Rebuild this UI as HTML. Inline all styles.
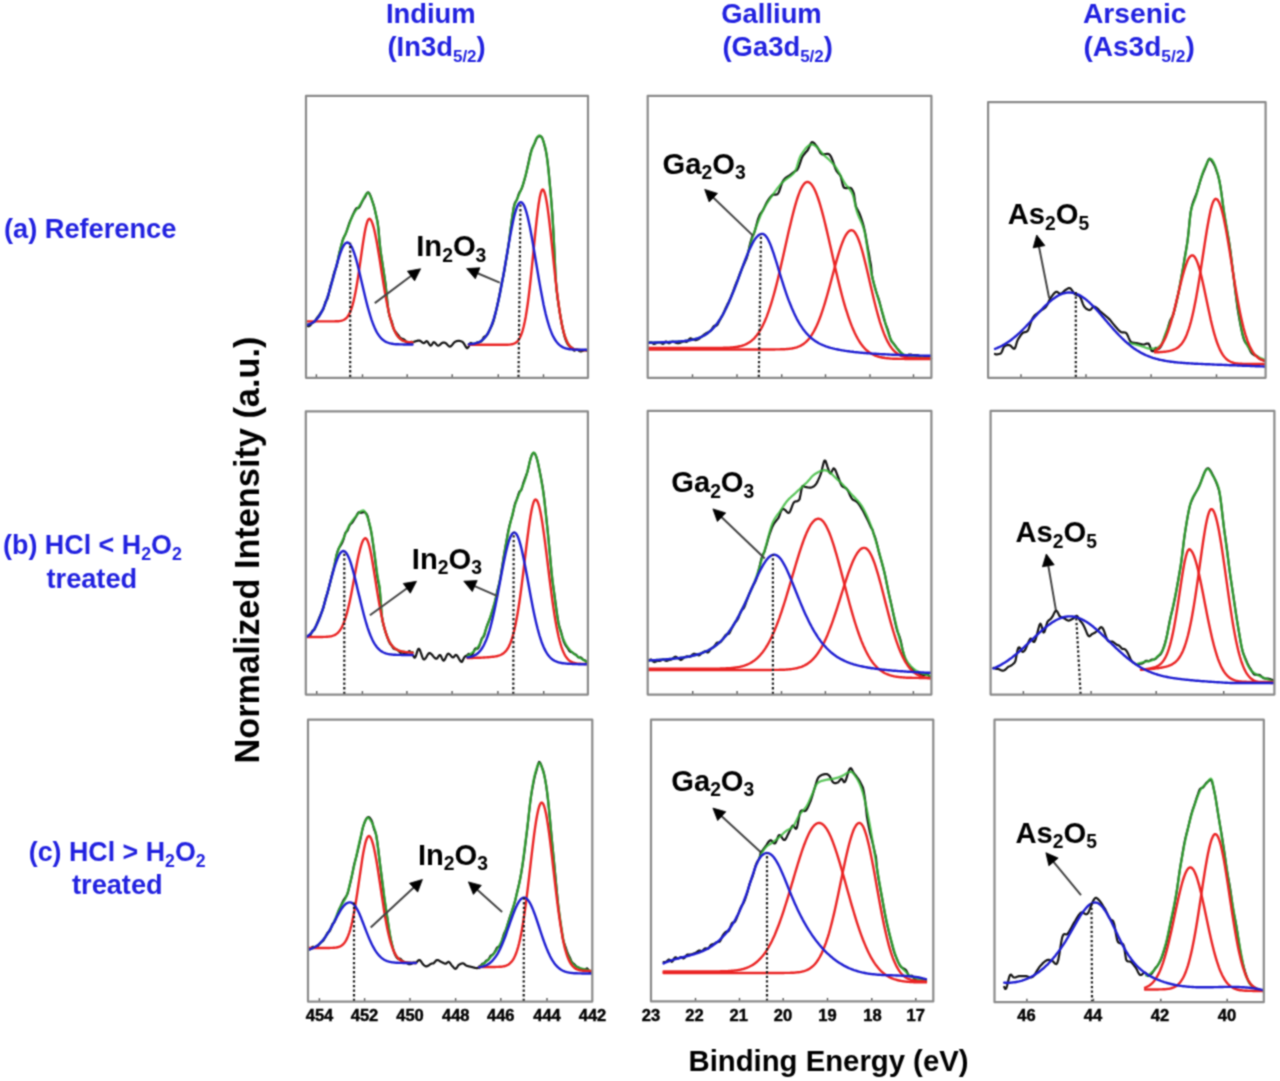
<!DOCTYPE html>
<html><head><meta charset="utf-8"><style>
html,body{margin:0;padding:0;background:#fff;}
svg{display:block;}
text{font-family:"Liberation Sans",sans-serif;font-weight:bold;}
</style></head><body>
<svg width="1280" height="1081" viewBox="0 0 1280 1081">
<defs><filter id="bl" color-interpolation-filters="sRGB" filterUnits="userSpaceOnUse" x="0" y="0" width="1280" height="1081"><feConvolveMatrix order="3" kernelMatrix="1 2 1 2 6 2 1 2 1" edgeMode="duplicate"/></filter></defs><g filter="url(#bl)"><rect x="0" y="0" width="1280" height="1081" fill="#fff"/>
<path d="M316.4,377.8 L316.4,374.3" stroke="#555" stroke-width="1.4"/><path d="M362.5,377.8 L362.5,374.3" stroke="#555" stroke-width="1.4"/><path d="M407.2,377.8 L407.2,374.3" stroke="#555" stroke-width="1.4"/><path d="M452.2,377.8 L452.2,374.3" stroke="#555" stroke-width="1.4"/><path d="M498.3,377.8 L498.3,374.3" stroke="#555" stroke-width="1.4"/><path d="M543.5,377.8 L543.5,374.3" stroke="#555" stroke-width="1.4"/><path d="M306.5,324.6 L307.5,325.9 L308.5,326.3 L309.5,325.9 L310.5,325.1 L311.5,323.7 L312.5,322.6 L313.5,322.3 L314.5,321.9 L315.5,320.4 L316.5,318.6 L317.5,317.1 L318.5,315.9 L319.5,314.6 L320.5,313.0 L321.5,311.5 L322.5,310.4 L323.5,308.6 L324.5,305.3 L325.5,301.9 L326.5,300.2 L327.5,298.8 L328.5,295.1 L329.5,289.9 L330.5,285.7 L331.5,282.5 L332.5,279.1 L333.5,275.1 L334.5,271.5 L335.5,269.1 L336.5,266.5 L337.5,262.1 L338.5,256.8 L339.5,252.2 L340.5,248.3 L341.5,244.4 L342.5,240.7 L343.5,238.0 L344.5,236.1 L345.5,234.2 L346.5,231.6 L347.5,228.7 L348.5,225.7 L349.5,222.6 L350.5,220.1 L351.5,218.0 L352.5,215.7 L353.5,213.5 L354.5,211.6 L355.5,209.6 L356.5,208.2 L357.5,208.2 L358.5,208.2 L359.5,206.9 L360.5,204.9 L361.5,203.0 L362.5,201.0 L363.5,199.2 L364.5,197.8 L365.5,196.1 L366.5,193.9 L367.5,192.5 L368.5,192.4 L369.5,193.7 L370.5,195.9 L371.5,198.7 L372.5,201.7 L373.5,204.6 L374.5,208.2 L375.5,212.7 L376.5,217.3 L377.5,221.6 L378.5,228.8 L379.5,240.8 L380.5,250.4 L381.5,257.5 L382.5,263.8 L383.5,270.3 L384.5,276.9 L385.5,283.9 L386.5,292.9 L387.5,303.2 L388.5,311.1 L389.5,316.2 L390.5,318.6 L391.5,320.7 L392.5,324.4 L393.5,328.4 L394.5,330.6 L395.5,331.8 L396.5,333.0 L397.5,334.3 L398.5,335.5 L399.5,336.9 L400.5,338.0 L401.5,338.5 L402.5,338.8 L403.5,339.3 L404.5,339.8 L405.5,340.8 L406.5,342.1 L407.5,342.8 L408.5,343.0 L409.5,342.9 L410.5,342.2 L411.5,341.8 L412.5,342.3" fill="none" stroke="#151515" stroke-width="2.2" stroke-linejoin="round" stroke-linecap="round" /><path d="M468.9,344.6 L469.9,343.5 L470.9,342.9 L471.9,343.7 L472.9,344.5 L473.9,344.5 L474.9,344.0 L475.9,343.3 L476.9,342.6 L477.9,342.3 L478.9,342.3 L479.9,342.1 L480.9,341.6 L481.9,340.6 L482.9,338.8 L483.8,337.1 L484.8,336.4 L485.8,336.2 L486.8,335.3 L487.8,333.8 L488.8,331.9 L489.8,329.6 L490.8,327.4 L491.8,325.5 L492.8,323.2 L493.8,320.1 L494.8,316.3 L495.8,312.1 L496.8,307.5 L497.8,302.9 L498.8,298.1 L499.8,293.1 L500.8,287.7 L501.8,282.6 L502.8,278.4 L503.8,273.8 L504.8,268.1 L505.8,261.9 L506.8,256.0 L507.8,249.9 L508.8,243.1 L509.8,235.3 L510.8,227.5 L511.8,220.2 L512.8,213.5 L513.7,207.5 L514.7,203.5 L515.7,201.5 L516.7,200.0 L517.7,197.3 L518.7,194.2 L519.7,192.0 L520.7,190.6 L521.7,188.6 L522.7,185.7 L523.7,182.4 L524.7,179.0 L525.7,175.3 L526.7,170.9 L527.7,166.3 L528.7,161.8 L529.7,157.1 L530.7,152.8 L531.7,149.5 L532.7,147.2 L533.7,145.2 L534.7,143.1 L535.7,140.5 L536.7,138.2 L537.7,137.0 L538.7,136.6 L539.7,136.2 L540.7,136.2 L541.7,137.1 L542.7,139.0 L543.6,141.8 L544.6,145.8 L545.6,149.8 L546.6,154.9 L547.6,161.9 L548.6,170.7 L549.6,181.5 L550.6,192.7 L551.6,204.5 L552.6,217.8 L553.6,235.0 L554.6,256.1 L555.6,277.7 L556.6,289.7 L557.6,298.0 L558.6,304.9 L559.6,311.4 L560.6,317.3 L561.6,322.9 L562.6,328.1 L563.6,332.6 L564.6,336.6 L565.6,339.7 L566.6,342.1 L567.6,344.0 L568.6,345.3 L569.6,346.3 L570.6,347.0 L571.6,347.5 L572.6,348.5 L573.5,350.1 L574.5,350.7 L575.5,350.0 L576.5,349.5 L577.5,349.8 L578.5,350.4 L579.5,350.9 L580.5,351.4 L581.5,351.3 L582.5,351.0 L583.5,350.6 L584.5,350.0 L585.5,349.9 L586.5,350.6 L587.5,351.1" fill="none" stroke="#151515" stroke-width="2.2" stroke-linejoin="round" stroke-linecap="round" /><path d="M412.5,342.5 L413.0,342.3 L413.5,342.1 L414.0,341.8 L414.5,341.6 L415.0,341.5 L415.5,341.3 L416.0,341.2 L416.5,341.0 L417.0,340.9 L417.5,340.7 L418.0,340.6 L418.5,340.6 L419.0,340.6 L419.5,340.6 L420.0,340.8 L420.5,341.1 L421.0,341.4 L421.5,341.8 L422.0,342.2 L422.5,342.6 L423.0,342.9 L423.5,343.1 L424.0,343.1 L424.5,342.8 L425.0,342.4 L425.5,341.9 L426.0,341.5 L426.5,341.2 L427.0,341.3 L427.5,341.7 L428.0,342.3 L428.5,343.1 L429.0,343.9 L429.5,344.6 L430.0,345.2 L430.5,345.6 L431.0,345.5 L431.5,345.0 L432.0,344.3 L432.5,343.5 L433.0,342.8 L433.5,342.3 L434.0,342.2 L434.5,342.4 L435.0,342.8 L435.5,343.3 L436.0,343.9 L436.5,344.5 L437.0,345.0 L437.5,345.4 L438.0,345.6 L438.5,345.6 L439.0,345.4 L439.5,345.1 L440.0,344.7 L440.5,344.3 L440.9,343.8 L441.4,343.4 L441.9,343.0 L442.4,342.8 L442.9,342.7 L443.4,342.6 L443.9,342.5 L444.4,342.6 L444.9,342.8 L445.4,343.0 L445.9,343.3 L446.4,343.7 L446.9,344.2 L447.4,344.8 L447.9,345.3 L448.4,345.8 L448.9,346.3 L449.4,346.5 L449.9,346.6 L450.4,346.5 L450.9,346.2 L451.4,345.7 L451.9,345.2 L452.4,344.6 L452.9,344.0 L453.4,343.4 L453.9,342.8 L454.4,342.3 L454.9,341.9 L455.4,341.6 L455.9,341.4 L456.4,341.2 L456.9,341.1 L457.4,341.0 L457.9,340.9 L458.4,340.9 L458.9,340.9 L459.4,340.9 L459.9,341.0 L460.4,341.0 L460.9,341.2 L461.4,341.4 L461.9,341.6 L462.4,341.9 L462.9,342.3 L463.4,342.8 L463.9,343.6 L464.4,344.4 L464.9,345.3 L465.4,346.2 L465.9,347.0 L466.4,347.7 L466.9,348.1 L467.4,348.2 L467.9,347.6 L468.4,347.0 L468.9,346.5" fill="none" stroke="#151515" stroke-width="2.2" stroke-linejoin="round" stroke-linecap="round" /><path d="M306.5,325.0 L307.5,324.7 L308.5,324.5 L309.5,324.1 L310.5,323.7 L311.5,323.3 L312.5,322.7 L313.5,322.1 L314.5,321.3 L315.5,320.4 L316.5,319.4 L317.5,318.3 L318.5,317.0 L319.5,315.5 L320.5,313.9 L321.5,312.1 L322.5,310.1 L323.5,307.9 L324.5,305.5 L325.5,303.0 L326.5,300.2 L327.5,297.2 L328.5,294.1 L329.5,290.8 L330.5,287.4 L331.5,283.9 L332.5,280.2 L333.5,276.6 L334.5,272.9 L335.5,269.3 L336.5,265.6 L337.5,261.5 L338.5,257.1 L339.5,252.7 L340.5,248.4 L341.5,244.5 L342.5,241.3 L343.5,238.5 L344.5,236.0 L345.5,233.7 L346.5,231.4 L347.5,229.0 L348.5,226.4 L349.5,223.7 L350.5,220.9 L351.5,218.3 L352.5,216.0 L353.5,214.0 L354.5,212.4 L355.5,210.9 L356.5,209.6 L357.5,208.3 L358.5,207.0 L359.5,205.7 L360.5,204.2 L361.5,202.4 L362.5,200.4 L363.5,198.4 L364.5,196.5 L365.5,194.8 L366.5,193.6 L367.5,192.9 L368.5,193.0 L369.5,194.2 L370.5,196.3 L371.5,199.0 L372.5,202.0 L373.5,205.0 L374.5,208.3 L375.5,212.2 L376.5,216.9 L377.5,222.5 L378.5,230.6 L379.5,241.9 L380.5,250.6 L381.5,257.3 L382.5,263.6 L383.5,270.3 L384.5,277.3 L385.5,284.8 L386.5,294.5 L387.5,304.8 L388.5,311.1 L389.5,315.5 L390.5,319.0 L391.5,322.4 L392.5,325.5 L393.5,328.3 L394.5,330.6 L395.5,332.7 L396.5,334.5 L397.5,335.9 L398.5,337.2 L399.5,338.3 L400.5,339.1 L401.5,339.8 L402.5,340.4 L403.5,340.9 L404.5,341.2 L405.5,341.5 L406.5,341.8 L407.5,341.9 L408.5,342.1 L409.5,342.2 L410.5,342.3 L411.5,342.3 L412.5,342.4" fill="none" stroke="#34b834" stroke-width="2.3" stroke-linejoin="round" stroke-linecap="round" stroke-opacity="0.8"/><path d="M468.9,344.2 L469.9,344.2 L470.9,344.1 L471.9,344.0 L472.9,343.8 L473.9,343.7 L474.9,343.5 L475.9,343.2 L476.9,342.9 L477.9,342.6 L478.9,342.2 L479.9,341.7 L480.9,341.1 L481.9,340.4 L482.9,339.6 L483.8,338.7 L484.8,337.6 L485.8,336.4 L486.8,335.0 L487.8,333.4 L488.8,331.5 L489.8,329.5 L490.8,327.2 L491.8,324.7 L492.8,321.9 L493.8,318.8 L494.8,315.4 L495.8,311.7 L496.8,307.8 L497.8,303.5 L498.8,299.0 L499.8,294.2 L500.8,289.1 L501.8,283.8 L502.8,278.4 L503.8,272.7 L504.8,266.9 L505.8,261.2 L506.8,255.4 L507.8,249.4 L508.8,242.8 L509.8,235.4 L510.8,227.7 L511.8,220.2 L512.8,213.5 L513.7,208.1 L514.7,204.5 L515.7,202.1 L516.7,199.9 L517.7,197.6 L518.7,195.3 L519.7,193.0 L520.7,190.6 L521.7,188.0 L522.7,185.2 L523.7,181.9 L524.7,178.4 L525.7,174.7 L526.7,170.9 L527.7,167.1 L528.7,163.0 L529.7,158.5 L530.7,154.2 L531.7,150.4 L532.7,147.6 L533.7,145.0 L534.7,142.4 L535.7,140.1 L536.7,138.1 L537.7,136.6 L538.7,135.7 L539.7,135.5 L540.7,136.1 L541.7,137.5 L542.7,139.5 L543.6,142.0 L544.6,145.0 L545.6,148.3 L546.6,154.6 L547.6,163.0 L548.6,172.1 L549.6,182.6 L550.6,193.4 L551.6,204.5 L552.6,217.4 L553.6,234.5 L554.6,255.7 L555.6,277.7 L556.6,290.0 L557.6,298.1 L558.6,304.7 L559.6,311.3 L560.6,317.5 L561.6,323.0 L562.6,327.7 L563.6,331.9 L564.6,335.4 L565.6,338.3 L566.6,340.8 L567.6,342.8 L568.6,344.4 L569.6,345.8 L570.6,346.8 L571.6,347.6 L572.6,348.3 L573.5,348.8 L574.5,349.2 L575.5,349.5 L576.5,349.7 L577.5,349.8 L578.5,349.9 L579.5,350.0 L580.5,350.1 L581.5,350.1 L582.5,350.1 L583.5,350.2 L584.5,350.2 L585.5,350.2 L586.5,350.2 L587.5,350.2" fill="none" stroke="#34b834" stroke-width="2.3" stroke-linejoin="round" stroke-linecap="round" stroke-opacity="0.8"/><path d="M306.5,321.4 L307.5,321.4 L308.5,321.4 L309.5,321.4 L310.5,321.4 L311.5,321.4 L312.5,321.4 L313.5,321.4 L314.5,321.4 L315.5,321.4 L316.5,321.4 L317.5,321.4 L318.5,321.4 L319.5,321.4 L320.5,321.4 L321.5,321.4 L322.5,321.4 L323.5,321.4 L324.5,321.4 L325.5,321.4 L326.5,321.4 L327.5,321.4 L328.5,321.4 L329.5,321.4 L330.5,321.4 L331.5,321.4 L332.5,321.4 L333.5,321.4 L334.5,321.4 L335.5,321.3 L336.5,321.3 L337.5,321.2 L338.5,321.2 L339.5,321.1 L340.5,320.9 L341.5,320.7 L342.5,320.4 L343.5,320.0 L344.5,319.5 L345.5,318.8 L346.5,317.9 L347.5,316.7 L348.5,315.3 L349.5,313.4 L350.5,311.2 L351.5,308.5 L352.5,305.3 L353.5,301.5 L354.5,297.1 L355.5,292.2 L356.5,286.7 L357.5,280.7 L358.5,274.2 L359.5,267.4 L360.5,260.4 L361.5,253.3 L362.5,246.4 L363.5,239.9 L364.5,233.8 L365.5,228.6 L366.5,224.3 L367.5,221.1 L368.5,219.2 L369.5,218.7 L370.5,219.4 L371.5,221.1 L372.5,223.6 L373.5,226.8 L374.5,230.8 L375.5,235.4 L376.5,240.6 L377.5,246.2 L378.5,252.2 L379.5,258.4 L380.5,264.8 L381.5,271.2 L382.5,277.5 L383.5,283.8 L384.5,289.8 L385.5,295.5 L386.5,301.0 L387.5,306.1 L388.5,310.8 L389.5,315.0 L390.5,318.9 L391.5,322.4 L392.5,325.5 L393.5,328.3 L394.5,330.6 L395.5,332.7 L396.5,334.5 L397.5,335.9 L398.5,337.2 L399.5,338.2 L400.5,339.1 L401.5,339.8 L402.5,340.4 L403.5,340.9 L404.5,341.2 L405.5,341.5 L406.5,341.8 L407.5,341.9 L408.5,342.1 L409.5,342.2 L410.5,342.3 L411.5,342.3 L412.5,342.4" fill="none" stroke="#ea2424" stroke-width="2.4" stroke-linejoin="round" stroke-linecap="round" /><path d="M468.9,344.8 L469.9,344.8 L470.9,344.8 L471.9,344.8 L472.9,344.8 L473.9,344.8 L474.9,344.8 L475.9,344.8 L476.9,344.8 L477.9,344.8 L478.9,344.8 L479.9,344.8 L480.9,344.8 L481.9,344.8 L482.9,344.8 L483.8,344.8 L484.8,344.8 L485.8,344.8 L486.8,344.8 L487.8,344.8 L488.8,344.8 L489.8,344.8 L490.8,344.8 L491.8,344.8 L492.8,344.8 L493.8,344.8 L494.8,344.8 L495.8,344.8 L496.8,344.8 L497.8,344.8 L498.8,344.8 L499.8,344.8 L500.8,344.8 L501.8,344.8 L502.8,344.8 L503.8,344.8 L504.8,344.8 L505.8,344.8 L506.8,344.7 L507.8,344.7 L508.8,344.6 L509.8,344.6 L510.8,344.4 L511.8,344.3 L512.8,344.0 L513.7,343.7 L514.7,343.3 L515.7,342.7 L516.7,342.0 L517.7,341.0 L518.7,339.7 L519.7,338.0 L520.7,336.0 L521.7,333.4 L522.7,330.3 L523.7,326.5 L524.7,322.1 L525.7,316.9 L526.7,310.8 L527.7,304.0 L528.7,296.3 L529.7,287.9 L530.7,278.9 L531.7,269.2 L532.7,259.2 L533.7,249.0 L534.7,238.8 L535.7,228.9 L536.7,219.6 L537.7,211.1 L538.7,203.7 L539.7,197.6 L540.7,193.2 L541.7,190.4 L542.7,189.4 L543.6,190.2 L544.6,192.5 L545.6,196.3 L546.6,201.5 L547.6,207.9 L548.6,215.4 L549.6,223.7 L550.6,232.7 L551.6,242.1 L552.6,251.7 L553.6,261.4 L554.6,270.9 L555.6,280.1 L556.6,288.8 L557.6,297.0 L558.6,304.5 L559.6,311.4 L560.6,317.5 L561.6,323.0 L562.6,327.8 L563.6,331.9 L564.6,335.4 L565.6,338.3 L566.6,340.8 L567.6,342.8 L568.6,344.5 L569.6,345.8 L570.6,346.8 L571.6,347.7 L572.6,348.3 L573.5,348.8 L574.5,349.2 L575.5,349.5 L576.5,349.7 L577.5,349.8 L578.5,349.9 L579.5,350.0 L580.5,350.1 L581.5,350.1 L582.5,350.1 L583.5,350.2 L584.5,350.2 L585.5,350.2 L586.5,350.2 L587.5,350.2" fill="none" stroke="#ea2424" stroke-width="2.4" stroke-linejoin="round" stroke-linecap="round" /><path d="M306.5,325.0 L307.5,324.8 L308.5,324.5 L309.5,324.1 L310.5,323.7 L311.5,323.3 L312.5,322.7 L313.5,322.1 L314.5,321.3 L315.5,320.4 L316.5,319.4 L317.5,318.3 L318.5,317.0 L319.5,315.5 L320.5,313.9 L321.5,312.1 L322.5,310.1 L323.5,307.9 L324.5,305.5 L325.5,302.9 L326.5,300.2 L327.5,297.2 L328.5,294.1 L329.5,290.8 L330.5,287.4 L331.5,283.8 L332.5,280.2 L333.5,276.6 L334.5,272.9 L335.5,269.2 L336.5,265.6 L337.5,262.1 L338.5,258.8 L339.5,255.6 L340.5,252.7 L341.5,250.1 L342.5,247.8 L343.5,245.9 L344.5,244.4 L345.5,243.3 L346.5,242.7 L347.5,242.5 L348.5,242.8 L349.5,243.6 L350.5,244.8 L351.5,246.5 L352.5,248.6 L353.5,251.1 L354.5,254.0 L355.5,257.2 L356.5,260.7 L357.5,264.5 L358.5,268.5 L359.5,272.6 L360.5,276.9 L361.5,281.2 L362.5,285.5 L363.5,289.8 L364.5,294.0 L365.5,298.2 L366.5,302.2 L367.5,306.1 L368.5,309.8 L369.5,313.2 L370.5,316.5 L371.5,319.6 L372.5,322.4 L373.5,325.0 L374.5,327.4 L375.5,329.6 L376.5,331.6 L377.5,333.3 L378.5,334.9 L379.5,336.3 L380.5,337.5 L381.5,338.6 L382.5,339.5 L383.5,340.3 L384.5,341.0 L385.5,341.6 L386.5,342.1 L387.5,342.5 L388.5,342.9 L389.5,343.2 L390.5,343.4 L391.5,343.7 L392.5,343.8 L393.5,344.0 L394.5,344.1 L395.5,344.2 L396.5,344.2 L397.5,344.3 L398.5,344.3 L399.5,344.4 L400.5,344.4 L401.5,344.4 L402.5,344.4 L403.5,344.5 L404.5,344.5 L405.5,344.5 L406.5,344.5 L407.5,344.5 L408.5,344.5 L409.5,344.5 L410.5,344.5 L411.5,344.5 L412.5,344.5" fill="none" stroke="#1e1ed2" stroke-width="2.4" stroke-linejoin="round" stroke-linecap="round" /><path d="M468.9,344.2 L469.9,344.2 L470.9,344.1 L471.9,344.0 L472.9,343.8 L473.9,343.7 L474.9,343.5 L475.9,343.2 L476.9,342.9 L477.9,342.6 L478.9,342.2 L479.9,341.7 L480.9,341.1 L481.9,340.4 L482.9,339.6 L483.8,338.7 L484.8,337.6 L485.8,336.4 L486.8,335.0 L487.8,333.4 L488.8,331.5 L489.8,329.5 L490.8,327.2 L491.8,324.7 L492.8,321.9 L493.8,318.8 L494.8,315.4 L495.8,311.7 L496.8,307.8 L497.8,303.5 L498.8,299.0 L499.8,294.2 L500.8,289.1 L501.8,283.8 L502.8,278.4 L503.8,272.7 L504.8,266.9 L505.8,261.1 L506.8,255.2 L507.8,249.4 L508.8,243.6 L509.8,238.0 L510.8,232.6 L511.8,227.5 L512.8,222.6 L513.7,218.2 L514.7,214.2 L515.7,210.8 L516.7,207.8 L517.7,205.5 L518.7,203.7 L519.7,202.6 L520.7,202.2 L521.7,202.4 L522.7,203.3 L523.7,204.8 L524.7,207.0 L525.7,209.8 L526.7,213.2 L527.7,217.0 L528.7,221.4 L529.7,226.1 L530.7,231.3 L531.7,236.7 L532.7,242.4 L533.7,248.3 L534.7,254.2 L535.7,260.3 L536.7,266.3 L537.7,272.3 L538.7,278.2 L539.7,283.9 L540.7,289.5 L541.7,294.8 L542.7,299.9 L543.6,304.8 L544.6,309.3 L545.6,313.6 L546.6,317.5 L547.6,321.2 L548.6,324.5 L549.6,327.6 L550.6,330.4 L551.6,332.9 L552.6,335.2 L553.6,337.2 L554.6,339.0 L555.6,340.5 L556.6,341.9 L557.6,343.1 L558.6,344.2 L559.6,345.1 L560.6,345.9 L561.6,346.5 L562.6,347.1 L563.6,347.6 L564.6,348.0 L565.6,348.3 L566.6,348.6 L567.6,348.8 L568.6,349.0 L569.6,349.2 L570.6,349.3 L571.6,349.4 L572.6,349.5 L573.5,349.5 L574.5,349.6 L575.5,349.6 L576.5,349.7 L577.5,349.7 L578.5,349.7 L579.5,349.7 L580.5,349.8 L581.5,349.8 L582.5,349.8 L583.5,349.8 L584.5,349.8 L585.5,349.8 L586.5,349.8 L587.5,349.8" fill="none" stroke="#1e1ed2" stroke-width="2.4" stroke-linejoin="round" stroke-linecap="round" /><path d="M350.2,377.0 L350.2,242.8" stroke="#1a1a1a" stroke-width="2.2" stroke-dasharray="2.3,2.3" fill="none"/><path d="M518.5,377.0 L520.5,202.2" stroke="#1a1a1a" stroke-width="2.2" stroke-dasharray="2.3,2.3" fill="none"/><path d="M374.8,303.1 L412.6,274.8" stroke="#444" stroke-width="2.0" fill="none"/><path d="M420.6,268.8 L414.6,280.8 L407.4,271.2 Z" fill="#000" stroke="#000" stroke-width="0.8" stroke-linejoin="round"/><path d="M499.7,282.7 L475.8,272.5" stroke="#444" stroke-width="2.0" fill="none"/><path d="M466.6,268.6 L480.0,267.8 L475.3,278.8 Z" fill="#000" stroke="#000" stroke-width="0.8" stroke-linejoin="round"/><text x="416.2" y="256.4" font-size="29.2" fill="#000">In<tspan font-size="19.3" dy="5.5">2</tspan><tspan dy="-5.5">O</tspan><tspan font-size="19.3" dy="5.5">3</tspan></text>
<path d="M692.5,377.8 L692.5,374.3" stroke="#555" stroke-width="1.4"/><path d="M737.0,377.8 L737.0,374.3" stroke="#555" stroke-width="1.4"/><path d="M781.7,377.8 L781.7,374.3" stroke="#555" stroke-width="1.4"/><path d="M825.5,377.8 L825.5,374.3" stroke="#555" stroke-width="1.4"/><path d="M870.0,377.8 L870.0,374.3" stroke="#555" stroke-width="1.4"/><path d="M913.5,377.8 L913.5,374.3" stroke="#555" stroke-width="1.4"/><path d="M648.5,343.0 L649.5,342.6 L650.5,342.3 L651.5,342.4 L652.5,343.2 L653.5,343.9 L654.5,344.0 L655.5,343.6 L656.5,343.1 L657.5,342.7 L658.5,342.5 L659.5,342.4 L660.5,342.6 L661.5,343.3 L662.5,343.8 L663.5,343.6 L664.5,342.6 L665.5,341.6 L666.5,341.5 L667.5,342.3 L668.5,343.2 L669.5,343.2 L670.5,342.5 L671.5,341.8 L672.5,341.6 L673.5,341.9 L674.5,342.2 L675.5,342.6 L676.5,342.9 L677.6,343.2 L678.6,343.2 L679.6,342.9 L680.6,342.6 L681.6,342.2 L682.6,341.8 L683.6,341.5 L684.6,341.4 L685.6,341.7 L686.6,341.9 L687.6,341.3 L688.6,340.0 L689.6,338.7 L690.6,338.4 L691.6,338.7 L692.6,339.2 L693.6,339.5 L694.6,339.9 L695.6,340.1 L696.6,340.0 L697.6,339.6 L698.6,339.0 L699.6,338.3 L700.6,337.5 L701.6,336.7 L702.6,335.9 L703.6,335.0 L704.6,334.2 L705.6,333.6 L706.6,333.1 L707.6,332.6 L708.6,332.0 L709.6,331.3 L710.6,330.5 L711.6,329.4 L712.6,327.8 L713.6,326.4 L714.6,325.7 L715.6,325.7 L716.6,325.6 L717.6,324.5 L718.6,322.6 L719.6,320.6 L720.6,318.8 L721.6,317.0 L722.6,315.2 L723.6,313.0 L724.6,310.6 L725.6,308.2 L726.6,306.1 L727.6,304.1 L728.6,302.2 L729.6,300.1 L730.6,297.9 L731.6,295.5 L732.6,292.9 L733.7,289.9 L734.7,287.0 L735.7,284.4 L736.7,282.0 L737.7,279.6 L738.7,277.0 L739.7,274.2 L740.7,271.6 L741.7,269.1 L742.7,266.9 L743.7,264.7 L744.7,262.5 L745.7,260.4 L746.7,258.0 L747.7,254.6 L748.7,250.2 L749.7,245.6 L750.7,241.6 L751.7,238.2 L752.7,235.3 L753.7,234.2 L754.7,231.4 L755.7,227.8 L756.7,223.9 L757.7,220.2 L758.7,217.3 L759.7,214.9 L760.7,213.2 L761.7,212.0 L762.7,210.7 L763.7,208.7 L764.7,206.6 L765.7,204.5 L766.7,202.6 L767.7,200.9 L768.7,199.3 L769.7,197.9 L770.7,196.7 L771.7,195.7 L772.7,194.9 L773.7,194.7 L774.7,194.7 L775.7,194.7 L776.7,194.5 L777.7,194.0 L778.7,192.5 L779.7,189.9 L780.7,186.8 L781.7,183.9 L782.7,181.5 L783.7,179.9 L784.7,178.8 L785.7,177.8 L786.7,177.2 L787.7,176.5 L788.7,175.9 L789.8,175.2 L790.8,174.5 L791.8,173.7 L792.8,172.9 L793.8,172.1 L794.8,171.4 L795.8,170.8 L796.8,170.3 L797.8,168.9 L798.8,166.7 L799.8,163.9 L800.8,160.8 L801.8,158.0 L802.8,156.1 L803.8,154.7 L804.8,153.5 L805.8,152.3 L806.8,151.2 L807.8,150.0 L808.8,148.1 L809.8,145.6 L810.8,143.4 L811.8,142.2 L812.8,142.3 L813.8,142.9 L814.8,143.9 L815.8,145.1 L816.8,146.4 L817.8,147.9 L818.8,149.8 L819.8,151.7 L820.8,153.3 L821.8,154.2 L822.8,154.4 L823.8,154.4 L824.8,154.2 L825.8,154.0 L826.8,153.9 L827.8,153.8 L828.8,154.0 L829.8,154.9 L830.8,156.3 L831.8,158.5 L832.8,160.9 L833.8,163.8 L834.8,166.8 L835.8,169.5 L836.8,171.4 L837.8,172.7 L838.8,173.7 L839.8,174.8 L840.8,176.6 L841.8,180.7 L842.8,185.0 L843.8,187.5 L844.8,188.0 L845.8,188.1 L846.9,188.1 L847.9,187.9 L848.9,187.8 L849.9,187.8 L850.9,188.0 L851.9,189.2 L852.9,191.1 L853.9,193.6 L854.9,200.7 L855.9,206.6 L856.9,208.6 L857.9,210.4 L858.9,212.3 L859.9,214.6 L860.9,217.4 L861.9,220.3 L862.9,223.6 L863.9,227.4 L864.9,231.8 L865.9,237.2 L866.9,243.0 L867.9,248.7 L868.9,253.8 L869.9,259.9 L870.9,264.9 L871.9,275.2 L872.9,279.7 L873.9,283.7 L874.9,287.4 L875.9,290.9 L876.9,294.0 L877.9,296.8 L878.9,299.9 L879.9,303.5 L880.9,307.5 L881.9,311.4 L882.9,315.0 L883.9,318.6 L884.9,322.0 L885.9,325.0 L886.9,327.5 L887.9,330.2 L888.9,333.7 L889.9,337.3 L890.9,340.1 L891.9,341.8 L892.9,342.8 L893.9,343.9 L894.9,345.3 L895.9,346.7 L896.9,348.1 L897.9,349.3 L898.9,350.5 L899.9,351.7 L900.9,352.7 L901.9,353.7 L903.0,354.6 L904.0,355.4 L905.0,356.1 L906.0,356.3 L907.0,355.9 L908.0,355.1 L909.0,354.5 L910.0,354.5 L911.0,354.7 L912.0,354.9 L913.0,355.0 L914.0,355.1 L915.0,355.2 L916.0,355.2 L917.0,355.1 L918.0,355.3 L919.0,356.1 L920.0,357.0 L921.0,357.8 L922.0,358.2 L923.0,358.3 L924.0,358.3 L925.0,357.8 L926.0,357.1 L927.0,356.7 L928.0,357.0 L929.0,357.6 L930.0,358.1 L931.0,358.4" fill="none" stroke="#151515" stroke-width="2.2" stroke-linejoin="round" stroke-linecap="round" /><path d="M648.5,342.7 L649.5,342.7 L650.5,342.6 L651.5,342.6 L652.5,342.6 L653.5,342.6 L654.5,342.5 L655.5,342.5 L656.5,342.5 L657.5,342.5 L658.5,342.4 L659.5,342.4 L660.5,342.4 L661.5,342.3 L662.5,342.3 L663.5,342.3 L664.5,342.2 L665.5,342.2 L666.5,342.2 L667.5,342.1 L668.5,342.1 L669.5,342.0 L670.5,342.0 L671.5,341.9 L672.5,341.9 L673.5,341.8 L674.5,341.8 L675.5,341.7 L676.5,341.7 L677.6,341.6 L678.6,341.5 L679.6,341.4 L680.6,341.4 L681.6,341.3 L682.6,341.2 L683.6,341.1 L684.6,341.0 L685.6,340.8 L686.6,340.7 L687.6,340.6 L688.6,340.4 L689.6,340.3 L690.6,340.1 L691.6,339.9 L692.6,339.7 L693.6,339.4 L694.6,339.2 L695.6,338.9 L696.6,338.6 L697.6,338.3 L698.6,338.0 L699.6,337.6 L700.6,337.2 L701.6,336.7 L702.6,336.2 L703.6,335.7 L704.6,335.2 L705.6,334.6 L706.6,333.9 L707.6,333.2 L708.6,332.4 L709.6,331.6 L710.6,330.8 L711.6,329.8 L712.6,328.8 L713.6,327.8 L714.6,326.7 L715.6,325.5 L716.6,324.2 L717.6,322.9 L718.6,321.4 L719.6,319.9 L720.6,318.4 L721.6,316.7 L722.6,315.0 L723.6,313.1 L724.6,311.2 L725.6,309.3 L726.6,307.2 L727.6,305.1 L728.6,302.9 L729.6,300.6 L730.6,298.2 L731.6,295.8 L732.6,293.4 L733.7,290.8 L734.7,288.2 L735.7,285.6 L736.7,283.0 L737.7,280.3 L738.7,277.6 L739.7,274.8 L740.7,272.1 L741.7,269.4 L742.7,266.7 L743.7,264.0 L744.7,261.4 L745.7,258.9 L746.7,256.4 L747.7,253.7 L748.7,250.5 L749.7,247.1 L750.7,243.6 L751.7,240.1 L752.7,236.8 L753.7,233.8 L754.7,230.9 L755.7,228.0 L756.7,225.3 L757.7,222.6 L758.7,220.0 L759.7,217.5 L760.7,215.1 L761.7,212.9 L762.7,210.8 L763.7,208.9 L764.7,207.0 L765.7,205.3 L766.7,203.7 L767.7,202.1 L768.7,200.6 L769.7,199.1 L770.7,197.7 L771.7,196.3 L772.7,194.9 L773.7,193.5 L774.7,192.1 L775.7,190.7 L776.7,189.3 L777.7,188.0 L778.7,186.7 L779.7,185.4 L780.7,184.2 L781.7,183.1 L782.7,182.1 L783.7,181.1 L784.7,180.3 L785.7,179.5 L786.7,178.8 L787.7,178.1 L788.7,177.4 L789.8,176.7 L790.8,175.9 L791.8,175.0 L792.8,174.1 L793.8,172.9 L794.8,171.6 L795.8,169.9 L796.8,167.1 L797.8,163.8 L798.8,160.4 L799.8,157.5 L800.8,155.4 L801.8,153.9 L802.8,152.4 L803.8,150.9 L804.8,149.6 L805.8,148.3 L806.8,147.2 L807.8,146.3 L808.8,145.5 L809.8,144.9 L810.8,144.5 L811.8,144.4 L812.8,144.5 L813.8,144.9 L814.8,145.5 L815.8,146.2 L816.8,147.1 L817.8,148.1 L818.8,149.3 L819.8,150.4 L820.8,151.6 L821.8,152.7 L822.8,153.9 L823.8,154.9 L824.8,155.9 L825.8,156.8 L826.8,157.7 L827.8,158.6 L828.8,159.5 L829.8,160.5 L830.8,161.5 L831.8,162.5 L832.8,163.6 L833.8,164.7 L834.8,165.9 L835.8,167.3 L836.8,168.9 L837.8,170.5 L838.8,172.3 L839.8,174.2 L840.8,176.1 L841.8,178.0 L842.8,179.8 L843.8,181.6 L844.8,183.2 L845.8,184.7 L846.9,186.0 L847.9,187.1 L848.9,188.3 L849.9,189.5 L850.9,191.0 L851.9,192.7 L852.9,194.9 L853.9,198.4 L854.9,202.9 L855.9,207.4 L856.9,211.4 L857.9,214.4 L858.9,216.9 L859.9,219.1 L860.9,221.3 L861.9,223.5 L862.9,226.1 L863.9,229.2 L864.9,233.0 L865.9,238.6 L866.9,245.3 L867.9,252.5 L868.9,259.6 L869.9,265.8 L870.9,270.9 L871.9,275.3 L872.9,279.5 L873.9,283.4 L874.9,287.1 L875.9,290.8 L876.9,294.3 L877.9,297.6 L878.9,300.9 L879.9,304.1 L880.9,307.3 L881.9,310.6 L882.9,313.9 L883.9,317.5 L884.9,321.2 L885.9,325.0 L886.9,328.6 L887.9,332.0 L888.9,334.9 L889.9,337.3 L890.9,339.3 L891.9,341.2 L892.9,342.8 L893.9,344.3 L894.9,345.7 L895.9,347.0 L896.9,348.1 L897.9,349.2 L898.9,350.3 L899.9,351.4 L900.9,352.4 L901.9,353.3 L903.0,354.1 L904.0,354.6 L905.0,355.0 L906.0,355.2 L907.0,355.4 L908.0,355.5 L909.0,355.7 L910.0,355.8 L911.0,355.9 L912.0,356.0 L913.0,356.1 L914.0,356.2 L915.0,356.2 L916.0,356.3 L917.0,356.4 L918.0,356.5 L919.0,356.6 L920.0,356.7 L921.0,356.8 L922.0,356.8 L923.0,356.9 L924.0,357.0 L925.0,357.1 L926.0,357.1 L927.0,357.2 L928.0,357.3 L929.0,357.3 L930.0,357.4 L931.0,357.5" fill="none" stroke="#34b834" stroke-width="2.3" stroke-linejoin="round" stroke-linecap="round" stroke-opacity="0.8"/><path d="M648.5,348.0 L649.5,348.0 L650.5,348.0 L651.5,348.0 L652.5,348.0 L653.5,348.0 L654.5,348.0 L655.5,348.0 L656.5,348.0 L657.5,348.0 L658.5,348.0 L659.5,348.0 L660.5,348.0 L661.5,348.0 L662.5,348.0 L663.5,348.0 L664.5,348.0 L665.5,348.0 L666.5,348.0 L667.5,348.0 L668.5,348.0 L669.5,348.0 L670.5,348.0 L671.5,348.0 L672.5,348.0 L673.5,348.0 L674.5,348.0 L675.5,348.0 L676.5,348.0 L677.6,348.0 L678.6,348.0 L679.6,348.0 L680.6,348.0 L681.6,348.0 L682.6,348.0 L683.6,348.0 L684.6,348.0 L685.6,348.0 L686.6,348.0 L687.6,348.0 L688.6,348.0 L689.6,348.0 L690.6,348.0 L691.6,348.0 L692.6,348.0 L693.6,348.0 L694.6,348.0 L695.6,348.0 L696.6,348.0 L697.6,348.0 L698.6,348.0 L699.6,348.0 L700.6,348.0 L701.6,348.0 L702.6,348.0 L703.6,348.0 L704.6,348.0 L705.6,348.0 L706.6,348.0 L707.6,348.0 L708.6,348.0 L709.6,348.0 L710.6,348.0 L711.6,348.0 L712.6,348.0 L713.6,348.0 L714.6,348.0 L715.6,348.0 L716.6,348.0 L717.6,347.9 L718.6,347.9 L719.6,347.9 L720.6,347.9 L721.6,347.9 L722.6,347.9 L723.6,347.8 L724.6,347.8 L725.6,347.8 L726.6,347.8 L727.6,347.7 L728.6,347.7 L729.6,347.6 L730.6,347.5 L731.6,347.5 L732.6,347.4 L733.7,347.3 L734.7,347.2 L735.7,347.0 L736.7,346.9 L737.7,346.7 L738.7,346.5 L739.7,346.3 L740.7,346.1 L741.7,345.8 L742.7,345.5 L743.7,345.2 L744.7,344.8 L745.7,344.3 L746.7,343.9 L747.7,343.3 L748.7,342.7 L749.7,342.1 L750.7,341.4 L751.7,340.6 L752.7,339.7 L753.7,338.8 L754.7,337.8 L755.7,336.6 L756.7,335.4 L757.7,334.1 L758.7,332.6 L759.7,331.1 L760.7,329.4 L761.7,327.6 L762.7,325.7 L763.7,323.6 L764.7,321.4 L765.7,319.1 L766.7,316.6 L767.7,313.9 L768.7,311.1 L769.7,308.2 L770.7,305.1 L771.7,301.9 L772.7,298.5 L773.7,295.0 L774.7,291.4 L775.7,287.6 L776.7,283.7 L777.7,279.7 L778.7,275.5 L779.7,271.3 L780.7,267.0 L781.7,262.6 L782.7,258.2 L783.7,253.7 L784.7,249.2 L785.7,244.7 L786.7,240.2 L787.7,235.7 L788.7,231.3 L789.8,226.9 L790.8,222.7 L791.8,218.5 L792.8,214.5 L793.8,210.6 L794.8,206.9 L795.8,203.4 L796.8,200.0 L797.8,197.0 L798.8,194.1 L799.8,191.6 L800.8,189.3 L801.8,187.3 L802.8,185.6 L803.8,184.2 L804.8,183.1 L805.8,182.4 L806.8,182.0 L807.8,182.0 L808.8,182.2 L809.8,182.8 L810.8,183.7 L811.8,184.8 L812.8,186.3 L813.8,188.0 L814.8,190.0 L815.8,192.3 L816.8,194.8 L817.8,197.5 L818.8,200.5 L819.8,203.7 L820.8,207.1 L821.8,210.6 L822.8,214.4 L823.8,218.2 L824.8,222.3 L825.8,226.4 L826.8,230.6 L827.8,234.9 L828.8,239.3 L829.8,243.7 L830.8,248.1 L831.8,252.6 L832.8,257.0 L833.8,261.4 L834.8,265.9 L835.8,270.2 L836.8,274.5 L837.8,278.7 L838.8,282.9 L839.8,286.9 L840.8,290.9 L841.8,294.8 L842.8,298.5 L843.8,302.1 L844.8,305.6 L845.8,309.0 L846.9,312.2 L847.9,315.3 L848.9,318.3 L849.9,321.1 L850.9,323.8 L851.9,326.4 L852.9,328.8 L853.9,331.1 L854.9,333.3 L855.9,335.3 L856.9,337.2 L857.9,339.0 L858.9,340.7 L859.9,342.3 L860.9,343.7 L861.9,345.1 L862.9,346.4 L863.9,347.5 L864.9,348.6 L865.9,349.6 L866.9,350.5 L867.9,351.3 L868.9,352.1 L869.9,352.8 L870.9,353.4 L871.9,354.0 L872.9,354.5 L873.9,355.0 L874.9,355.5 L875.9,355.8 L876.9,356.2 L877.9,356.5 L878.9,356.8 L879.9,357.1 L880.9,357.3 L881.9,357.5 L882.9,357.7 L883.9,357.8 L884.9,358.0 L885.9,358.1 L886.9,358.2 L887.9,358.3 L888.9,358.4 L889.9,358.5 L890.9,358.6 L891.9,358.6 L892.9,358.7 L893.9,358.7 L894.9,358.8 L895.9,358.8 L896.9,358.8 L897.9,358.8 L898.9,358.9 L899.9,358.9 L900.9,358.9 L901.9,358.9 L903.0,358.9 L904.0,358.9 L905.0,359.0 L906.0,359.0 L907.0,359.0 L908.0,359.0 L909.0,359.0 L910.0,359.0 L911.0,359.0 L912.0,359.0 L913.0,359.0 L914.0,359.0 L915.0,359.0 L916.0,359.0 L917.0,359.0 L918.0,359.0 L919.0,359.0 L920.0,359.0 L921.0,359.0 L922.0,359.0 L923.0,359.0 L924.0,359.0 L925.0,359.0 L926.0,359.0 L927.0,359.0 L928.0,359.0 L929.0,359.0 L930.0,359.0 L931.0,359.0" fill="none" stroke="#ea2424" stroke-width="2.4" stroke-linejoin="round" stroke-linecap="round" /><path d="M648.5,349.5 L649.5,349.5 L650.5,349.5 L651.5,349.5 L652.5,349.5 L653.5,349.5 L654.5,349.5 L655.5,349.5 L656.5,349.5 L657.5,349.5 L658.5,349.5 L659.5,349.5 L660.5,349.5 L661.5,349.5 L662.5,349.5 L663.5,349.5 L664.5,349.5 L665.5,349.5 L666.5,349.5 L667.5,349.5 L668.5,349.5 L669.5,349.5 L670.5,349.5 L671.5,349.5 L672.5,349.5 L673.5,349.5 L674.5,349.5 L675.5,349.5 L676.5,349.5 L677.6,349.5 L678.6,349.5 L679.6,349.5 L680.6,349.5 L681.6,349.5 L682.6,349.5 L683.6,349.5 L684.6,349.5 L685.6,349.5 L686.6,349.5 L687.6,349.5 L688.6,349.5 L689.6,349.5 L690.6,349.5 L691.6,349.5 L692.6,349.5 L693.6,349.5 L694.6,349.5 L695.6,349.5 L696.6,349.5 L697.6,349.5 L698.6,349.5 L699.6,349.5 L700.6,349.5 L701.6,349.5 L702.6,349.5 L703.6,349.5 L704.6,349.5 L705.6,349.5 L706.6,349.5 L707.6,349.5 L708.6,349.5 L709.6,349.5 L710.6,349.5 L711.6,349.5 L712.6,349.5 L713.6,349.5 L714.6,349.5 L715.6,349.5 L716.6,349.5 L717.6,349.5 L718.6,349.5 L719.6,349.5 L720.6,349.5 L721.6,349.5 L722.6,349.5 L723.6,349.5 L724.6,349.5 L725.6,349.5 L726.6,349.5 L727.6,349.5 L728.6,349.5 L729.6,349.5 L730.6,349.5 L731.6,349.5 L732.6,349.5 L733.7,349.5 L734.7,349.5 L735.7,349.5 L736.7,349.5 L737.7,349.5 L738.7,349.5 L739.7,349.5 L740.7,349.5 L741.7,349.5 L742.7,349.5 L743.7,349.5 L744.7,349.5 L745.7,349.5 L746.7,349.5 L747.7,349.5 L748.7,349.5 L749.7,349.5 L750.7,349.5 L751.7,349.5 L752.7,349.5 L753.7,349.5 L754.7,349.5 L755.7,349.5 L756.7,349.5 L757.7,349.5 L758.7,349.5 L759.7,349.5 L760.7,349.5 L761.7,349.5 L762.7,349.5 L763.7,349.5 L764.7,349.5 L765.7,349.5 L766.7,349.5 L767.7,349.5 L768.7,349.5 L769.7,349.5 L770.7,349.5 L771.7,349.5 L772.7,349.5 L773.7,349.5 L774.7,349.5 L775.7,349.4 L776.7,349.4 L777.7,349.4 L778.7,349.4 L779.7,349.4 L780.7,349.3 L781.7,349.3 L782.7,349.3 L783.7,349.2 L784.7,349.2 L785.7,349.1 L786.7,349.0 L787.7,349.0 L788.7,348.9 L789.8,348.7 L790.8,348.6 L791.8,348.5 L792.8,348.3 L793.8,348.1 L794.8,347.8 L795.8,347.6 L796.8,347.3 L797.8,346.9 L798.8,346.5 L799.8,346.1 L800.8,345.6 L801.8,345.0 L802.8,344.4 L803.8,343.7 L804.8,342.9 L805.8,342.1 L806.8,341.1 L807.8,340.1 L808.8,339.0 L809.8,337.7 L810.8,336.3 L811.8,334.9 L812.8,333.2 L813.8,331.5 L814.8,329.6 L815.8,327.6 L816.8,325.5 L817.8,323.2 L818.8,320.8 L819.8,318.2 L820.8,315.5 L821.8,312.6 L822.8,309.6 L823.8,306.5 L824.8,303.3 L825.8,299.9 L826.8,296.5 L827.8,293.0 L828.8,289.4 L829.8,285.7 L830.8,282.0 L831.8,278.3 L832.8,274.5 L833.8,270.8 L834.8,267.1 L835.8,263.4 L836.8,259.9 L837.8,256.4 L838.8,253.1 L839.8,249.9 L840.8,246.9 L841.8,244.1 L842.8,241.5 L843.8,239.1 L844.8,237.0 L845.8,235.1 L846.9,233.5 L847.9,232.2 L848.9,231.3 L849.9,230.6 L850.9,230.3 L851.9,230.3 L852.9,230.6 L853.9,231.3 L854.9,232.5 L855.9,234.0 L856.9,235.8 L857.9,238.0 L858.9,240.5 L859.9,243.4 L860.9,246.5 L861.9,249.8 L862.9,253.4 L863.9,257.2 L864.9,261.2 L865.9,265.3 L866.9,269.5 L867.9,273.7 L868.9,278.1 L869.9,282.4 L870.9,286.8 L871.9,291.1 L872.9,295.3 L873.9,299.5 L874.9,303.5 L875.9,307.5 L876.9,311.3 L877.9,314.9 L878.9,318.4 L879.9,321.8 L880.9,324.9 L881.9,327.9 L882.9,330.7 L883.9,333.4 L884.9,335.8 L885.9,338.1 L886.9,340.2 L887.9,342.2 L888.9,343.9 L889.9,345.6 L890.9,347.0 L891.9,348.4 L892.9,349.6 L893.9,350.7 L894.9,351.7 L895.9,352.6 L896.9,353.3 L897.9,354.0 L898.9,354.6 L899.9,355.2 L900.9,355.6 L901.9,356.1 L903.0,356.4 L904.0,356.7 L905.0,357.0 L906.0,357.2 L907.0,357.4 L908.0,357.6 L909.0,357.8 L910.0,357.9 L911.0,358.0 L912.0,358.1 L913.0,358.1 L914.0,358.2 L915.0,358.3 L916.0,358.3 L917.0,358.3 L918.0,358.4 L919.0,358.4 L920.0,358.4 L921.0,358.4 L922.0,358.4 L923.0,358.5 L924.0,358.5 L925.0,358.5 L926.0,358.5 L927.0,358.5 L928.0,358.5 L929.0,358.5 L930.0,358.5 L931.0,358.5" fill="none" stroke="#ea2424" stroke-width="2.4" stroke-linejoin="round" stroke-linecap="round" /><path d="M648.5,342.7 L649.5,342.7 L650.5,342.6 L651.5,342.6 L652.5,342.6 L653.5,342.6 L654.5,342.5 L655.5,342.5 L656.5,342.5 L657.5,342.5 L658.5,342.4 L659.5,342.4 L660.5,342.4 L661.5,342.3 L662.5,342.3 L663.5,342.3 L664.5,342.2 L665.5,342.2 L666.5,342.2 L667.5,342.1 L668.5,342.1 L669.5,342.0 L670.5,342.0 L671.5,341.9 L672.5,341.9 L673.5,341.8 L674.5,341.8 L675.5,341.7 L676.5,341.7 L677.6,341.6 L678.6,341.5 L679.6,341.4 L680.6,341.4 L681.6,341.3 L682.6,341.2 L683.6,341.1 L684.6,341.0 L685.6,340.8 L686.6,340.7 L687.6,340.6 L688.6,340.4 L689.6,340.3 L690.6,340.1 L691.6,339.9 L692.6,339.7 L693.6,339.4 L694.6,339.2 L695.6,338.9 L696.6,338.6 L697.6,338.3 L698.6,338.0 L699.6,337.6 L700.6,337.2 L701.6,336.7 L702.6,336.2 L703.6,335.7 L704.6,335.2 L705.6,334.6 L706.6,333.9 L707.6,333.2 L708.6,332.4 L709.6,331.6 L710.6,330.8 L711.6,329.8 L712.6,328.8 L713.6,327.8 L714.6,326.7 L715.6,325.5 L716.6,324.2 L717.6,322.9 L718.6,321.4 L719.6,319.9 L720.6,318.4 L721.6,316.7 L722.6,315.0 L723.6,313.1 L724.6,311.2 L725.6,309.3 L726.6,307.2 L727.6,305.1 L728.6,302.9 L729.6,300.6 L730.6,298.2 L731.6,295.8 L732.6,293.4 L733.7,290.8 L734.7,288.2 L735.7,285.6 L736.7,283.0 L737.7,280.3 L738.7,277.6 L739.7,274.8 L740.7,272.1 L741.7,269.4 L742.7,266.7 L743.7,264.0 L744.7,261.3 L745.7,258.8 L746.7,256.2 L747.7,253.8 L748.7,251.4 L749.7,249.1 L750.7,246.9 L751.7,244.9 L752.7,243.0 L753.7,241.2 L754.7,239.7 L755.7,238.2 L756.7,237.0 L757.7,236.0 L758.7,235.1 L759.7,234.5 L760.7,234.1 L761.7,233.9 L762.7,233.9 L763.7,234.2 L764.7,234.9 L765.7,235.9 L766.7,237.2 L767.7,238.8 L768.7,240.7 L769.7,242.9 L770.7,245.3 L771.7,248.0 L772.7,250.8 L773.7,253.7 L774.7,256.8 L775.7,260.0 L776.7,263.2 L777.7,266.5 L778.7,269.8 L779.7,273.0 L780.7,276.3 L781.7,279.5 L782.7,282.7 L783.7,285.9 L784.7,288.9 L785.7,291.9 L786.7,294.8 L787.7,297.6 L788.7,300.4 L789.8,303.0 L790.8,305.5 L791.8,308.0 L792.8,310.3 L793.8,312.6 L794.8,314.7 L795.8,316.8 L796.8,318.8 L797.8,320.6 L798.8,322.4 L799.8,324.1 L800.8,325.7 L801.8,327.2 L802.8,328.7 L803.8,330.0 L804.8,331.3 L805.8,332.5 L806.8,333.7 L807.8,334.7 L808.8,335.8 L809.8,336.7 L810.8,337.6 L811.8,338.5 L812.8,339.3 L813.8,340.0 L814.8,340.7 L815.8,341.4 L816.8,342.0 L817.8,342.6 L818.8,343.2 L819.8,343.7 L820.8,344.2 L821.8,344.7 L822.8,345.1 L823.8,345.5 L824.8,345.9 L825.8,346.3 L826.8,346.6 L827.8,347.0 L828.8,347.3 L829.8,347.6 L830.8,347.9 L831.8,348.1 L832.8,348.4 L833.8,348.6 L834.8,348.9 L835.8,349.1 L836.8,349.3 L837.8,349.5 L838.8,349.7 L839.8,349.9 L840.8,350.1 L841.8,350.3 L842.8,350.4 L843.8,350.6 L844.8,350.8 L845.8,350.9 L846.9,351.1 L847.9,351.2 L848.9,351.3 L849.9,351.5 L850.9,351.6 L851.9,351.7 L852.9,351.8 L853.9,352.0 L854.9,352.1 L855.9,352.2 L856.9,352.3 L857.9,352.4 L858.9,352.5 L859.9,352.6 L860.9,352.7 L861.9,352.8 L862.9,352.9 L863.9,353.0 L864.9,353.0 L865.9,353.1 L866.9,353.2 L867.9,353.3 L868.9,353.4 L869.9,353.4 L870.9,353.5 L871.9,353.6 L872.9,353.6 L873.9,353.7 L874.9,353.8 L875.9,353.8 L876.9,353.9 L877.9,353.9 L878.9,354.0 L879.9,354.1 L880.9,354.1 L881.9,354.2 L882.9,354.2 L883.9,354.3 L884.9,354.3 L885.9,354.4 L886.9,354.4 L887.9,354.5 L888.9,354.5 L889.9,354.6 L890.9,354.6 L891.9,354.7 L892.9,354.7 L893.9,354.7 L894.9,354.8 L895.9,354.8 L896.9,354.9 L897.9,354.9 L898.9,354.9 L899.9,355.0 L900.9,355.0 L901.9,355.0 L903.0,355.1 L904.0,355.1 L905.0,355.1 L906.0,355.2 L907.0,355.2 L908.0,355.2 L909.0,355.3 L910.0,355.3 L911.0,355.3 L912.0,355.3 L913.0,355.4 L914.0,355.4 L915.0,355.4 L916.0,355.5 L917.0,355.5 L918.0,355.5 L919.0,355.5 L920.0,355.6 L921.0,355.6 L922.0,355.6 L923.0,355.6 L924.0,355.7 L925.0,355.7 L926.0,355.7 L927.0,355.7 L928.0,355.7 L929.0,355.8 L930.0,355.8 L931.0,355.8" fill="none" stroke="#1e1ed2" stroke-width="2.4" stroke-linejoin="round" stroke-linecap="round" /><path d="M758.8,377.0 L761.0,234.0" stroke="#1a1a1a" stroke-width="2.2" stroke-dasharray="2.3,2.3" fill="none"/><path d="M753.2,235.9 L711.9,196.3" stroke="#444" stroke-width="2.0" fill="none"/><path d="M704.7,189.4 L717.5,193.4 L709.2,202.0 Z" fill="#000" stroke="#000" stroke-width="0.8" stroke-linejoin="round"/><text x="662.6" y="173.8" font-size="29.2" fill="#000">Ga<tspan font-size="19.3" dy="5.5">2</tspan><tspan dy="-5.5">O</tspan><tspan font-size="19.3" dy="5.5">3</tspan></text>
<path d="M1021.0,377.8 L1021.0,374.3" stroke="#555" stroke-width="1.4"/><path d="M1086.0,377.8 L1086.0,374.3" stroke="#555" stroke-width="1.4"/><path d="M1151.1,377.8 L1151.1,374.3" stroke="#555" stroke-width="1.4"/><path d="M1216.5,377.8 L1216.5,374.3" stroke="#555" stroke-width="1.4"/><path d="M995.0,354.0 L996.0,354.4 L997.0,354.3 L998.0,354.2 L999.0,354.0 L1000.0,353.7 L1001.0,353.2 L1002.0,351.5 L1003.0,348.8 L1004.0,346.6 L1005.0,346.0 L1006.0,345.5 L1007.0,345.2 L1008.0,345.1 L1009.0,345.1 L1010.0,345.3 L1011.0,346.1 L1012.0,347.2 L1013.0,348.3 L1014.0,348.8 L1015.0,348.2 L1016.0,345.3 L1017.0,341.7 L1018.0,339.4 L1019.0,337.8 L1020.0,336.3 L1021.0,334.9 L1022.0,333.7 L1022.9,332.8 L1023.9,332.4 L1024.9,332.2 L1025.9,332.0 L1026.9,331.5 L1027.9,330.6 L1028.9,328.4 L1029.9,325.5 L1030.9,322.4 L1031.9,319.7 L1032.9,317.6 L1033.9,316.3 L1034.9,315.1 L1035.9,314.3 L1036.9,313.6 L1037.9,312.8 L1038.9,312.1 L1039.9,311.3 L1040.9,310.6 L1041.9,309.9 L1042.9,309.3 L1043.9,308.6 L1044.9,307.9 L1045.9,307.0 L1046.9,305.5 L1047.9,303.5 L1048.9,301.3 L1049.9,299.2 L1050.9,297.6 L1051.9,296.2 L1052.9,294.8 L1053.9,293.6 L1054.9,292.6 L1055.9,291.9 L1056.9,291.8 L1057.9,292.4 L1058.9,293.3 L1059.9,293.9 L1060.9,293.7 L1061.9,293.1 L1062.9,292.2 L1063.9,291.3 L1064.9,290.4 L1065.9,289.7 L1066.9,289.1 L1067.9,288.5 L1068.9,288.1 L1069.9,288.2 L1070.9,288.8 L1071.9,290.1 L1072.9,291.7 L1073.9,293.3 L1074.9,294.2 L1075.8,294.6 L1076.8,294.9 L1077.8,295.2 L1078.8,295.7 L1079.8,296.5 L1080.8,298.3 L1081.8,300.9 L1082.8,303.6 L1083.8,305.9 L1084.8,307.3 L1085.8,308.3 L1086.8,309.1 L1087.8,309.6 L1088.8,310.0 L1089.8,310.1 L1090.8,309.6 L1091.8,308.4 L1092.8,307.2 L1093.8,306.6 L1094.8,306.8 L1095.8,307.3 L1096.8,308.0 L1097.8,308.9 L1098.8,309.9 L1099.8,311.0 L1100.8,311.9 L1101.8,312.7 L1102.8,313.5 L1103.8,314.3 L1104.8,315.2 L1105.8,316.0 L1106.8,316.9 L1107.8,317.7 L1108.8,318.6 L1109.8,319.6 L1110.8,320.8 L1111.8,322.1 L1112.8,323.4 L1113.8,324.6 L1114.8,325.8 L1115.8,326.9 L1116.8,328.1 L1117.8,329.2 L1118.8,330.2 L1119.8,331.1 L1120.8,331.9 L1121.8,332.3 L1122.8,332.4 L1123.8,332.4 L1124.8,332.5 L1125.8,332.8 L1126.8,333.8 L1127.8,335.7 L1128.8,338.1 L1129.8,340.3 L1130.7,341.8 L1131.7,342.4 L1132.7,342.7 L1133.7,342.9 L1134.7,342.9 L1135.7,343.0 L1136.7,343.2 L1137.7,343.4 L1138.7,343.7 L1139.7,343.9 L1140.7,344.1 L1141.7,344.3 L1142.7,344.5 L1143.7,344.5 L1144.7,344.3 L1145.7,343.9 L1146.7,343.6 L1147.7,343.5 L1148.7,343.7 L1149.7,345.6 L1150.7,348.7 L1151.7,351.0 L1152.7,351.3 L1153.7,350.7 L1154.7,350.1 L1155.7,347.8 L1156.7,348.6 L1157.7,349.2 L1158.7,348.9 L1159.7,348.0 L1160.7,346.8 L1161.7,344.9 L1162.7,342.5 L1163.7,339.7 L1164.7,336.9 L1165.7,334.4 L1166.7,331.9 L1167.7,328.8 L1168.7,325.1 L1169.7,321.7 L1170.7,319.4 L1171.7,318.0 L1172.7,316.3 L1173.7,313.2 L1174.7,309.0 L1175.7,304.5 L1176.7,300.3 L1177.7,296.1 L1178.7,291.5 L1179.7,286.4 L1180.7,281.0 L1181.7,275.5 L1182.7,269.9 L1183.7,264.1 L1184.6,258.2 L1185.6,252.5 L1186.6,246.7 L1187.6,240.3 L1188.6,231.6 L1189.6,221.2 L1190.6,212.4 L1191.6,207.5 L1192.6,203.8 L1193.6,200.8 L1194.6,198.4 L1195.6,196.0 L1196.6,193.2 L1197.6,190.0 L1198.6,186.6 L1199.6,183.2 L1200.6,179.9 L1201.6,176.9 L1202.6,174.1 L1203.6,171.5 L1204.6,169.2 L1205.6,166.9 L1206.6,164.3 L1207.6,161.6 L1208.6,159.5 L1209.6,158.7 L1210.6,159.3 L1211.6,160.7 L1212.6,162.1 L1213.6,163.7 L1214.6,165.7 L1215.6,168.2 L1216.6,171.1 L1217.6,174.0 L1218.6,177.5 L1219.6,181.9 L1220.6,187.5 L1221.6,194.4 L1222.6,202.2 L1223.6,209.8 L1224.6,216.4 L1225.6,222.4 L1226.6,228.2 L1227.6,233.8 L1228.6,239.3 L1229.6,245.5 L1230.6,252.7 L1231.6,260.7 L1232.6,268.8 L1233.6,276.8 L1234.6,285.0 L1235.6,293.2 L1236.6,300.9 L1237.5,307.7 L1238.5,313.8 L1239.5,319.6 L1240.5,325.0 L1241.5,329.9 L1242.5,334.4 L1243.5,338.2 L1244.5,340.8 L1245.5,342.6 L1246.5,343.7 L1247.5,344.8 L1248.5,346.6 L1249.5,349.0 L1250.5,351.4 L1251.5,353.0 L1252.5,353.9 L1253.5,354.6 L1254.5,355.2 L1255.5,355.6 L1256.5,356.0 L1257.5,356.7 L1258.5,357.7 L1259.5,358.7 L1260.5,359.3 L1261.5,359.6 L1262.5,360.0 L1263.5,360.5 L1264.5,361.0" fill="none" stroke="#151515" stroke-width="2.2" stroke-linejoin="round" stroke-linecap="round" /><path d="M1129.0,343.0 L1130.0,343.2 L1131.0,343.4 L1132.0,343.6 L1133.0,343.8 L1134.0,344.0 L1135.0,344.3 L1136.0,344.5 L1137.0,344.8 L1138.0,345.1 L1139.0,345.4 L1140.0,345.7 L1141.0,346.0 L1142.0,346.4 L1142.9,346.7 L1143.9,347.0 L1144.9,347.4 L1145.9,347.8 L1146.9,348.1 L1147.9,348.4 L1148.9,348.7 L1149.9,348.7 L1150.9,348.7 L1151.9,348.7 L1152.9,348.7 L1153.9,348.6 L1154.9,348.5 L1155.9,348.3 L1156.9,348.0 L1157.9,347.5 L1158.9,346.8 L1159.9,346.1 L1160.9,345.0 L1161.9,343.2 L1162.9,340.9 L1163.9,338.3 L1164.9,335.5 L1165.9,332.7 L1166.9,330.2 L1167.9,327.7 L1168.9,325.3 L1169.8,322.9 L1170.8,320.4 L1171.8,317.7 L1172.8,315.0 L1173.8,312.0 L1174.8,308.7 L1175.8,305.2 L1176.8,301.0 L1177.8,296.3 L1178.8,291.2 L1179.8,285.8 L1180.8,280.3 L1181.8,274.7 L1182.8,269.3 L1183.8,263.9 L1184.8,258.3 L1185.8,252.4 L1186.8,246.1 L1187.8,239.2 L1188.8,230.0 L1189.8,219.7 L1190.8,211.7 L1191.8,207.5 L1192.8,204.5 L1193.8,202.1 L1194.8,199.7 L1195.8,196.9 L1196.8,193.7 L1197.7,190.1 L1198.7,186.5 L1199.7,182.8 L1200.7,179.2 L1201.7,175.9 L1202.7,172.8 L1203.7,170.1 L1204.7,167.9 L1205.7,165.7 L1206.7,163.6 L1207.7,161.7 L1208.7,160.1 L1209.7,159.2 L1210.7,158.9 L1211.7,159.5 L1212.7,160.7 L1213.7,162.6 L1214.7,164.9 L1215.7,167.6 L1216.7,170.5 L1217.7,173.5 L1218.7,177.5 L1219.7,182.7 L1220.7,188.9 L1221.7,195.6 L1222.7,202.5 L1223.7,209.1 L1224.6,215.3 L1225.6,221.1 L1226.6,227.0 L1227.6,233.0 L1228.6,239.4 L1229.6,246.2 L1230.6,253.5 L1231.6,261.1 L1232.6,268.7 L1233.6,276.3 L1234.6,284.2 L1235.6,292.2 L1236.6,299.7 L1237.6,306.4 L1238.6,312.5 L1239.6,318.5 L1240.6,324.2 L1241.6,329.4 L1242.6,334.0 L1243.6,337.6 L1244.6,340.2 L1245.6,342.4 L1246.6,344.3 L1247.6,346.1 L1248.6,347.7 L1249.6,349.2 L1250.6,350.5 L1251.5,351.7 L1252.5,352.7 L1253.5,353.7 L1254.5,354.5 L1255.5,355.3 L1256.5,356.0 L1257.5,356.5 L1258.5,357.1 L1259.5,357.5 L1260.5,358.0 L1261.5,358.4 L1262.5,358.8 L1263.5,359.3 L1264.5,359.6" fill="none" stroke="#34b834" stroke-width="2.3" stroke-linejoin="round" stroke-linecap="round" stroke-opacity="0.8"/><path d="M1155.0,350.9 L1156.0,350.3 L1157.0,349.5 L1158.0,348.7 L1159.0,347.8 L1160.0,346.7 L1161.0,345.4 L1162.0,344.0 L1163.0,342.4 L1164.0,340.6 L1165.0,338.7 L1166.0,336.5 L1166.9,334.1 L1167.9,331.5 L1168.9,328.7 L1169.9,325.7 L1170.9,322.4 L1171.9,319.0 L1172.9,315.4 L1173.9,311.6 L1174.9,307.6 L1175.9,303.6 L1176.9,299.4 L1177.9,295.3 L1178.9,291.0 L1179.9,286.9 L1180.9,282.8 L1181.9,278.8 L1182.9,275.0 L1183.9,271.4 L1184.9,268.0 L1185.9,265.0 L1186.9,262.3 L1187.8,260.0 L1188.8,258.2 L1189.8,256.8 L1190.8,255.8 L1191.8,255.4 L1192.8,255.4 L1193.8,256.0 L1194.8,257.1 L1195.8,258.8 L1196.8,260.9 L1197.8,263.6 L1198.8,266.7 L1199.8,270.2 L1200.8,274.0 L1201.8,278.1 L1202.8,282.5 L1203.8,287.0 L1204.8,291.7 L1205.8,296.5 L1206.8,301.3 L1207.8,306.0 L1208.8,310.7 L1209.8,315.2 L1210.7,319.6 L1211.7,323.8 L1212.7,327.8 L1213.7,331.6 L1214.7,335.2 L1215.7,338.5 L1216.7,341.5 L1217.7,344.3 L1218.7,346.8 L1219.7,349.1 L1220.7,351.1 L1221.7,353.0 L1222.7,354.6 L1223.7,356.0 L1224.7,357.2 L1225.7,358.3 L1226.7,359.3 L1227.7,360.1 L1228.7,360.7 L1229.7,361.3 L1230.7,361.8 L1231.7,362.2 L1232.6,362.6 L1233.6,362.8 L1234.6,363.1 L1235.6,363.3 L1236.6,363.4 L1237.6,363.5 L1238.6,363.6 L1239.6,363.7 L1240.6,363.8 L1241.6,363.8 L1242.6,363.9 L1243.6,363.9 L1244.6,363.9 L1245.6,363.9 L1246.6,364.0 L1247.6,364.0 L1248.6,364.0 L1249.6,364.0 L1250.6,364.0 L1251.6,364.0 L1252.6,364.0 L1253.5,364.0 L1254.5,364.0 L1255.5,364.0 L1256.5,364.0 L1257.5,364.0 L1258.5,364.0 L1259.5,364.0 L1260.5,364.0 L1261.5,364.0 L1262.5,364.0 L1263.5,364.0 L1264.5,364.0" fill="none" stroke="#ea2424" stroke-width="2.4" stroke-linejoin="round" stroke-linecap="round" /><path d="M1155.0,352.4 L1156.0,352.4 L1157.0,352.3 L1158.0,352.2 L1159.0,352.2 L1160.0,352.1 L1161.0,352.0 L1162.0,352.0 L1163.0,351.9 L1164.0,351.8 L1165.0,351.7 L1166.0,351.6 L1166.9,351.4 L1167.9,351.3 L1168.9,351.1 L1169.9,350.9 L1170.9,350.6 L1171.9,350.4 L1172.9,350.0 L1173.9,349.7 L1174.9,349.2 L1175.9,348.7 L1176.9,348.1 L1177.9,347.5 L1178.9,346.7 L1179.9,345.7 L1180.9,344.7 L1181.9,343.4 L1182.9,342.0 L1183.9,340.4 L1184.9,338.6 L1185.9,336.6 L1186.9,334.2 L1187.8,331.7 L1188.8,328.8 L1189.8,325.6 L1190.8,322.1 L1191.8,318.2 L1192.8,314.0 L1193.8,309.5 L1194.8,304.6 L1195.8,299.4 L1196.8,293.9 L1197.8,288.2 L1198.8,282.1 L1199.8,275.9 L1200.8,269.4 L1201.8,262.9 L1202.8,256.3 L1203.8,249.7 L1204.8,243.1 L1205.8,236.7 L1206.8,230.5 L1207.8,224.7 L1208.8,219.2 L1209.8,214.2 L1210.7,209.8 L1211.7,206.1 L1212.7,203.0 L1213.7,200.8 L1214.7,199.3 L1215.7,198.8 L1216.7,199.1 L1217.7,200.0 L1218.7,201.6 L1219.7,203.8 L1220.7,206.5 L1221.7,209.9 L1222.7,213.8 L1223.7,218.1 L1224.7,222.9 L1225.7,228.1 L1226.7,233.5 L1227.7,239.3 L1228.7,245.3 L1229.7,251.4 L1230.7,257.7 L1231.7,263.9 L1232.6,270.2 L1233.6,276.4 L1234.6,282.5 L1235.6,288.5 L1236.6,294.3 L1237.6,299.9 L1238.6,305.3 L1239.6,310.4 L1240.6,315.3 L1241.6,319.8 L1242.6,324.1 L1243.6,328.1 L1244.6,331.7 L1245.6,335.1 L1246.6,338.2 L1247.6,341.1 L1248.6,343.6 L1249.6,346.0 L1250.6,348.0 L1251.6,349.9 L1252.6,351.6 L1253.5,353.0 L1254.5,354.3 L1255.5,355.5 L1256.5,356.4 L1257.5,357.3 L1258.5,358.0 L1259.5,358.7 L1260.5,359.2 L1261.5,359.7 L1262.5,360.1 L1263.5,360.4 L1264.5,360.7" fill="none" stroke="#ea2424" stroke-width="2.4" stroke-linejoin="round" stroke-linecap="round" /><path d="M995.0,348.9 L996.0,348.5 L997.0,348.1 L998.0,347.6 L999.0,347.2 L1000.0,346.7 L1001.0,346.2 L1002.0,345.7 L1003.0,345.1 L1004.0,344.6 L1005.0,344.0 L1006.0,343.4 L1007.0,342.7 L1008.0,342.1 L1009.0,341.4 L1010.0,340.7 L1011.0,340.0 L1012.0,339.2 L1013.0,338.4 L1014.0,337.6 L1015.0,336.8 L1016.0,336.0 L1017.0,335.1 L1018.0,334.2 L1019.0,333.3 L1020.0,332.4 L1021.0,331.4 L1022.0,330.5 L1022.9,329.5 L1023.9,328.5 L1024.9,327.5 L1025.9,326.5 L1026.9,325.4 L1027.9,324.4 L1028.9,323.3 L1029.9,322.2 L1030.9,321.1 L1031.9,320.1 L1032.9,319.0 L1033.9,317.9 L1034.9,316.8 L1035.9,315.7 L1036.9,314.6 L1037.9,313.5 L1038.9,312.4 L1039.9,311.4 L1040.9,310.3 L1041.9,309.3 L1042.9,308.2 L1043.9,307.2 L1044.9,306.2 L1045.9,305.2 L1046.9,304.3 L1047.9,303.3 L1048.9,302.4 L1049.9,301.6 L1050.9,300.7 L1051.9,299.9 L1052.9,299.1 L1053.9,298.4 L1054.9,297.7 L1055.9,297.0 L1056.9,296.4 L1057.9,295.8 L1058.9,295.2 L1059.9,294.8 L1060.9,294.3 L1061.9,293.9 L1062.9,293.5 L1063.9,293.2 L1064.9,293.0 L1065.9,292.8 L1066.9,292.6 L1067.9,292.5 L1068.9,292.5 L1069.9,292.5 L1070.9,292.6 L1071.9,292.7 L1072.9,292.8 L1073.9,293.0 L1074.9,293.3 L1075.8,293.6 L1076.8,294.0 L1077.8,294.4 L1078.8,294.9 L1079.8,295.4 L1080.8,295.9 L1081.8,296.6 L1082.8,297.2 L1083.8,297.9 L1084.8,298.6 L1085.8,299.4 L1086.8,300.2 L1087.8,301.1 L1088.8,301.9 L1089.8,302.9 L1090.8,303.8 L1091.8,304.8 L1092.8,305.8 L1093.8,306.8 L1094.8,307.9 L1095.8,308.9 L1096.8,310.0 L1097.8,311.1 L1098.8,312.3 L1099.8,313.4 L1100.8,314.5 L1101.8,315.7 L1102.8,316.9 L1103.8,318.0 L1104.8,319.2 L1105.8,320.4 L1106.8,321.5 L1107.8,322.7 L1108.8,323.9 L1109.8,325.0 L1110.8,326.2 L1111.8,327.3 L1112.8,328.5 L1113.8,329.6 L1114.8,330.7 L1115.8,331.8 L1116.8,332.9 L1117.8,333.9 L1118.8,335.0 L1119.8,336.0 L1120.8,337.0 L1121.8,338.0 L1122.8,339.0 L1123.8,339.9 L1124.8,340.8 L1125.8,341.8 L1126.8,342.6 L1127.8,343.5 L1128.8,344.3 L1129.8,345.1 L1130.7,345.9 L1131.7,346.7 L1132.7,347.4 L1133.7,348.2 L1134.7,348.9 L1135.7,349.5 L1136.7,350.2 L1137.7,350.8 L1138.7,351.4 L1139.7,352.0 L1140.7,352.6 L1141.7,353.1 L1142.7,353.6 L1143.7,354.1 L1144.7,354.6 L1145.7,355.1 L1146.7,355.5 L1147.7,355.9 L1148.7,356.3 L1149.7,356.7 L1150.7,357.1 L1151.7,357.4 L1152.7,357.8 L1153.7,358.1 L1154.7,358.4 L1155.7,358.7 L1156.7,358.9 L1157.7,359.2 L1158.7,359.5 L1159.7,359.7 L1160.7,359.9 L1161.7,360.1 L1162.7,360.3 L1163.7,360.5 L1164.7,360.7 L1165.7,360.9 L1166.7,361.1 L1167.7,361.2 L1168.7,361.4 L1169.7,361.5 L1170.7,361.7 L1171.7,361.8 L1172.7,361.9 L1173.7,362.0 L1174.7,362.2 L1175.7,362.3 L1176.7,362.4 L1177.7,362.5 L1178.7,362.6 L1179.7,362.6 L1180.7,362.7 L1181.7,362.8 L1182.7,362.9 L1183.7,363.0 L1184.6,363.0 L1185.6,363.1 L1186.6,363.2 L1187.6,363.2 L1188.6,363.3 L1189.6,363.4 L1190.6,363.4 L1191.6,363.5 L1192.6,363.5 L1193.6,363.6 L1194.6,363.7 L1195.6,363.7 L1196.6,363.8 L1197.6,363.8 L1198.6,363.9 L1199.6,363.9 L1200.6,363.9 L1201.6,364.0 L1202.6,364.0 L1203.6,364.1 L1204.6,364.1 L1205.6,364.2 L1206.6,364.2 L1207.6,364.3 L1208.6,364.3 L1209.6,364.3 L1210.6,364.4 L1211.6,364.4 L1212.6,364.5 L1213.6,364.5 L1214.6,364.6 L1215.6,364.6 L1216.6,364.6 L1217.6,364.7 L1218.6,364.7 L1219.6,364.8 L1220.6,364.8 L1221.6,364.8 L1222.6,364.9 L1223.6,364.9 L1224.6,365.0 L1225.6,365.0 L1226.6,365.0 L1227.6,365.1 L1228.6,365.1 L1229.6,365.2 L1230.6,365.2 L1231.6,365.2 L1232.6,365.3 L1233.6,365.3 L1234.6,365.3 L1235.6,365.4 L1236.6,365.4 L1237.5,365.5 L1238.5,365.5 L1239.5,365.5 L1240.5,365.6 L1241.5,365.6 L1242.5,365.7 L1243.5,365.7 L1244.5,365.7 L1245.5,365.8 L1246.5,365.8 L1247.5,365.9 L1248.5,365.9 L1249.5,365.9 L1250.5,366.0 L1251.5,366.0 L1252.5,366.1 L1253.5,366.1 L1254.5,366.1 L1255.5,366.2 L1256.5,366.2 L1257.5,366.2 L1258.5,366.3 L1259.5,366.3 L1260.5,366.4 L1261.5,366.4 L1262.5,366.4 L1263.5,366.5 L1264.5,366.5" fill="none" stroke="#1e1ed2" stroke-width="2.4" stroke-linejoin="round" stroke-linecap="round" /><path d="M1075.8,377.0 L1075.8,292.0" stroke="#1a1a1a" stroke-width="2.2" stroke-dasharray="2.3,2.3" fill="none"/><path d="M1049.2,298.3 L1038.6,244.8" stroke="#444" stroke-width="2.0" fill="none"/><path d="M1036.7,235.0 L1044.9,245.6 L1033.1,247.9 Z" fill="#000" stroke="#000" stroke-width="0.8" stroke-linejoin="round"/><text x="1007.7" y="224" font-size="29.2" fill="#000">As<tspan font-size="19.3" dy="5.5">2</tspan><tspan dy="-5.5">O</tspan><tspan font-size="19.3" dy="5.5">5</tspan></text>
<path d="M316.7,694.6 L316.7,691.1" stroke="#555" stroke-width="1.4"/><path d="M362.4,694.6 L362.4,691.1" stroke="#555" stroke-width="1.4"/><path d="M406.9,694.6 L406.9,691.1" stroke="#555" stroke-width="1.4"/><path d="M452.1,694.6 L452.1,691.1" stroke="#555" stroke-width="1.4"/><path d="M497.9,694.6 L497.9,691.1" stroke="#555" stroke-width="1.4"/><path d="M543.7,694.6 L543.7,691.1" stroke="#555" stroke-width="1.4"/><path d="M306.5,636.6 L307.5,636.9 L308.5,636.8 L309.5,636.4 L310.5,635.2 L311.5,632.8 L312.5,630.8 L313.5,630.3 L314.5,629.6 L315.5,627.4 L316.5,624.7 L317.5,622.1 L318.5,619.6 L319.5,617.2 L320.5,614.8 L321.5,612.5 L322.5,610.4 L323.5,607.5 L324.5,603.1 L325.5,598.6 L326.5,595.6 L327.5,593.0 L328.5,589.3 L329.5,584.9 L330.5,580.7 L331.5,576.6 L332.5,572.7 L333.5,569.1 L334.5,565.0 L335.5,559.9 L336.5,555.1 L337.5,551.7 L338.5,549.0 L339.5,547.0 L340.5,545.6 L341.5,543.9 L342.5,541.9 L343.5,539.4 L344.5,535.7 L345.5,532.7 L346.5,531.6 L347.5,530.7 L348.5,528.2 L349.5,525.5 L350.5,524.1 L351.5,523.4 L352.5,522.2 L353.5,520.6 L354.5,519.0 L355.5,517.4 L356.5,515.7 L357.5,513.8 L358.5,512.4 L359.6,512.3 L360.6,512.8 L361.6,512.7 L362.6,512.3 L363.6,512.1 L364.6,512.2 L365.6,513.0 L366.6,514.1 L367.6,516.3 L368.6,520.5 L369.6,525.0 L370.6,528.9 L371.6,534.2 L372.6,540.9 L373.6,548.0 L374.6,555.3 L375.6,563.4 L376.6,571.4 L377.6,578.4 L378.6,583.2 L379.6,588.1 L380.6,600.0 L381.6,614.3 L382.6,621.0 L383.6,625.2 L384.6,628.8 L385.6,632.2 L386.6,635.1 L387.6,637.9 L388.6,640.7 L389.6,642.9 L390.6,644.4 L391.6,645.6 L392.6,647.1 L393.6,648.5 L394.6,649.1 L395.6,649.1 L396.6,649.5 L397.6,650.2 L398.6,651.0 L399.6,652.1 L400.6,652.8 L401.6,652.7 L402.6,652.6 L403.6,653.0 L404.6,653.5 L405.6,653.5 L406.6,653.1 L407.6,652.5 L408.6,651.4 L409.6,651.2 L410.6,651.9 L411.6,652.4 L412.6,652.3" fill="none" stroke="#151515" stroke-width="2.2" stroke-linejoin="round" stroke-linecap="round" /><path d="M467.5,655.2 L468.5,653.8 L469.5,654.2 L470.5,655.3 L471.5,655.0 L472.5,653.9 L473.5,652.2 L474.5,649.7 L475.5,648.3 L476.5,648.6 L477.5,648.7 L478.5,647.5 L479.5,645.5 L480.5,642.6 L481.5,639.3 L482.5,637.6 L483.5,636.9 L484.5,634.6 L485.5,630.6 L486.5,627.2 L487.5,624.5 L488.5,622.0 L489.5,619.5 L490.5,616.8 L491.5,613.7 L492.5,610.4 L493.5,607.1 L494.5,603.7 L495.5,599.6 L496.5,594.7 L497.5,590.2 L498.5,586.4 L499.5,582.2 L500.5,576.9 L501.5,570.6 L502.5,564.4 L503.5,558.2 L504.5,552.1 L505.5,546.5 L506.5,541.0 L507.5,535.1 L508.5,529.9 L509.5,525.6 L510.5,521.8 L511.5,518.5 L512.5,515.1 L513.5,510.4 L514.5,505.7 L515.5,502.4 L516.5,500.2 L517.5,497.5 L518.5,494.1 L519.5,491.7 L520.5,490.9 L521.5,489.5 L522.5,486.2 L523.5,482.6 L524.5,479.8 L525.5,477.2 L526.5,474.5 L527.5,471.6 L528.5,467.6 L529.5,462.8 L530.5,458.7 L531.5,455.8 L532.5,453.8 L533.5,452.9 L534.5,453.3 L535.5,454.8 L536.5,457.4 L537.5,461.0 L538.5,465.4 L539.5,470.2 L540.5,475.2 L541.5,480.5 L542.5,486.2 L543.5,492.8 L544.5,500.9 L545.5,510.0 L546.5,519.6 L547.5,529.1 L548.5,538.9 L549.5,549.5 L550.5,560.8 L551.5,572.1 L552.5,581.3 L553.5,588.2 L554.5,595.2 L555.5,602.7 L556.5,610.1 L557.5,616.9 L558.5,622.9 L559.5,627.2 L560.5,630.1 L561.5,633.5 L562.5,637.5 L563.5,640.8 L564.5,643.2 L565.5,645.1 L566.5,646.5 L567.5,647.8 L568.5,649.4 L569.5,651.1 L570.5,651.8 L571.5,652.0 L572.5,652.5 L573.5,653.3 L574.5,654.0 L575.5,654.5 L576.5,655.2 L577.5,656.4 L578.5,657.5 L579.5,657.5 L580.5,657.3 L581.5,658.0 L582.5,659.2 L583.5,660.0 L584.5,660.2 L585.5,660.8 L586.5,661.9 L587.5,663.1" fill="none" stroke="#151515" stroke-width="2.2" stroke-linejoin="round" stroke-linecap="round" /><path d="M412.6,655.0 L413.1,655.5 L413.6,656.4 L414.1,657.3 L414.6,657.7 L415.1,657.4 L415.6,656.5 L416.1,655.2 L416.6,653.6 L417.1,651.9 L417.6,650.4 L418.1,649.3 L418.6,648.8 L419.1,648.9 L419.6,649.6 L420.1,650.6 L420.6,652.0 L421.1,653.4 L421.6,654.9 L422.1,656.4 L422.6,657.7 L423.1,658.7 L423.6,659.3 L424.1,659.5 L424.6,659.3 L425.1,658.8 L425.6,658.2 L426.1,657.4 L426.6,656.6 L427.1,655.7 L427.6,654.9 L428.1,654.1 L428.6,653.5 L429.1,653.2 L429.6,653.1 L430.1,653.2 L430.6,653.5 L431.1,653.9 L431.6,654.3 L432.1,654.9 L432.6,655.4 L433.1,656.1 L433.6,656.7 L434.1,657.2 L434.6,657.7 L435.1,658.2 L435.6,658.5 L436.1,658.7 L436.6,658.7 L437.1,658.4 L437.6,657.8 L438.1,657.0 L438.6,656.2 L439.1,655.5 L439.6,655.1 L440.1,655.0 L440.5,655.4 L441.0,656.2 L441.5,657.3 L442.0,658.4 L442.5,659.4 L443.0,660.2 L443.5,660.6 L444.0,660.5 L444.5,660.0 L445.0,659.2 L445.5,658.1 L446.0,657.0 L446.5,655.9 L447.0,655.0 L447.5,654.2 L448.0,653.8 L448.5,653.7 L449.0,653.9 L449.5,654.3 L450.0,654.8 L450.5,655.3 L451.0,655.9 L451.5,656.5 L452.0,657.0 L452.5,657.3 L453.0,657.5 L453.5,657.3 L454.0,656.9 L454.5,656.2 L455.0,655.5 L455.5,655.0 L456.0,654.9 L456.5,655.1 L457.0,655.6 L457.5,656.2 L458.0,657.0 L458.5,657.9 L459.0,658.8 L459.5,659.6 L460.0,660.4 L460.5,661.1 L461.0,661.6 L461.5,661.9 L462.0,661.8 L462.5,661.1 L463.0,660.1 L463.5,658.9 L464.0,657.8 L464.5,657.0 L465.0,656.5 L465.5,656.2 L466.0,655.9 L466.5,655.8 L467.0,655.6 L467.5,655.5" fill="none" stroke="#151515" stroke-width="2.2" stroke-linejoin="round" stroke-linecap="round" /><path d="M306.5,636.8 L307.5,636.2 L308.5,635.5 L309.5,634.7 L310.5,633.8 L311.5,632.7 L312.5,631.5 L313.5,630.2 L314.5,628.6 L315.5,626.9 L316.5,625.1 L317.5,623.0 L318.5,620.8 L319.5,618.3 L320.5,615.7 L321.5,612.9 L322.5,609.9 L323.5,606.7 L324.5,603.3 L325.5,599.9 L326.5,596.2 L327.5,592.6 L328.5,588.9 L329.5,585.2 L330.5,581.5 L331.5,577.7 L332.5,573.8 L333.5,569.7 L334.5,565.3 L335.5,560.2 L336.5,555.5 L337.5,552.1 L338.5,549.2 L339.5,546.7 L340.5,544.4 L341.5,542.3 L342.5,540.2 L343.5,538.2 L344.5,536.0 L345.5,533.6 L346.5,531.3 L347.5,528.9 L348.5,526.9 L349.5,525.1 L350.5,523.4 L351.5,521.9 L352.5,520.5 L353.5,519.2 L354.5,518.0 L355.5,516.9 L356.5,515.6 L357.5,514.4 L358.5,513.3 L359.6,512.3 L360.6,511.4 L361.6,510.8 L362.6,510.5 L363.6,510.5 L364.6,511.3 L365.6,512.9 L366.6,515.0 L367.6,517.7 L368.6,520.7 L369.6,523.9 L370.6,527.7 L371.6,533.2 L372.6,539.8 L373.6,546.7 L374.6,553.8 L375.6,561.7 L376.6,569.6 L377.6,576.6 L378.6,581.5 L379.6,586.8 L380.6,599.1 L381.6,614.1 L382.6,621.3 L383.6,625.5 L384.6,628.8 L385.6,632.1 L386.6,635.1 L387.6,637.7 L388.6,640.0 L389.6,642.0 L390.6,643.7 L391.6,645.1 L392.6,646.3 L393.6,647.4 L394.6,648.2 L395.6,648.9 L396.6,649.5 L397.6,650.0 L398.6,650.5 L399.6,650.8 L400.6,651.1 L401.6,651.3 L402.6,651.6 L403.6,651.7 L404.6,651.9 L405.6,652.1 L406.6,652.2 L407.6,652.3 L408.6,652.4 L409.6,652.5 L410.6,652.6 L411.6,652.7 L412.6,652.7" fill="none" stroke="#34b834" stroke-width="2.3" stroke-linejoin="round" stroke-linecap="round" stroke-opacity="0.8"/><path d="M467.5,655.5 L468.5,655.5 L469.5,654.8 L470.5,654.0 L471.5,653.2 L472.5,652.4 L473.5,651.6 L474.5,650.7 L475.5,649.8 L476.5,648.7 L477.5,647.5 L478.5,646.1 L479.5,644.4 L480.5,642.5 L481.5,640.4 L482.5,638.1 L483.5,635.6 L484.5,633.1 L485.5,630.4 L486.5,627.7 L487.5,625.0 L488.5,622.2 L489.5,619.3 L490.5,616.2 L491.5,613.1 L492.5,609.8 L493.5,606.3 L494.5,602.7 L495.5,599.0 L496.5,595.1 L497.5,591.0 L498.5,586.7 L499.5,582.3 L500.5,577.5 L501.5,571.9 L502.5,565.7 L503.5,559.1 L504.5,552.6 L505.5,546.6 L506.5,541.2 L507.5,536.3 L508.5,531.4 L509.5,526.8 L510.5,522.3 L511.5,518.0 L512.5,513.9 L513.5,510.1 L514.5,506.6 L515.5,503.5 L516.5,500.6 L517.5,497.9 L518.5,495.5 L519.5,493.2 L520.5,490.9 L521.5,488.6 L522.5,486.3 L523.5,483.9 L524.5,481.4 L525.5,478.5 L526.5,475.0 L527.5,471.0 L528.5,466.8 L529.5,462.7 L530.5,458.9 L531.5,455.8 L532.5,453.6 L533.5,452.5 L534.5,452.9 L535.5,454.6 L536.5,457.4 L537.5,461.1 L538.5,465.6 L539.5,470.7 L540.5,476.2 L541.5,481.8 L542.5,487.5 L543.5,494.0 L544.5,502.1 L545.5,511.1 L546.5,520.6 L547.5,530.0 L548.5,539.8 L549.5,550.3 L550.5,561.0 L551.5,571.1 L552.5,580.0 L553.5,588.2 L554.5,596.3 L555.5,604.1 L556.5,611.4 L557.5,618.0 L558.5,623.7 L559.5,628.2 L560.5,631.5 L561.5,634.4 L562.5,637.1 L563.5,639.4 L564.5,641.6 L565.5,643.5 L566.5,645.3 L567.5,646.8 L568.5,648.2 L569.5,649.4 L570.5,650.5 L571.5,651.6 L572.5,652.5 L573.5,653.4 L574.5,654.2 L575.5,654.9 L576.5,655.6 L577.5,656.3 L578.5,656.9 L579.5,657.6 L580.5,658.1 L581.5,658.7 L582.5,659.3 L583.5,659.9 L584.5,660.5 L585.5,661.1 L586.5,661.8 L587.5,662.5" fill="none" stroke="#34b834" stroke-width="2.3" stroke-linejoin="round" stroke-linecap="round" stroke-opacity="0.8"/><path d="M306.5,637.0 L307.5,637.0 L308.5,637.0 L309.5,637.0 L310.5,637.0 L311.5,637.0 L312.5,637.0 L313.5,637.0 L314.5,637.0 L315.5,637.0 L316.5,637.0 L317.5,637.0 L318.5,637.0 L319.5,637.0 L320.5,637.0 L321.5,637.0 L322.5,637.0 L323.5,636.9 L324.5,636.9 L325.5,636.9 L326.5,636.8 L327.5,636.7 L328.5,636.6 L329.5,636.5 L330.5,636.4 L331.5,636.2 L332.5,635.9 L333.5,635.5 L334.5,635.1 L335.5,634.6 L336.5,633.9 L337.5,633.1 L338.5,632.1 L339.5,630.9 L340.5,629.4 L341.5,627.8 L342.5,625.8 L343.5,623.5 L344.5,620.9 L345.5,617.9 L346.5,614.6 L347.5,610.9 L348.5,606.8 L349.5,602.4 L350.5,597.7 L351.5,592.7 L352.5,587.4 L353.5,582.0 L354.5,576.6 L355.5,571.1 L356.5,565.7 L357.5,560.5 L358.5,555.7 L359.6,551.2 L360.6,547.3 L361.6,544.0 L362.6,541.4 L363.6,539.5 L364.6,538.5 L365.6,538.3 L366.6,539.0 L367.6,540.8 L368.6,543.6 L369.6,547.3 L370.6,551.8 L371.6,557.0 L372.6,562.7 L373.6,568.7 L374.6,575.0 L375.6,581.3 L376.6,587.7 L377.6,593.9 L378.6,599.9 L379.6,605.6 L380.6,611.0 L381.6,616.0 L382.6,620.7 L383.6,624.9 L384.6,628.7 L385.6,632.1 L386.6,635.1 L387.6,637.7 L388.6,640.0 L389.6,642.0 L390.6,643.7 L391.6,645.1 L392.6,646.3 L393.6,647.4 L394.6,648.2 L395.6,648.9 L396.6,649.5 L397.6,650.0 L398.6,650.5 L399.6,650.8 L400.6,651.1 L401.6,651.3 L402.6,651.6 L403.6,651.7 L404.6,651.9 L405.6,652.1 L406.6,652.2 L407.6,652.3 L408.6,652.4 L409.6,652.5 L410.6,652.6 L411.6,652.7 L412.6,652.7" fill="none" stroke="#ea2424" stroke-width="2.4" stroke-linejoin="round" stroke-linecap="round" /><path d="M467.5,658.1 L468.5,658.1 L469.5,658.1 L470.5,658.0 L471.5,658.0 L472.5,658.0 L473.5,657.9 L474.5,657.9 L475.5,657.9 L476.5,657.8 L477.5,657.8 L478.5,657.8 L479.5,657.7 L480.5,657.7 L481.5,657.6 L482.5,657.6 L483.5,657.5 L484.5,657.5 L485.5,657.4 L486.5,657.4 L487.5,657.3 L488.5,657.2 L489.5,657.1 L490.5,657.0 L491.5,656.9 L492.5,656.8 L493.5,656.7 L494.5,656.6 L495.5,656.4 L496.5,656.2 L497.5,656.0 L498.5,655.7 L499.5,655.4 L500.5,655.0 L501.5,654.5 L502.5,653.9 L503.5,653.2 L504.5,652.4 L505.5,651.4 L506.5,650.2 L507.5,648.8 L508.5,647.1 L509.5,645.1 L510.5,642.7 L511.5,640.0 L512.5,636.9 L513.5,633.3 L514.5,629.2 L515.5,624.7 L516.5,619.6 L517.5,614.0 L518.5,607.8 L519.5,601.2 L520.5,594.1 L521.5,586.6 L522.5,578.7 L523.5,570.5 L524.5,562.2 L525.5,553.8 L526.5,545.5 L527.5,537.5 L528.5,529.8 L529.5,522.6 L530.5,516.1 L531.5,510.5 L532.5,506.0 L533.5,502.5 L534.5,500.3 L535.5,499.5 L536.5,499.9 L537.5,501.5 L538.5,504.1 L539.5,507.7 L540.5,512.3 L541.5,517.7 L542.5,523.9 L543.5,530.8 L544.5,538.1 L545.5,545.9 L546.5,553.9 L547.5,562.1 L548.5,570.3 L549.5,578.5 L550.5,586.4 L551.5,594.1 L552.5,601.5 L553.5,608.4 L554.5,615.0 L555.5,621.0 L556.5,626.6 L557.5,631.6 L558.5,636.2 L559.5,640.3 L560.5,643.9 L561.5,647.1 L562.5,649.9 L563.5,652.3 L564.5,654.3 L565.5,656.1 L566.5,657.6 L567.5,658.8 L568.5,659.8 L569.5,660.7 L570.5,661.4 L571.5,661.9 L572.5,662.4 L573.5,662.7 L574.5,663.0 L575.5,663.3 L576.5,663.4 L577.5,663.6 L578.5,663.7 L579.5,663.8 L580.5,663.8 L581.5,663.9 L582.5,663.9 L583.5,663.9 L584.5,664.0 L585.5,664.0 L586.5,664.0 L587.5,664.0" fill="none" stroke="#ea2424" stroke-width="2.4" stroke-linejoin="round" stroke-linecap="round" /><path d="M306.5,636.8 L307.5,636.2 L308.5,635.5 L309.5,634.7 L310.5,633.8 L311.5,632.7 L312.5,631.5 L313.5,630.2 L314.5,628.6 L315.5,626.9 L316.5,625.1 L317.5,623.0 L318.5,620.8 L319.5,618.3 L320.5,615.7 L321.5,612.9 L322.5,609.8 L323.5,606.7 L324.5,603.3 L325.5,599.8 L326.5,596.2 L327.5,592.6 L328.5,588.8 L329.5,585.0 L330.5,581.2 L331.5,577.5 L332.5,573.9 L333.5,570.4 L334.5,567.0 L335.5,563.9 L336.5,561.0 L337.5,558.5 L338.5,556.2 L339.5,554.3 L340.5,552.9 L341.5,551.8 L342.5,551.2 L343.5,551.0 L344.5,551.3 L345.5,552.1 L346.5,553.3 L347.5,554.9 L348.5,557.0 L349.5,559.4 L350.5,562.2 L351.5,565.4 L352.5,568.8 L353.5,572.5 L354.5,576.4 L355.5,580.4 L356.5,584.6 L357.5,588.9 L358.5,593.1 L359.6,597.4 L360.6,601.6 L361.6,605.8 L362.6,609.8 L363.6,613.7 L364.6,617.5 L365.6,621.0 L366.6,624.4 L367.6,627.6 L368.6,630.5 L369.6,633.3 L370.6,635.8 L371.6,638.1 L372.6,640.2 L373.6,642.1 L374.6,643.8 L375.6,645.3 L376.6,646.7 L377.6,647.9 L378.6,649.0 L379.6,649.9 L380.6,650.7 L381.6,651.4 L382.6,652.0 L383.6,652.5 L384.6,652.9 L385.6,653.3 L386.6,653.6 L387.6,653.9 L388.6,654.1 L389.6,654.3 L390.6,654.4 L391.6,654.5 L392.6,654.6 L393.6,654.7 L394.6,654.8 L395.6,654.8 L396.6,654.9 L397.6,654.9 L398.6,654.9 L399.6,654.9 L400.6,654.9 L401.6,655.0 L402.6,655.0 L403.6,655.0 L404.6,655.0 L405.6,655.0 L406.6,655.0 L407.6,655.0 L408.6,655.0 L409.6,655.0 L410.6,655.0 L411.6,655.0 L412.6,655.0" fill="none" stroke="#1e1ed2" stroke-width="2.4" stroke-linejoin="round" stroke-linecap="round" /><path d="M467.5,657.4 L468.5,657.3 L469.5,657.1 L470.5,656.9 L471.5,656.6 L472.5,656.3 L473.5,655.9 L474.5,655.4 L475.5,654.9 L476.5,654.3 L477.5,653.5 L478.5,652.6 L479.5,651.6 L480.5,650.4 L481.5,649.1 L482.5,647.5 L483.5,645.8 L484.5,643.8 L485.5,641.6 L486.5,639.2 L487.5,636.5 L488.5,633.5 L489.5,630.3 L490.5,626.8 L491.5,623.0 L492.5,618.9 L493.5,614.6 L494.5,610.1 L495.5,605.3 L496.5,600.3 L497.5,595.2 L498.5,589.9 L499.5,584.6 L500.5,579.3 L501.5,573.9 L502.5,568.7 L503.5,563.6 L504.5,558.7 L505.5,554.0 L506.5,549.7 L507.5,545.8 L508.5,542.2 L509.5,539.2 L510.5,536.7 L511.5,534.7 L512.5,533.4 L513.5,532.6 L514.5,532.5 L515.5,533.0 L516.5,534.2 L517.5,536.0 L518.5,538.4 L519.5,541.4 L520.5,544.9 L521.5,548.8 L522.5,553.2 L523.5,557.9 L524.5,562.9 L525.5,568.0 L526.5,573.4 L527.5,578.8 L528.5,584.3 L529.5,589.8 L530.5,595.2 L531.5,600.5 L532.5,605.7 L533.5,610.7 L534.5,615.4 L535.5,620.0 L536.5,624.2 L537.5,628.3 L538.5,632.0 L539.5,635.5 L540.5,638.7 L541.5,641.7 L542.5,644.3 L543.5,646.7 L544.5,648.9 L545.5,650.9 L546.5,652.6 L547.5,654.2 L548.5,655.5 L549.5,656.7 L550.5,657.8 L551.5,658.7 L552.5,659.5 L553.5,660.1 L554.5,660.7 L555.5,661.2 L556.5,661.6 L557.5,662.0 L558.5,662.3 L559.5,662.6 L560.5,662.8 L561.5,663.0 L562.5,663.2 L563.5,663.3 L564.5,663.4 L565.5,663.5 L566.5,663.6 L567.5,663.7 L568.5,663.8 L569.5,663.8 L570.5,663.9 L571.5,663.9 L572.5,664.0 L573.5,664.0 L574.5,664.0 L575.5,664.1 L576.5,664.1 L577.5,664.1 L578.5,664.2 L579.5,664.2 L580.5,664.2 L581.5,664.2 L582.5,664.3 L583.5,664.3 L584.5,664.3 L585.5,664.3 L586.5,664.3 L587.5,664.3" fill="none" stroke="#1e1ed2" stroke-width="2.4" stroke-linejoin="round" stroke-linecap="round" /><path d="M344.3,694.0 L344.3,551.2" stroke="#1a1a1a" stroke-width="2.2" stroke-dasharray="2.3,2.3" fill="none"/><path d="M513.3,694.0 L513.7,532.5" stroke="#1a1a1a" stroke-width="2.2" stroke-dasharray="2.3,2.3" fill="none"/><path d="M369.9,615.2 L408.4,587.2" stroke="#444" stroke-width="2.0" fill="none"/><path d="M416.5,581.3 L410.3,593.2 L403.3,583.5 Z" fill="#000" stroke="#000" stroke-width="0.8" stroke-linejoin="round"/><path d="M497.5,596.2 L472.9,585.3" stroke="#444" stroke-width="2.0" fill="none"/><path d="M463.8,581.2 L477.2,580.6 L472.3,591.6 Z" fill="#000" stroke="#000" stroke-width="0.8" stroke-linejoin="round"/><text x="411.8" y="568.6" font-size="29.2" fill="#000">In<tspan font-size="19.3" dy="5.5">2</tspan><tspan dy="-5.5">O</tspan><tspan font-size="19.3" dy="5.5">3</tspan></text>
<path d="M692.7,694.6 L692.7,691.1" stroke="#555" stroke-width="1.4"/><path d="M737.1,694.6 L737.1,691.1" stroke="#555" stroke-width="1.4"/><path d="M781.5,694.6 L781.5,691.1" stroke="#555" stroke-width="1.4"/><path d="M825.4,694.6 L825.4,691.1" stroke="#555" stroke-width="1.4"/><path d="M869.8,694.6 L869.8,691.1" stroke="#555" stroke-width="1.4"/><path d="M913.4,694.6 L913.4,691.1" stroke="#555" stroke-width="1.4"/><path d="M648.5,660.7 L649.5,660.1 L650.5,659.5 L651.5,659.7 L652.5,660.7 L653.5,661.8 L654.5,662.1 L655.5,661.7 L656.5,661.2 L657.5,660.9 L658.5,661.0 L659.5,661.0 L660.5,660.7 L661.5,660.1 L662.5,659.5 L663.5,659.5 L664.5,660.1 L665.5,660.7 L666.5,660.8 L667.5,660.6 L668.5,660.3 L669.5,660.0 L670.5,659.8 L671.5,659.5 L672.5,658.9 L673.5,657.9 L674.5,657.0 L675.5,656.7 L676.5,657.1 L677.5,657.7 L678.5,658.3 L679.5,659.1 L680.5,659.8 L681.5,659.7 L682.5,658.9 L683.5,658.0 L684.5,657.3 L685.5,656.8 L686.5,656.4 L687.5,656.4 L688.5,656.7 L689.5,657.0 L690.5,656.6 L691.5,655.5 L692.5,654.4 L693.5,653.9 L694.5,653.9 L695.5,654.1 L696.5,654.3 L697.5,654.9 L698.5,655.3 L699.5,655.1 L700.5,654.3 L701.5,653.3 L702.5,652.6 L703.5,651.9 L704.5,651.4 L705.5,651.4 L706.5,652.0 L707.5,652.5 L708.5,652.2 L709.5,650.9 L710.5,649.4 L711.5,648.4 L712.5,647.8 L713.5,647.1 L714.5,646.0 L715.5,644.6 L716.5,643.2 L717.5,642.5 L718.5,642.5 L719.5,642.6 L720.5,642.0 L721.5,640.9 L722.5,639.6 L723.5,638.2 L724.5,636.6 L725.5,635.1 L726.5,634.3 L727.5,634.2 L728.5,634.0 L729.5,632.9 L730.5,631.0 L731.5,628.9 L732.5,627.0 L733.5,625.2 L734.5,623.5 L735.5,622.1 L736.5,621.0 L737.5,619.7 L738.5,617.8 L739.5,615.0 L740.5,612.2 L741.5,610.3 L742.5,609.4 L743.5,608.4 L744.5,606.6 L745.5,604.0 L746.5,601.2 L747.5,598.6 L748.5,595.8 L749.5,593.2 L750.5,590.8 L751.5,588.6 L752.5,586.6 L753.5,584.7 L754.5,583.1 L755.5,581.1 L756.5,578.4 L757.5,574.9 L758.5,571.0 L759.5,567.0 L760.5,562.6 L761.5,558.4 L762.5,555.3 L763.5,553.5 L764.5,551.8 L765.5,548.0 L766.5,545.0 L767.5,541.3 L768.5,537.6 L769.5,534.5 L770.5,531.7 L771.5,528.9 L772.5,526.4 L773.5,524.4 L774.5,522.9 L775.5,521.6 L776.5,520.3 L777.5,519.1 L778.5,517.8 L779.5,515.3 L780.5,512.4 L781.5,510.1 L782.5,509.2 L783.5,509.1 L784.5,509.5 L785.5,510.3 L786.5,511.5 L787.5,512.5 L788.5,513.0 L789.5,512.4 L790.5,510.5 L791.5,507.8 L792.5,505.1 L793.5,502.9 L794.5,501.8 L795.5,501.4 L796.5,501.3 L797.5,501.1 L798.5,500.6 L799.5,499.4 L800.5,494.7 L801.5,489.2 L802.5,486.1 L803.5,485.9 L804.5,486.7 L805.5,487.0 L806.5,487.2 L807.5,487.4 L808.5,487.5 L809.5,487.7 L810.5,487.7 L811.5,487.5 L812.5,487.1 L813.5,486.6 L814.5,485.8 L815.5,484.8 L816.5,483.4 L817.5,481.6 L818.5,479.4 L819.5,477.1 L820.5,474.6 L821.5,471.6 L822.5,467.3 L823.5,463.2 L824.5,460.5 L825.5,460.8 L826.5,463.7 L827.5,466.9 L828.5,469.7 L829.5,472.4 L830.5,473.4 L831.5,472.1 L832.5,470.0 L833.5,468.4 L834.5,468.7 L835.5,470.4 L836.5,472.9 L837.5,475.5 L838.5,478.0 L839.5,480.6 L840.5,483.3 L841.5,485.4 L842.5,486.5 L843.5,487.1 L844.5,487.5 L845.5,488.0 L846.5,488.7 L847.5,489.9 L848.5,491.7 L849.5,494.0 L850.5,496.2 L851.5,498.1 L852.5,499.4 L853.5,500.1 L854.5,500.6 L855.5,501.0 L856.5,501.6 L857.5,502.5 L858.5,503.7 L859.5,505.2 L860.5,506.7 L861.5,508.4 L862.5,510.0 L863.5,511.8 L864.5,513.7 L865.5,515.7 L866.5,517.7 L867.5,519.7 L868.5,521.8 L869.5,524.1 L870.5,526.4 L871.5,528.3 L872.5,529.7 L873.5,533.1 L874.5,535.8 L875.5,538.7 L876.5,542.2 L877.5,546.3 L878.5,550.6 L879.5,554.4 L880.5,558.0 L881.5,561.4 L882.5,565.1 L883.5,568.8 L884.5,572.7 L885.5,577.2 L886.5,582.2 L887.5,587.3 L888.5,592.1 L889.5,596.5 L890.5,600.7 L891.5,605.2 L892.5,610.0 L893.5,614.7 L894.5,619.3 L895.5,623.8 L896.5,628.0 L897.5,631.6 L898.5,634.2 L899.5,636.7 L900.5,640.1 L901.5,644.6 L902.5,649.4 L903.5,653.5 L904.5,656.9 L905.5,659.8 L906.5,662.0 L907.5,663.8 L908.5,665.5 L909.5,666.7 L910.5,667.5 L911.5,668.2 L912.5,669.1 L913.5,670.3 L914.5,671.5 L915.5,672.1 L916.5,672.1 L917.5,672.1 L918.5,672.6 L919.5,673.4 L920.5,674.2 L921.5,674.7 L922.5,675.0 L923.5,675.1 L924.5,675.0 L925.5,674.3 L926.5,673.9 L927.5,674.2 L928.5,675.3 L929.5,676.5 L930.5,677.0" fill="none" stroke="#151515" stroke-width="2.2" stroke-linejoin="round" stroke-linecap="round" /><path d="M648.5,660.5 L649.5,660.4 L650.5,660.4 L651.5,660.3 L652.5,660.3 L653.5,660.2 L654.5,660.1 L655.5,660.1 L656.5,660.0 L657.5,660.0 L658.5,659.9 L659.5,659.8 L660.5,659.8 L661.5,659.7 L662.5,659.6 L663.5,659.5 L664.5,659.5 L665.5,659.4 L666.5,659.3 L667.5,659.2 L668.5,659.1 L669.5,659.0 L670.5,659.0 L671.5,658.9 L672.5,658.8 L673.5,658.7 L674.5,658.6 L675.5,658.4 L676.5,658.3 L677.5,658.2 L678.5,658.1 L679.5,658.0 L680.5,657.8 L681.5,657.7 L682.5,657.6 L683.5,657.4 L684.5,657.3 L685.5,657.1 L686.5,657.0 L687.5,656.8 L688.5,656.6 L689.5,656.4 L690.5,656.2 L691.5,656.0 L692.5,655.8 L693.5,655.5 L694.5,655.3 L695.5,655.0 L696.5,654.8 L697.5,654.5 L698.5,654.2 L699.5,653.9 L700.5,653.6 L701.5,653.2 L702.5,652.8 L703.5,652.4 L704.5,652.0 L705.5,651.6 L706.5,651.1 L707.5,650.7 L708.5,650.2 L709.5,649.6 L710.5,649.1 L711.5,648.5 L712.5,647.8 L713.5,647.2 L714.5,646.5 L715.5,645.7 L716.5,645.0 L717.5,644.2 L718.5,643.3 L719.5,642.4 L720.5,641.5 L721.5,640.5 L722.5,639.5 L723.5,638.4 L724.5,637.3 L725.5,636.2 L726.5,634.9 L727.5,633.7 L728.5,632.4 L729.5,631.0 L730.5,629.6 L731.5,628.1 L732.5,626.6 L733.5,625.0 L734.5,623.4 L735.5,621.7 L736.5,620.0 L737.5,618.2 L738.5,616.4 L739.5,614.5 L740.5,612.6 L741.5,610.6 L742.5,608.6 L743.5,606.5 L744.5,604.4 L745.5,602.3 L746.5,600.2 L747.5,598.0 L748.5,595.8 L749.5,593.6 L750.5,591.3 L751.5,589.2 L752.5,587.0 L753.5,584.6 L754.5,582.0 L755.5,579.2 L756.5,576.3 L757.5,573.3 L758.5,570.2 L759.5,567.0 L760.5,563.7 L761.5,560.4 L762.5,557.1 L763.5,553.9 L764.5,550.6 L765.5,547.3 L766.5,543.8 L767.5,540.0 L768.5,536.3 L769.5,532.6 L770.5,529.1 L771.5,525.9 L772.5,523.2 L773.5,521.0 L774.5,519.2 L775.5,517.6 L776.5,516.1 L777.5,514.8 L778.5,513.5 L779.5,512.1 L780.5,510.7 L781.5,509.2 L782.5,507.6 L783.5,506.0 L784.5,504.5 L785.5,503.1 L786.5,501.7 L787.5,500.5 L788.5,499.4 L789.5,498.4 L790.5,497.5 L791.5,496.5 L792.5,495.7 L793.5,494.8 L794.5,493.9 L795.5,493.0 L796.5,492.0 L797.5,491.1 L798.5,490.2 L799.5,489.3 L800.5,488.3 L801.5,487.4 L802.5,486.5 L803.5,485.6 L804.5,484.6 L805.5,483.7 L806.5,482.7 L807.5,481.7 L808.5,480.5 L809.5,479.4 L810.5,478.2 L811.5,477.1 L812.5,476.0 L813.5,475.1 L814.5,474.3 L815.5,473.7 L816.5,473.1 L817.5,472.6 L818.5,472.0 L819.5,471.5 L820.5,471.1 L821.5,470.7 L822.5,470.5 L823.5,470.3 L824.5,470.2 L825.5,470.3 L826.5,470.5 L827.5,471.0 L828.5,471.5 L829.5,472.2 L830.5,473.0 L831.5,473.8 L832.5,474.7 L833.5,475.7 L834.5,476.7 L835.5,477.7 L836.5,478.6 L837.5,479.6 L838.5,480.4 L839.5,481.4 L840.5,482.3 L841.5,483.3 L842.5,484.4 L843.5,485.4 L844.5,486.5 L845.5,487.6 L846.5,488.8 L847.5,489.9 L848.5,491.0 L849.5,492.1 L850.5,493.3 L851.5,494.3 L852.5,495.4 L853.5,496.4 L854.5,497.4 L855.5,498.4 L856.5,499.5 L857.5,500.6 L858.5,501.7 L859.5,503.0 L860.5,504.3 L861.5,505.7 L862.5,507.4 L863.5,509.1 L864.5,511.0 L865.5,513.0 L866.5,515.1 L867.5,517.3 L868.5,519.7 L869.5,522.1 L870.5,524.6 L871.5,527.2 L872.5,530.2 L873.5,533.3 L874.5,536.6 L875.5,539.9 L876.5,543.3 L877.5,546.7 L878.5,550.1 L879.5,553.6 L880.5,557.2 L881.5,560.8 L882.5,564.6 L883.5,568.6 L884.5,572.8 L885.5,577.4 L886.5,582.3 L887.5,587.3 L888.5,592.3 L889.5,597.0 L890.5,601.4 L891.5,605.8 L892.5,610.0 L893.5,614.1 L894.5,618.2 L895.5,622.3 L896.5,626.4 L897.5,630.5 L898.5,634.5 L899.5,638.4 L900.5,642.0 L901.5,645.6 L902.5,649.2 L903.5,652.7 L904.5,655.9 L905.5,658.5 L906.5,660.5 L907.5,662.0 L908.5,663.4 L909.5,664.6 L910.5,665.8 L911.5,666.9 L912.5,667.8 L913.5,668.7 L914.5,669.5 L915.5,670.2 L916.5,670.8 L917.5,671.4 L918.5,671.9 L919.5,672.4 L920.5,672.8 L921.5,673.2 L922.5,673.6 L923.5,673.9 L924.5,674.2 L925.5,674.5 L926.5,674.8 L927.5,675.1 L928.5,675.5 L929.5,675.8 L930.5,676.0" fill="none" stroke="#34b834" stroke-width="2.3" stroke-linejoin="round" stroke-linecap="round" stroke-opacity="0.8"/><path d="M648.5,668.7 L649.5,668.7 L650.5,668.7 L651.5,668.7 L652.5,668.7 L653.5,668.7 L654.5,668.7 L655.5,668.7 L656.5,668.7 L657.5,668.7 L658.5,668.7 L659.5,668.7 L660.5,668.7 L661.5,668.7 L662.5,668.7 L663.5,668.7 L664.5,668.7 L665.5,668.7 L666.5,668.7 L667.5,668.7 L668.5,668.7 L669.5,668.7 L670.5,668.7 L671.5,668.7 L672.5,668.7 L673.5,668.7 L674.5,668.7 L675.5,668.7 L676.5,668.7 L677.5,668.7 L678.5,668.7 L679.5,668.7 L680.5,668.7 L681.5,668.7 L682.5,668.7 L683.5,668.7 L684.5,668.7 L685.5,668.7 L686.5,668.7 L687.5,668.7 L688.5,668.7 L689.5,668.7 L690.5,668.7 L691.5,668.7 L692.5,668.7 L693.5,668.7 L694.5,668.7 L695.5,668.7 L696.5,668.7 L697.5,668.7 L698.5,668.7 L699.5,668.7 L700.5,668.7 L701.5,668.7 L702.5,668.7 L703.5,668.7 L704.5,668.7 L705.5,668.7 L706.5,668.7 L707.5,668.7 L708.5,668.7 L709.5,668.7 L710.5,668.7 L711.5,668.7 L712.5,668.6 L713.5,668.6 L714.5,668.6 L715.5,668.6 L716.5,668.6 L717.5,668.6 L718.5,668.6 L719.5,668.6 L720.5,668.5 L721.5,668.5 L722.5,668.5 L723.5,668.4 L724.5,668.4 L725.5,668.4 L726.5,668.3 L727.5,668.3 L728.5,668.2 L729.5,668.1 L730.5,668.1 L731.5,668.0 L732.5,667.9 L733.5,667.8 L734.5,667.7 L735.5,667.5 L736.5,667.4 L737.5,667.2 L738.5,667.1 L739.5,666.9 L740.5,666.7 L741.5,666.4 L742.5,666.2 L743.5,665.9 L744.5,665.6 L745.5,665.2 L746.5,664.9 L747.5,664.4 L748.5,664.0 L749.5,663.5 L750.5,663.0 L751.5,662.4 L752.5,661.8 L753.5,661.1 L754.5,660.4 L755.5,659.6 L756.5,658.8 L757.5,657.9 L758.5,656.9 L759.5,655.9 L760.5,654.8 L761.5,653.6 L762.5,652.4 L763.5,651.0 L764.5,649.6 L765.5,648.1 L766.5,646.5 L767.5,644.9 L768.5,643.1 L769.5,641.2 L770.5,639.3 L771.5,637.3 L772.5,635.1 L773.5,632.9 L774.5,630.6 L775.5,628.1 L776.5,625.6 L777.5,623.0 L778.5,620.3 L779.5,617.6 L780.5,614.7 L781.5,611.8 L782.5,608.7 L783.5,605.6 L784.5,602.5 L785.5,599.3 L786.5,596.0 L787.5,592.7 L788.5,589.3 L789.5,585.9 L790.5,582.5 L791.5,579.1 L792.5,575.7 L793.5,572.3 L794.5,568.9 L795.5,565.5 L796.5,562.1 L797.5,558.8 L798.5,555.6 L799.5,552.4 L800.5,549.3 L801.5,546.4 L802.5,543.5 L803.5,540.7 L804.5,538.0 L805.5,535.5 L806.5,533.1 L807.5,530.9 L808.5,528.8 L809.5,527.0 L810.5,525.2 L811.5,523.7 L812.5,522.4 L813.5,521.3 L814.5,520.3 L815.5,519.6 L816.5,519.1 L817.5,518.8 L818.5,518.8 L819.5,518.9 L820.5,519.3 L821.5,519.9 L822.5,520.8 L823.5,521.9 L824.5,523.3 L825.5,524.9 L826.5,526.7 L827.5,528.7 L828.5,530.9 L829.5,533.3 L830.5,535.9 L831.5,538.7 L832.5,541.6 L833.5,544.7 L834.5,547.9 L835.5,551.3 L836.5,554.7 L837.5,558.3 L838.5,561.9 L839.5,565.6 L840.5,569.3 L841.5,573.1 L842.5,576.9 L843.5,580.8 L844.5,584.6 L845.5,588.4 L846.5,592.3 L847.5,596.0 L848.5,599.8 L849.5,603.5 L850.5,607.1 L851.5,610.6 L852.5,614.1 L853.5,617.5 L854.5,620.8 L855.5,624.0 L856.5,627.1 L857.5,630.1 L858.5,633.0 L859.5,635.8 L860.5,638.5 L861.5,641.1 L862.5,643.5 L863.5,645.9 L864.5,648.1 L865.5,650.3 L866.5,652.3 L867.5,654.2 L868.5,656.0 L869.5,657.7 L870.5,659.3 L871.5,660.8 L872.5,662.2 L873.5,663.5 L874.5,664.7 L875.5,665.8 L876.5,666.9 L877.5,667.9 L878.5,668.8 L879.5,669.6 L880.5,670.4 L881.5,671.1 L882.5,671.8 L883.5,672.4 L884.5,673.0 L885.5,673.5 L886.5,673.9 L887.5,674.3 L888.5,674.7 L889.5,675.1 L890.5,675.4 L891.5,675.7 L892.5,675.9 L893.5,676.2 L894.5,676.4 L895.5,676.6 L896.5,676.7 L897.5,676.9 L898.5,677.0 L899.5,677.1 L900.5,677.2 L901.5,677.3 L902.5,677.4 L903.5,677.5 L904.5,677.5 L905.5,677.6 L906.5,677.7 L907.5,677.7 L908.5,677.7 L909.5,677.8 L910.5,677.8 L911.5,677.8 L912.5,677.9 L913.5,677.9 L914.5,677.9 L915.5,677.9 L916.5,677.9 L917.5,677.9 L918.5,677.9 L919.5,678.0 L920.5,678.0 L921.5,678.0 L922.5,678.0 L923.5,678.0 L924.5,678.0 L925.5,678.0 L926.5,678.0 L927.5,678.0 L928.5,678.0 L929.5,678.0 L930.5,678.0" fill="none" stroke="#ea2424" stroke-width="2.4" stroke-linejoin="round" stroke-linecap="round" /><path d="M648.5,670.0 L649.5,670.0 L650.5,670.0 L651.5,670.0 L652.5,670.0 L653.5,670.0 L654.5,670.0 L655.5,670.0 L656.5,670.0 L657.5,670.0 L658.5,670.0 L659.5,670.0 L660.5,670.0 L661.5,670.0 L662.5,670.0 L663.5,670.0 L664.5,670.0 L665.5,670.0 L666.5,670.0 L667.5,670.0 L668.5,670.0 L669.5,670.0 L670.5,670.0 L671.5,670.0 L672.5,670.0 L673.5,670.0 L674.5,670.0 L675.5,670.0 L676.5,670.0 L677.5,670.0 L678.5,670.0 L679.5,670.0 L680.5,670.0 L681.5,670.0 L682.5,670.0 L683.5,670.0 L684.5,670.0 L685.5,670.0 L686.5,670.0 L687.5,670.0 L688.5,670.0 L689.5,670.0 L690.5,670.0 L691.5,670.0 L692.5,670.0 L693.5,670.0 L694.5,670.0 L695.5,670.0 L696.5,670.0 L697.5,670.0 L698.5,670.0 L699.5,670.0 L700.5,670.0 L701.5,670.0 L702.5,670.0 L703.5,670.0 L704.5,670.0 L705.5,670.0 L706.5,670.0 L707.5,670.0 L708.5,670.0 L709.5,670.0 L710.5,670.0 L711.5,670.0 L712.5,670.0 L713.5,670.0 L714.5,670.0 L715.5,670.0 L716.5,670.0 L717.5,670.0 L718.5,670.0 L719.5,670.0 L720.5,670.0 L721.5,670.0 L722.5,670.0 L723.5,670.0 L724.5,670.0 L725.5,670.0 L726.5,670.0 L727.5,670.0 L728.5,670.0 L729.5,670.0 L730.5,670.0 L731.5,670.0 L732.5,670.0 L733.5,670.0 L734.5,670.0 L735.5,670.0 L736.5,670.0 L737.5,670.0 L738.5,670.0 L739.5,670.0 L740.5,670.0 L741.5,670.0 L742.5,670.0 L743.5,670.0 L744.5,670.0 L745.5,670.0 L746.5,670.0 L747.5,670.0 L748.5,670.0 L749.5,670.0 L750.5,670.0 L751.5,670.0 L752.5,670.0 L753.5,670.0 L754.5,670.0 L755.5,670.0 L756.5,670.0 L757.5,670.0 L758.5,670.0 L759.5,670.0 L760.5,670.0 L761.5,670.0 L762.5,670.0 L763.5,670.0 L764.5,670.0 L765.5,670.0 L766.5,670.0 L767.5,670.0 L768.5,670.0 L769.5,670.0 L770.5,670.0 L771.5,670.0 L772.5,669.9 L773.5,669.9 L774.5,669.9 L775.5,669.9 L776.5,669.9 L777.5,669.9 L778.5,669.9 L779.5,669.8 L780.5,669.8 L781.5,669.8 L782.5,669.7 L783.5,669.7 L784.5,669.7 L785.5,669.6 L786.5,669.5 L787.5,669.5 L788.5,669.4 L789.5,669.3 L790.5,669.2 L791.5,669.1 L792.5,668.9 L793.5,668.8 L794.5,668.6 L795.5,668.4 L796.5,668.2 L797.5,668.0 L798.5,667.7 L799.5,667.4 L800.5,667.1 L801.5,666.8 L802.5,666.4 L803.5,665.9 L804.5,665.5 L805.5,664.9 L806.5,664.4 L807.5,663.7 L808.5,663.0 L809.5,662.3 L810.5,661.5 L811.5,660.6 L812.5,659.7 L813.5,658.6 L814.5,657.5 L815.5,656.4 L816.5,655.1 L817.5,653.7 L818.5,652.3 L819.5,650.7 L820.5,649.1 L821.5,647.4 L822.5,645.5 L823.5,643.6 L824.5,641.6 L825.5,639.4 L826.5,637.2 L827.5,634.9 L828.5,632.4 L829.5,629.9 L830.5,627.3 L831.5,624.6 L832.5,621.8 L833.5,618.9 L834.5,616.0 L835.5,613.0 L836.5,610.0 L837.5,606.9 L838.5,603.7 L839.5,600.6 L840.5,597.4 L841.5,594.2 L842.5,591.0 L843.5,587.8 L844.5,584.7 L845.5,581.6 L846.5,578.6 L847.5,575.6 L848.5,572.7 L849.5,570.0 L850.5,567.3 L851.5,564.7 L852.5,562.3 L853.5,560.1 L854.5,558.0 L855.5,556.0 L856.5,554.3 L857.5,552.7 L858.5,551.4 L859.5,550.2 L860.5,549.3 L861.5,548.6 L862.5,548.1 L863.5,547.9 L864.5,547.9 L865.5,548.1 L866.5,548.6 L867.5,549.5 L868.5,550.6 L869.5,552.0 L870.5,553.8 L871.5,555.8 L872.5,558.0 L873.5,560.5 L874.5,563.2 L875.5,566.2 L876.5,569.3 L877.5,572.6 L878.5,576.0 L879.5,579.6 L880.5,583.3 L881.5,587.0 L882.5,590.9 L883.5,594.7 L884.5,598.6 L885.5,602.6 L886.5,606.4 L887.5,610.3 L888.5,614.1 L889.5,617.9 L890.5,621.6 L891.5,625.1 L892.5,628.6 L893.5,632.0 L894.5,635.2 L895.5,638.4 L896.5,641.4 L897.5,644.2 L898.5,647.0 L899.5,649.5 L900.5,652.0 L901.5,654.3 L902.5,656.4 L903.5,658.4 L904.5,660.3 L905.5,662.1 L906.5,663.7 L907.5,665.2 L908.5,666.6 L909.5,667.9 L910.5,669.0 L911.5,670.1 L912.5,671.1 L913.5,672.0 L914.5,672.8 L915.5,673.5 L916.5,674.1 L917.5,674.7 L918.5,675.2 L919.5,675.7 L920.5,676.1 L921.5,676.5 L922.5,676.8 L923.5,677.1 L924.5,677.4 L925.5,677.6 L926.5,677.8 L927.5,678.0 L928.5,678.1 L929.5,678.2 L930.5,678.3" fill="none" stroke="#ea2424" stroke-width="2.4" stroke-linejoin="round" stroke-linecap="round" /><path d="M648.5,660.5 L649.5,660.4 L650.5,660.4 L651.5,660.3 L652.5,660.3 L653.5,660.2 L654.5,660.1 L655.5,660.1 L656.5,660.0 L657.5,660.0 L658.5,659.9 L659.5,659.8 L660.5,659.8 L661.5,659.7 L662.5,659.6 L663.5,659.5 L664.5,659.5 L665.5,659.4 L666.5,659.3 L667.5,659.2 L668.5,659.1 L669.5,659.0 L670.5,659.0 L671.5,658.9 L672.5,658.8 L673.5,658.7 L674.5,658.6 L675.5,658.4 L676.5,658.3 L677.5,658.2 L678.5,658.1 L679.5,658.0 L680.5,657.8 L681.5,657.7 L682.5,657.6 L683.5,657.4 L684.5,657.3 L685.5,657.1 L686.5,657.0 L687.5,656.8 L688.5,656.6 L689.5,656.4 L690.5,656.2 L691.5,656.0 L692.5,655.8 L693.5,655.5 L694.5,655.3 L695.5,655.0 L696.5,654.8 L697.5,654.5 L698.5,654.2 L699.5,653.9 L700.5,653.6 L701.5,653.2 L702.5,652.8 L703.5,652.4 L704.5,652.0 L705.5,651.6 L706.5,651.1 L707.5,650.7 L708.5,650.2 L709.5,649.6 L710.5,649.1 L711.5,648.5 L712.5,647.8 L713.5,647.2 L714.5,646.5 L715.5,645.7 L716.5,645.0 L717.5,644.2 L718.5,643.3 L719.5,642.4 L720.5,641.5 L721.5,640.5 L722.5,639.5 L723.5,638.4 L724.5,637.3 L725.5,636.2 L726.5,634.9 L727.5,633.7 L728.5,632.4 L729.5,631.0 L730.5,629.6 L731.5,628.1 L732.5,626.6 L733.5,625.0 L734.5,623.4 L735.5,621.7 L736.5,620.0 L737.5,618.2 L738.5,616.4 L739.5,614.5 L740.5,612.6 L741.5,610.6 L742.5,608.6 L743.5,606.5 L744.5,604.4 L745.5,602.3 L746.5,600.2 L747.5,598.0 L748.5,595.8 L749.5,593.6 L750.5,591.3 L751.5,589.1 L752.5,586.9 L753.5,584.6 L754.5,582.4 L755.5,580.2 L756.5,578.0 L757.5,575.9 L758.5,573.8 L759.5,571.8 L760.5,569.8 L761.5,567.9 L762.5,566.1 L763.5,564.4 L764.5,562.8 L765.5,561.3 L766.5,559.9 L767.5,558.7 L768.5,557.6 L769.5,556.7 L770.5,556.0 L771.5,555.4 L772.5,555.0 L773.5,554.8 L774.5,554.7 L775.5,554.9 L776.5,555.3 L777.5,555.9 L778.5,556.6 L779.5,557.6 L780.5,558.8 L781.5,560.1 L782.5,561.6 L783.5,563.3 L784.5,565.1 L785.5,567.0 L786.5,569.1 L787.5,571.2 L788.5,573.5 L789.5,575.8 L790.5,578.2 L791.5,580.6 L792.5,583.0 L793.5,585.5 L794.5,588.0 L795.5,590.5 L796.5,593.0 L797.5,595.5 L798.5,598.0 L799.5,600.4 L800.5,602.9 L801.5,605.3 L802.5,607.6 L803.5,609.9 L804.5,612.2 L805.5,614.4 L806.5,616.5 L807.5,618.6 L808.5,620.7 L809.5,622.7 L810.5,624.6 L811.5,626.5 L812.5,628.3 L813.5,630.1 L814.5,631.8 L815.5,633.4 L816.5,635.0 L817.5,636.6 L818.5,638.1 L819.5,639.5 L820.5,640.9 L821.5,642.2 L822.5,643.4 L823.5,644.7 L824.5,645.8 L825.5,646.9 L826.5,648.0 L827.5,649.0 L828.5,650.0 L829.5,651.0 L830.5,651.9 L831.5,652.7 L832.5,653.5 L833.5,654.3 L834.5,655.1 L835.5,655.8 L836.5,656.5 L837.5,657.1 L838.5,657.7 L839.5,658.3 L840.5,658.9 L841.5,659.4 L842.5,659.9 L843.5,660.4 L844.5,660.9 L845.5,661.3 L846.5,661.8 L847.5,662.2 L848.5,662.6 L849.5,662.9 L850.5,663.3 L851.5,663.6 L852.5,663.9 L853.5,664.3 L854.5,664.6 L855.5,664.8 L856.5,665.1 L857.5,665.4 L858.5,665.6 L859.5,665.9 L860.5,666.1 L861.5,666.3 L862.5,666.5 L863.5,666.7 L864.5,666.9 L865.5,667.1 L866.5,667.3 L867.5,667.5 L868.5,667.7 L869.5,667.8 L870.5,668.0 L871.5,668.2 L872.5,668.3 L873.5,668.4 L874.5,668.6 L875.5,668.7 L876.5,668.9 L877.5,669.0 L878.5,669.1 L879.5,669.2 L880.5,669.4 L881.5,669.5 L882.5,669.6 L883.5,669.7 L884.5,669.8 L885.5,669.9 L886.5,670.0 L887.5,670.1 L888.5,670.2 L889.5,670.3 L890.5,670.4 L891.5,670.5 L892.5,670.6 L893.5,670.7 L894.5,670.7 L895.5,670.8 L896.5,670.9 L897.5,671.0 L898.5,671.1 L899.5,671.1 L900.5,671.2 L901.5,671.3 L902.5,671.3 L903.5,671.4 L904.5,671.5 L905.5,671.5 L906.5,671.6 L907.5,671.7 L908.5,671.7 L909.5,671.8 L910.5,671.9 L911.5,671.9 L912.5,672.0 L913.5,672.0 L914.5,672.1 L915.5,672.1 L916.5,672.2 L917.5,672.2 L918.5,672.3 L919.5,672.3 L920.5,672.4 L921.5,672.4 L922.5,672.5 L923.5,672.5 L924.5,672.6 L925.5,672.6 L926.5,672.6 L927.5,672.7 L928.5,672.7 L929.5,672.8 L930.5,672.8" fill="none" stroke="#1e1ed2" stroke-width="2.4" stroke-linejoin="round" stroke-linecap="round" /><path d="M772.9,694.0 L772.9,554.8" stroke="#1a1a1a" stroke-width="2.2" stroke-dasharray="2.3,2.3" fill="none"/><path d="M764.8,558.5 L720.1,515.8" stroke="#444" stroke-width="2.0" fill="none"/><path d="M712.9,508.9 L725.7,512.9 L717.4,521.5 Z" fill="#000" stroke="#000" stroke-width="0.8" stroke-linejoin="round"/><text x="671.2" y="492.3" font-size="29.2" fill="#000">Ga<tspan font-size="19.3" dy="5.5">2</tspan><tspan dy="-5.5">O</tspan><tspan font-size="19.3" dy="5.5">3</tspan></text>
<path d="M1023.4,694.6 L1023.4,691.1" stroke="#555" stroke-width="1.4"/><path d="M1091.1,694.6 L1091.1,691.1" stroke="#555" stroke-width="1.4"/><path d="M1156.2,694.6 L1156.2,691.1" stroke="#555" stroke-width="1.4"/><path d="M1223.7,694.6 L1223.7,691.1" stroke="#555" stroke-width="1.4"/><path d="M993.5,667.9 L994.5,668.1 L995.5,668.6 L996.5,668.9 L997.5,669.0 L998.5,669.1 L999.5,669.5 L1000.5,670.0 L1001.5,670.4 L1002.5,670.6 L1003.5,670.6 L1004.5,670.2 L1005.5,669.5 L1006.5,668.5 L1007.5,667.5 L1008.5,666.7 L1009.5,666.3 L1010.5,665.9 L1011.5,665.3 L1012.5,664.5 L1013.5,663.6 L1014.5,662.7 L1015.5,660.7 L1016.5,655.6 L1017.5,650.2 L1018.5,647.5 L1019.5,647.4 L1020.5,648.8 L1021.5,650.6 L1022.4,651.8 L1023.4,651.7 L1024.4,650.8 L1025.4,649.3 L1026.4,647.1 L1027.4,644.6 L1028.4,642.2 L1029.4,640.1 L1030.4,638.6 L1031.4,638.8 L1032.4,640.4 L1033.4,641.9 L1034.4,641.8 L1035.4,639.8 L1036.4,636.7 L1037.4,632.9 L1038.4,628.8 L1039.4,625.2 L1040.4,623.6 L1041.4,625.6 L1042.4,629.6 L1043.4,632.5 L1044.4,632.0 L1045.4,628.9 L1046.4,625.0 L1047.4,621.9 L1048.4,620.7 L1049.4,619.9 L1050.4,619.2 L1051.4,618.0 L1052.4,616.7 L1053.4,614.7 L1054.4,612.6 L1055.4,611.1 L1056.4,610.6 L1057.4,611.8 L1058.4,613.8 L1059.4,615.9 L1060.4,616.9 L1061.4,617.2 L1062.4,617.6 L1063.4,618.1 L1064.4,618.6 L1065.4,619.1 L1066.4,619.8 L1067.4,620.3 L1068.4,620.6 L1069.4,620.5 L1070.4,620.0 L1071.4,619.5 L1072.4,619.1 L1073.4,618.4 L1074.4,617.5 L1075.4,616.5 L1076.4,615.8 L1077.3,616.1 L1078.3,617.6 L1079.3,619.5 L1080.3,621.0 L1081.3,622.1 L1082.3,623.3 L1083.3,624.9 L1084.3,626.9 L1085.3,629.2 L1086.3,631.7 L1087.3,634.1 L1088.3,635.8 L1089.3,636.4 L1090.3,635.8 L1091.3,634.7 L1092.3,633.9 L1093.3,633.5 L1094.3,633.1 L1095.3,632.3 L1096.3,631.6 L1097.3,630.9 L1098.3,630.0 L1099.3,628.7 L1100.3,627.5 L1101.3,627.1 L1102.3,627.7 L1103.3,629.3 L1104.3,631.6 L1105.3,634.5 L1106.3,637.5 L1107.3,639.9 L1108.3,641.1 L1109.3,641.6 L1110.3,641.6 L1111.3,641.5 L1112.3,641.6 L1113.3,642.0 L1114.3,642.8 L1115.3,643.7 L1116.3,644.4 L1117.3,644.9 L1118.3,645.2 L1119.3,645.8 L1120.3,646.8 L1121.3,648.0 L1122.3,648.8 L1123.3,648.9 L1124.3,649.0 L1125.3,649.4 L1126.3,650.6 L1127.3,652.2 L1128.3,654.1 L1129.3,656.3 L1130.3,658.5 L1131.3,660.5 L1132.3,661.7 L1133.2,662.5 L1134.2,663.0 L1135.2,663.8 L1136.2,664.5 L1137.2,664.7 L1138.2,664.5 L1139.2,664.1 L1140.2,663.7 L1141.2,663.6 L1142.2,663.4 L1143.2,663.0 L1144.2,662.1 L1145.2,661.3 L1146.2,660.8 L1147.2,660.9 L1148.2,661.1 L1149.2,661.1 L1150.2,660.5 L1151.2,659.8 L1152.2,659.5 L1153.2,659.5 L1154.2,659.5 L1155.2,659.1 L1156.2,658.2 L1157.2,657.1 L1158.2,656.1 L1159.2,655.4 L1160.2,654.6 L1161.2,653.3 L1162.2,651.3 L1163.2,648.7 L1164.2,645.9 L1165.2,642.6 L1166.2,638.7 L1167.2,634.2 L1168.2,629.0 L1169.2,623.7 L1170.2,618.7 L1171.2,614.4 L1172.2,610.6 L1173.2,606.5 L1174.2,601.8 L1175.2,596.8 L1176.2,591.5 L1177.2,586.0 L1178.2,580.2 L1179.2,574.4 L1180.2,568.8 L1181.2,562.3 L1182.2,554.8 L1183.2,546.6 L1184.2,538.4 L1185.2,531.3 L1186.2,525.1 L1187.2,519.1 L1188.2,513.6 L1189.2,508.8 L1190.1,505.0 L1191.1,502.1 L1192.1,499.7 L1193.1,497.5 L1194.1,495.6 L1195.1,493.8 L1196.1,492.0 L1197.1,490.2 L1198.1,488.4 L1199.1,486.3 L1200.1,483.9 L1201.1,481.4 L1202.1,478.7 L1203.1,476.0 L1204.1,473.4 L1205.1,471.2 L1206.1,469.5 L1207.1,468.5 L1208.1,468.3 L1209.1,468.9 L1210.1,470.2 L1211.1,471.8 L1212.1,473.7 L1213.1,475.7 L1214.1,477.6 L1215.1,479.7 L1216.1,482.0 L1217.1,484.7 L1218.1,487.5 L1219.1,490.8 L1220.1,496.1 L1221.1,503.4 L1222.1,511.9 L1223.1,520.7 L1224.1,528.8 L1225.1,535.9 L1226.1,543.0 L1227.1,550.5 L1228.1,558.6 L1229.1,566.9 L1230.1,574.5 L1231.1,581.2 L1232.1,587.6 L1233.1,594.2 L1234.1,600.9 L1235.1,607.7 L1236.1,614.3 L1237.1,620.8 L1238.1,627.0 L1239.1,633.0 L1240.1,639.0 L1241.1,644.6 L1242.1,649.4 L1243.1,653.0 L1244.1,655.4 L1245.0,657.6 L1246.0,660.0 L1247.0,662.4 L1248.0,664.6 L1249.0,666.5 L1250.0,668.2 L1251.0,669.7 L1252.0,671.4 L1253.0,673.0 L1254.0,674.2 L1255.0,674.7 L1256.0,674.7 L1257.0,674.8 L1258.0,674.8 L1259.0,674.9 L1260.0,675.2 L1261.0,676.0 L1262.0,677.0 L1263.0,677.8 L1264.0,678.3 L1265.0,678.5 L1266.0,678.7 L1267.0,678.7 L1268.0,678.7 L1269.0,678.8 L1270.0,679.0 L1271.0,679.4 L1272.0,679.8 L1273.0,680.3" fill="none" stroke="#151515" stroke-width="2.2" stroke-linejoin="round" stroke-linecap="round" /><path d="M1137.0,664.0 L1138.0,663.7 L1139.0,663.4 L1140.0,663.1 L1141.0,662.8 L1142.0,662.5 L1143.0,662.3 L1144.0,662.0 L1145.0,661.8 L1146.0,661.6 L1147.0,661.4 L1148.0,661.3 L1149.0,661.1 L1150.0,660.9 L1151.0,660.6 L1152.0,660.3 L1153.0,659.9 L1154.0,659.3 L1155.0,658.6 L1156.0,657.8 L1157.0,656.9 L1158.0,656.0 L1159.0,655.0 L1160.0,654.0 L1161.0,652.7 L1162.0,651.3 L1163.0,649.6 L1164.0,647.3 L1165.0,644.1 L1166.0,640.2 L1167.0,635.7 L1168.0,630.8 L1169.0,625.7 L1170.0,620.6 L1171.0,615.6 L1172.0,610.9 L1173.0,606.3 L1174.0,601.6 L1175.0,596.9 L1176.0,592.1 L1177.0,587.1 L1178.0,581.8 L1179.0,576.2 L1180.0,570.3 L1181.0,563.3 L1182.0,555.5 L1183.0,547.4 L1184.0,539.5 L1185.0,532.4 L1186.0,526.3 L1187.0,520.3 L1188.0,514.6 L1189.0,509.5 L1190.0,505.1 L1191.0,501.8 L1192.0,499.3 L1193.0,497.1 L1194.0,495.3 L1195.0,493.6 L1196.0,492.1 L1197.0,490.5 L1198.0,488.9 L1199.0,487.0 L1200.0,484.8 L1201.0,482.2 L1202.0,479.4 L1203.0,476.6 L1204.0,474.0 L1205.0,471.7 L1206.0,470.0 L1207.0,469.0 L1208.0,468.9 L1209.0,469.6 L1210.0,470.8 L1211.0,472.5 L1212.0,474.3 L1213.0,476.0 L1214.0,477.6 L1215.0,479.3 L1216.0,481.2 L1217.0,483.4 L1218.0,486.1 L1219.0,489.4 L1220.0,495.0 L1221.0,502.5 L1222.0,511.1 L1223.0,520.0 L1224.0,528.4 L1225.0,535.9 L1226.0,543.5 L1227.0,551.0 L1228.0,558.5 L1229.0,565.8 L1230.0,572.9 L1231.0,580.0 L1232.0,587.1 L1233.0,594.1 L1234.0,601.1 L1235.0,607.8 L1236.0,614.3 L1237.0,620.6 L1238.0,626.4 L1239.0,632.1 L1240.0,637.9 L1241.0,643.3 L1242.0,648.3 L1243.0,652.5 L1244.0,655.7 L1245.0,658.5 L1246.0,661.0 L1247.0,663.4 L1248.0,665.5 L1249.0,667.4 L1250.0,669.0 L1251.0,670.4 L1252.0,671.4 L1253.0,672.2 L1254.0,673.0 L1255.0,673.6 L1256.0,674.2 L1257.0,674.7 L1258.0,675.2 L1259.0,675.7 L1260.0,676.1 L1261.0,676.6 L1262.0,677.0 L1263.0,677.4 L1264.0,677.9 L1265.0,678.3 L1266.0,678.6 L1267.0,679.0 L1268.0,679.4 L1269.0,679.7 L1270.0,680.1 L1271.0,680.5 L1272.0,680.8 L1273.0,681.2" fill="none" stroke="#34b834" stroke-width="2.3" stroke-linejoin="round" stroke-linecap="round" stroke-opacity="0.8"/><path d="M1141.0,669.6 L1142.0,669.5 L1143.0,669.4 L1144.0,669.3 L1145.0,669.2 L1146.0,669.1 L1147.0,668.9 L1148.0,668.8 L1149.0,668.6 L1150.0,668.4 L1151.0,668.3 L1152.0,668.0 L1153.0,667.8 L1154.0,667.5 L1155.0,667.2 L1156.0,666.8 L1157.0,666.3 L1158.0,665.8 L1159.0,665.2 L1160.0,664.4 L1161.0,663.6 L1162.0,662.5 L1163.0,661.3 L1164.0,659.9 L1165.0,658.2 L1166.0,656.3 L1167.0,654.0 L1168.0,651.4 L1169.0,648.4 L1170.0,645.1 L1171.0,641.3 L1172.0,637.1 L1173.0,632.5 L1174.0,627.4 L1175.0,621.9 L1176.0,616.1 L1177.0,610.0 L1178.0,603.5 L1179.0,596.9 L1180.0,590.2 L1181.0,583.6 L1182.0,577.1 L1183.0,570.9 L1184.0,565.1 L1185.0,560.1 L1186.0,555.8 L1187.0,552.5 L1188.0,550.3 L1189.0,549.3 L1190.0,549.5 L1191.0,550.4 L1192.0,551.7 L1193.0,553.6 L1194.0,556.0 L1195.0,558.8 L1196.0,562.1 L1197.0,565.8 L1198.0,569.8 L1199.0,574.1 L1200.0,578.7 L1201.0,583.5 L1202.0,588.5 L1203.0,593.5 L1204.0,598.7 L1205.0,603.9 L1206.0,609.0 L1207.0,614.2 L1208.0,619.2 L1209.0,624.0 L1210.0,628.8 L1211.0,633.3 L1212.0,637.7 L1213.0,641.8 L1214.0,645.7 L1215.0,649.3 L1216.0,652.7 L1217.0,655.9 L1218.0,658.8 L1219.0,661.5 L1220.0,663.9 L1221.0,666.2 L1222.0,668.2 L1223.0,670.0 L1224.0,671.6 L1225.0,673.0 L1226.0,674.3 L1227.0,675.4 L1228.0,676.4 L1229.0,677.2 L1230.0,678.0 L1231.0,678.6 L1232.0,679.2 L1233.0,679.6 L1234.0,680.0 L1235.0,680.4 L1236.0,680.7 L1237.0,680.9 L1238.0,681.1 L1239.0,681.3 L1240.0,681.4 L1241.0,681.5 L1242.0,681.6 L1243.0,681.7 L1244.0,681.8 L1245.0,681.8 L1246.0,681.8 L1247.0,681.9 L1248.0,681.9 L1249.0,681.9 L1250.0,681.9 L1251.0,682.0 L1252.0,682.0 L1253.0,682.0 L1254.0,682.0 L1255.0,682.0 L1256.0,682.0 L1257.0,682.0 L1258.0,682.0 L1259.0,682.0 L1260.0,682.0 L1261.0,682.0 L1262.0,682.0 L1263.0,682.0 L1264.0,682.0 L1265.0,682.0 L1266.0,682.0 L1267.0,682.0 L1268.0,682.0 L1269.0,682.0 L1270.0,682.0 L1271.0,682.0 L1272.0,682.0 L1273.0,682.0" fill="none" stroke="#ea2424" stroke-width="2.4" stroke-linejoin="round" stroke-linecap="round" /><path d="M1141.0,669.7 L1142.0,669.7 L1143.0,669.6 L1144.0,669.5 L1145.0,669.5 L1146.0,669.4 L1147.0,669.3 L1148.0,669.2 L1149.0,669.2 L1150.0,669.1 L1151.0,669.0 L1152.0,668.9 L1153.0,668.8 L1154.0,668.7 L1155.0,668.6 L1156.0,668.4 L1157.0,668.3 L1158.0,668.2 L1159.0,668.0 L1160.0,667.9 L1161.0,667.7 L1162.0,667.5 L1163.0,667.4 L1164.0,667.1 L1165.0,666.9 L1166.0,666.7 L1167.0,666.4 L1168.0,666.1 L1169.0,665.7 L1170.0,665.3 L1171.0,664.9 L1172.0,664.4 L1173.0,663.8 L1174.0,663.1 L1175.0,662.4 L1176.0,661.5 L1177.0,660.5 L1178.0,659.4 L1179.0,658.0 L1180.0,656.5 L1181.0,654.8 L1182.0,652.9 L1183.0,650.7 L1184.0,648.3 L1185.0,645.5 L1186.0,642.4 L1187.0,639.0 L1188.0,635.3 L1189.0,631.1 L1190.0,626.6 L1191.0,621.7 L1192.0,616.5 L1193.0,610.8 L1194.0,604.9 L1195.0,598.6 L1196.0,592.0 L1197.0,585.1 L1198.0,578.1 L1199.0,570.9 L1200.0,563.7 L1201.0,556.5 L1202.0,549.4 L1203.0,542.5 L1204.0,536.0 L1205.0,529.9 L1206.0,524.3 L1207.0,519.5 L1208.0,515.4 L1209.0,512.3 L1210.0,510.2 L1211.0,509.2 L1212.0,509.2 L1213.0,510.2 L1214.0,511.9 L1215.0,514.4 L1216.0,517.6 L1217.0,521.5 L1218.0,526.0 L1219.0,531.1 L1220.0,536.7 L1221.0,542.7 L1222.0,549.2 L1223.0,555.9 L1224.0,562.8 L1225.0,569.9 L1226.0,577.1 L1227.0,584.2 L1228.0,591.4 L1229.0,598.4 L1230.0,605.2 L1231.0,611.8 L1232.0,618.1 L1233.0,624.2 L1234.0,629.9 L1235.0,635.3 L1236.0,640.4 L1237.0,645.1 L1238.0,649.4 L1239.0,653.4 L1240.0,657.0 L1241.0,660.3 L1242.0,663.3 L1243.0,665.9 L1244.0,668.3 L1245.0,670.4 L1246.0,672.3 L1247.0,673.9 L1248.0,675.3 L1249.0,676.5 L1250.0,677.6 L1251.0,678.5 L1252.0,679.2 L1253.0,679.9 L1254.0,680.5 L1255.0,680.9 L1256.0,681.3 L1257.0,681.6 L1258.0,681.9 L1259.0,682.1 L1260.0,682.3 L1261.0,682.4 L1262.0,682.6 L1263.0,682.6 L1264.0,682.7 L1265.0,682.8 L1266.0,682.8 L1267.0,682.9 L1268.0,682.9 L1269.0,682.9 L1270.0,682.9 L1271.0,683.0 L1272.0,683.0 L1273.0,683.0" fill="none" stroke="#ea2424" stroke-width="2.4" stroke-linejoin="round" stroke-linecap="round" /><path d="M993.5,668.5 L994.5,668.1 L995.5,667.6 L996.5,667.1 L997.5,666.6 L998.5,666.1 L999.5,665.6 L1000.5,665.1 L1001.5,664.5 L1002.5,663.9 L1003.5,663.3 L1004.5,662.7 L1005.5,662.1 L1006.5,661.4 L1007.5,660.7 L1008.5,660.1 L1009.5,659.3 L1010.5,658.6 L1011.5,657.9 L1012.5,657.1 L1013.5,656.3 L1014.5,655.5 L1015.5,654.7 L1016.5,653.9 L1017.5,653.1 L1018.5,652.2 L1019.5,651.4 L1020.5,650.5 L1021.5,649.6 L1022.4,648.7 L1023.4,647.8 L1024.4,646.9 L1025.4,645.9 L1026.4,645.0 L1027.4,644.0 L1028.4,643.1 L1029.4,642.2 L1030.4,641.2 L1031.4,640.2 L1032.4,639.3 L1033.4,638.3 L1034.4,637.4 L1035.4,636.4 L1036.4,635.5 L1037.4,634.6 L1038.4,633.6 L1039.4,632.7 L1040.4,631.8 L1041.4,630.9 L1042.4,630.0 L1043.4,629.2 L1044.4,628.3 L1045.4,627.5 L1046.4,626.7 L1047.4,625.9 L1048.4,625.1 L1049.4,624.4 L1050.4,623.7 L1051.4,623.0 L1052.4,622.3 L1053.4,621.7 L1054.4,621.1 L1055.4,620.5 L1056.4,620.0 L1057.4,619.5 L1058.4,619.0 L1059.4,618.6 L1060.4,618.2 L1061.4,617.8 L1062.4,617.5 L1063.4,617.2 L1064.4,617.0 L1065.4,616.8 L1066.4,616.6 L1067.4,616.5 L1068.4,616.4 L1069.4,616.4 L1070.4,616.4 L1071.4,616.4 L1072.4,616.5 L1073.4,616.7 L1074.4,616.8 L1075.4,617.0 L1076.4,617.3 L1077.3,617.6 L1078.3,617.9 L1079.3,618.3 L1080.3,618.7 L1081.3,619.1 L1082.3,619.6 L1083.3,620.1 L1084.3,620.6 L1085.3,621.2 L1086.3,621.8 L1087.3,622.4 L1088.3,623.1 L1089.3,623.8 L1090.3,624.5 L1091.3,625.3 L1092.3,626.0 L1093.3,626.8 L1094.3,627.7 L1095.3,628.5 L1096.3,629.4 L1097.3,630.2 L1098.3,631.1 L1099.3,632.0 L1100.3,632.9 L1101.3,633.9 L1102.3,634.8 L1103.3,635.8 L1104.3,636.7 L1105.3,637.7 L1106.3,638.6 L1107.3,639.6 L1108.3,640.6 L1109.3,641.6 L1110.3,642.5 L1111.3,643.5 L1112.3,644.5 L1113.3,645.4 L1114.3,646.4 L1115.3,647.3 L1116.3,648.3 L1117.3,649.2 L1118.3,650.1 L1119.3,651.0 L1120.3,651.9 L1121.3,652.8 L1122.3,653.7 L1123.3,654.6 L1124.3,655.5 L1125.3,656.3 L1126.3,657.2 L1127.3,658.0 L1128.3,658.8 L1129.3,659.6 L1130.3,660.4 L1131.3,661.1 L1132.3,661.8 L1133.2,662.6 L1134.2,663.3 L1135.2,663.9 L1136.2,664.6 L1137.2,665.3 L1138.2,665.9 L1139.2,666.5 L1140.2,667.1 L1141.2,667.7 L1142.2,668.2 L1143.2,668.7 L1144.2,669.3 L1145.2,669.8 L1146.2,670.3 L1147.2,670.7 L1148.2,671.2 L1149.2,671.6 L1150.2,672.0 L1151.2,672.4 L1152.2,672.8 L1153.2,673.2 L1154.2,673.5 L1155.2,673.9 L1156.2,674.2 L1157.2,674.5 L1158.2,674.8 L1159.2,675.1 L1160.2,675.4 L1161.2,675.7 L1162.2,675.9 L1163.2,676.2 L1164.2,676.4 L1165.2,676.6 L1166.2,676.8 L1167.2,677.0 L1168.2,677.2 L1169.2,677.4 L1170.2,677.6 L1171.2,677.8 L1172.2,677.9 L1173.2,678.1 L1174.2,678.2 L1175.2,678.4 L1176.2,678.5 L1177.2,678.6 L1178.2,678.8 L1179.2,678.9 L1180.2,679.0 L1181.2,679.1 L1182.2,679.3 L1183.2,679.4 L1184.2,679.5 L1185.2,679.6 L1186.2,679.7 L1187.2,679.8 L1188.2,679.9 L1189.2,680.0 L1190.1,680.1 L1191.1,680.2 L1192.1,680.3 L1193.1,680.4 L1194.1,680.5 L1195.1,680.6 L1196.1,680.7 L1197.1,680.8 L1198.1,680.8 L1199.1,680.9 L1200.1,681.0 L1201.1,681.1 L1202.1,681.2 L1203.1,681.2 L1204.1,681.3 L1205.1,681.4 L1206.1,681.4 L1207.1,681.5 L1208.1,681.6 L1209.1,681.7 L1210.1,681.7 L1211.1,681.8 L1212.1,681.9 L1213.1,681.9 L1214.1,682.0 L1215.1,682.1 L1216.1,682.1 L1217.1,682.2 L1218.1,682.2 L1219.1,682.3 L1220.1,682.4 L1221.1,682.4 L1222.1,682.5 L1223.1,682.6 L1224.1,682.6 L1225.1,682.7 L1226.1,682.7 L1227.1,682.8 L1228.1,682.9 L1229.1,682.9 L1230.1,683.0 L1231.1,683.0 L1232.1,683.0 L1233.1,683.0 L1234.1,683.0 L1235.1,683.0 L1236.1,683.0 L1237.1,683.0 L1238.1,683.0 L1239.1,683.0 L1240.1,683.0 L1241.1,683.0 L1242.1,683.0 L1243.1,683.0 L1244.1,683.0 L1245.0,683.0 L1246.0,683.0 L1247.0,683.0 L1248.0,683.0 L1249.0,683.0 L1250.0,683.0 L1251.0,683.0 L1252.0,683.0 L1253.0,683.0 L1254.0,683.0 L1255.0,683.0 L1256.0,683.0 L1257.0,683.0 L1258.0,683.0 L1259.0,683.0 L1260.0,683.0 L1261.0,683.0 L1262.0,683.0 L1263.0,683.0 L1264.0,683.0 L1265.0,683.0 L1266.0,683.0 L1267.0,683.0 L1268.0,683.0 L1269.0,683.0 L1270.0,683.0 L1271.0,683.0 L1272.0,683.0 L1273.0,683.0" fill="none" stroke="#1e1ed2" stroke-width="2.4" stroke-linejoin="round" stroke-linecap="round" /><path d="M1080.6,694.0 L1076.2,617.0" stroke="#1a1a1a" stroke-width="2.2" stroke-dasharray="2.3,2.3" fill="none"/><path d="M1055.9,610.2 L1048.0,563.9" stroke="#444" stroke-width="2.0" fill="none"/><path d="M1046.3,554.0 L1054.2,564.8 L1042.4,566.8 Z" fill="#000" stroke="#000" stroke-width="0.8" stroke-linejoin="round"/><text x="1015.5" y="542.4" font-size="29.2" fill="#000">As<tspan font-size="19.3" dy="5.5">2</tspan><tspan dy="-5.5">O</tspan><tspan font-size="19.3" dy="5.5">5</tspan></text>
<path d="M319.4,1001.6 L319.4,998.1" stroke="#555" stroke-width="1.4"/><path d="M364.6,1001.6 L364.6,998.1" stroke="#555" stroke-width="1.4"/><path d="M410.0,1001.6 L410.0,998.1" stroke="#555" stroke-width="1.4"/><path d="M455.6,1001.6 L455.6,998.1" stroke="#555" stroke-width="1.4"/><path d="M500.8,1001.6 L500.8,998.1" stroke="#555" stroke-width="1.4"/><path d="M547.0,1001.6 L547.0,998.1" stroke="#555" stroke-width="1.4"/><path d="M308.5,949.5 L309.5,949.5 L310.5,949.0 L311.5,947.8 L312.5,946.9 L313.5,946.9 L314.5,947.2 L315.5,947.5 L316.5,947.6 L317.5,946.7 L318.5,945.2 L319.4,943.9 L320.4,942.8 L321.4,942.0 L322.4,941.4 L323.4,940.5 L324.4,938.8 L325.4,936.8 L326.4,934.9 L327.4,933.1 L328.4,932.0 L329.4,931.5 L330.4,929.8 L331.4,926.7 L332.4,924.1 L333.4,923.2 L334.4,922.1 L335.4,919.9 L336.4,917.3 L337.4,914.4 L338.4,911.4 L339.4,908.9 L340.4,907.0 L341.3,905.0 L342.3,902.7 L343.3,900.7 L344.3,899.2 L345.3,897.7 L346.3,896.2 L347.3,894.3 L348.3,891.1 L349.3,887.1 L350.3,882.8 L351.3,878.5 L352.3,873.9 L353.3,868.8 L354.3,864.0 L355.3,860.3 L356.3,856.7 L357.3,852.6 L358.3,848.3 L359.3,843.9 L360.3,839.4 L361.3,835.0 L362.2,830.6 L363.2,826.6 L364.2,823.5 L365.2,821.0 L366.2,819.0 L367.2,817.7 L368.2,817.1 L369.2,817.4 L370.2,818.4 L371.2,819.8 L372.2,822.1 L373.2,826.0 L374.2,829.5 L375.2,831.7 L376.2,835.1 L377.2,841.3 L378.2,849.0 L379.2,857.2 L380.2,865.3 L381.2,873.2 L382.2,881.5 L383.2,889.4 L384.1,896.8 L385.1,903.7 L386.1,910.2 L387.1,916.5 L388.1,923.4 L389.1,930.1 L390.1,935.9 L391.1,940.7 L392.1,944.9 L393.1,948.8 L394.1,952.1 L395.1,954.8 L396.1,956.6 L397.1,958.0 L398.1,958.8 L399.1,958.8 L400.1,958.6 L401.1,959.3 L402.1,960.7 L403.1,961.6 L404.1,962.1 L405.1,962.5 L406.0,962.8 L407.0,963.1 L408.0,963.7 L409.0,964.2 L410.0,964.2 L411.0,964.0 L412.0,963.5 L413.0,962.9 L414.0,962.6 L415.0,962.7 L416.0,963.0" fill="none" stroke="#151515" stroke-width="2.2" stroke-linejoin="round" stroke-linecap="round" /><path d="M479.2,968.0 L480.2,967.0 L481.2,965.1 L482.2,963.9 L483.2,963.7 L484.2,963.2 L485.2,962.0 L486.2,960.8 L487.2,960.3 L488.2,959.9 L489.2,958.4 L490.2,956.4 L491.2,955.4 L492.2,955.0 L493.2,954.1 L494.2,952.8 L495.2,951.2 L496.2,949.1 L497.2,947.4 L498.2,946.9 L499.2,946.6 L500.2,945.3 L501.2,943.3 L502.2,940.3 L503.2,936.3 L504.2,933.2 L505.2,931.4 L506.2,929.3 L507.1,926.2 L508.1,922.9 L509.1,919.7 L510.1,916.4 L511.1,913.5 L512.1,910.7 L513.1,907.7 L514.1,904.5 L515.1,900.9 L516.1,896.5 L517.1,892.1 L518.1,888.0 L519.1,883.7 L520.1,879.0 L521.1,873.7 L522.1,867.8 L523.1,861.4 L524.1,854.1 L525.1,846.1 L526.1,838.2 L527.1,830.2 L528.1,821.3 L529.1,812.0 L530.1,803.1 L531.1,795.8 L532.1,789.9 L533.1,784.5 L534.1,779.3 L535.1,775.0 L536.1,771.6 L537.1,768.0 L538.1,764.2 L539.1,761.9 L540.1,762.6 L541.1,765.0 L542.1,767.6 L543.1,770.4 L544.1,774.1 L545.1,779.1 L546.1,785.1 L547.1,792.3 L548.1,800.9 L549.1,810.3 L550.1,820.6 L551.1,831.5 L552.1,842.3 L553.1,852.3 L554.1,862.6 L555.1,873.3 L556.1,883.9 L557.1,894.4 L558.1,904.6 L559.1,913.0 L560.1,920.4 L561.1,927.2 L562.1,933.7 L563.0,939.3 L564.0,943.0 L565.0,945.5 L566.0,948.3 L567.0,951.5 L568.0,954.1 L569.0,956.0 L570.0,958.0 L571.0,960.4 L572.0,962.4 L573.0,963.4 L574.0,964.0 L575.0,965.1 L576.0,966.2 L577.0,966.9 L578.0,967.2 L579.0,967.7 L580.0,968.4 L581.0,968.9 L582.0,969.0 L583.0,969.0 L584.0,969.3 L585.0,969.5 L586.0,969.0 L587.0,968.4 L588.0,969.3 L589.0,971.3 L590.0,972.1 L591.0,971.4" fill="none" stroke="#151515" stroke-width="2.2" stroke-linejoin="round" stroke-linecap="round" /><path d="M416.0,962.7 L416.5,962.4 L417.0,961.9 L417.5,961.3 L418.0,960.7 L418.5,960.2 L419.0,960.0 L419.5,960.0 L420.0,960.3 L420.5,960.8 L421.0,961.4 L421.5,962.1 L422.0,962.9 L422.5,963.6 L423.0,964.3 L423.5,964.8 L424.0,965.2 L424.5,965.6 L425.0,965.9 L425.5,966.2 L426.0,966.3 L426.5,966.3 L427.0,966.2 L427.5,966.1 L428.0,965.8 L428.5,965.5 L429.0,965.2 L429.5,964.8 L430.0,964.4 L430.5,964.1 L431.0,963.9 L431.5,963.6 L432.0,963.5 L432.5,963.5 L433.0,963.4 L433.5,963.3 L434.0,962.9 L434.5,962.4 L435.0,961.8 L435.5,961.2 L436.0,960.6 L436.5,960.2 L437.0,960.0 L437.5,960.0 L438.0,960.1 L438.5,960.3 L439.0,960.6 L439.5,960.9 L440.0,961.2 L440.5,961.5 L441.0,961.8 L441.5,962.0 L442.0,962.3 L442.5,962.5 L443.0,962.8 L443.5,963.1 L444.0,963.3 L444.5,963.5 L445.0,963.7 L445.5,963.7 L446.0,963.7 L446.5,963.3 L447.0,962.8 L447.5,962.4 L448.0,962.0 L448.5,961.8 L449.0,962.0 L449.5,962.4 L450.0,963.0 L450.5,963.6 L451.0,964.3 L451.5,965.1 L452.0,965.7 L452.5,966.2 L453.0,966.8 L453.5,967.4 L454.0,968.0 L454.5,968.4 L455.0,968.7 L455.5,968.8 L456.0,968.6 L456.5,968.1 L457.0,967.4 L457.5,966.6 L458.0,965.9 L458.5,965.2 L459.0,964.8 L459.5,964.6 L460.0,964.3 L460.5,964.0 L461.0,963.8 L461.5,963.6 L462.0,963.5 L462.5,963.4 L463.0,963.4 L463.5,963.5 L464.0,963.8 L464.5,964.2 L465.0,964.6 L465.5,965.1 L466.0,965.4 L466.5,965.7 L467.0,965.8 L467.5,966.0 L468.0,966.1 L468.5,966.3 L469.0,966.4 L469.5,966.5 L470.0,966.6 L470.5,966.7 L471.0,966.8 L471.5,967.0 L472.0,967.1 L472.5,967.2 L473.0,967.3 L473.5,967.5 L474.0,967.6 L474.5,967.7 L475.0,967.9 L475.5,968.0 L476.0,968.0 L476.5,968.1 L477.0,968.1 L477.5,968.1 L478.0,967.9 L478.5,967.4 L479.0,966.8 L479.5,966.3 L480.0,966.0" fill="none" stroke="#151515" stroke-width="2.2" stroke-linejoin="round" stroke-linecap="round" /><path d="M308.5,949.5 L309.5,949.3 L310.5,949.0 L311.5,948.6 L312.5,948.3 L313.5,947.8 L314.5,947.3 L315.5,946.7 L316.5,946.1 L317.5,945.4 L318.5,944.6 L319.4,943.8 L320.4,942.9 L321.4,941.8 L322.4,940.7 L323.4,939.5 L324.4,938.3 L325.4,936.9 L326.4,935.4 L327.4,933.9 L328.4,932.3 L329.4,930.6 L330.4,928.9 L331.4,927.1 L332.4,925.2 L333.4,923.1 L334.4,920.8 L335.4,918.4 L336.4,915.9 L337.4,913.4 L338.4,911.0 L339.4,908.8 L340.4,906.8 L341.3,905.2 L342.3,903.7 L343.3,902.2 L344.3,900.7 L345.3,898.8 L346.3,896.5 L347.3,893.5 L348.3,890.0 L349.3,886.2 L350.3,882.1 L351.3,877.9 L352.3,873.6 L353.3,869.5 L354.3,865.2 L355.3,860.7 L356.3,856.1 L357.3,851.4 L358.3,846.7 L359.3,842.2 L360.3,838.0 L361.3,833.9 L362.2,829.7 L363.2,826.1 L364.2,823.4 L365.2,821.2 L366.2,819.2 L367.2,817.9 L368.2,817.7 L369.2,818.4 L370.2,819.8 L371.2,821.5 L372.2,823.2 L373.2,825.3 L374.2,827.9 L375.2,831.0 L376.2,835.5 L377.2,841.8 L378.2,849.4 L379.2,857.5 L380.2,865.5 L381.2,872.9 L382.2,880.3 L383.2,887.7 L384.1,895.1 L385.1,902.4 L386.1,909.3 L387.1,915.9 L388.1,922.6 L389.1,929.1 L390.1,935.2 L391.1,940.5 L392.1,944.8 L393.1,948.5 L394.1,951.6 L395.1,953.9 L396.1,955.6 L397.1,957.0 L398.1,958.2 L399.1,959.2 L400.1,960.0 L401.1,960.6 L402.1,961.1 L403.1,961.6 L404.1,961.9 L405.1,962.2 L406.0,962.4 L407.0,962.5 L408.0,962.6 L409.0,962.7 L410.0,962.8 L411.0,962.9 L412.0,962.9 L413.0,962.9 L414.0,962.9 L415.0,963.0 L416.0,963.0" fill="none" stroke="#34b834" stroke-width="2.3" stroke-linejoin="round" stroke-linecap="round" stroke-opacity="0.8"/><path d="M479.2,967.0 L480.2,966.2 L481.2,965.5 L482.2,964.8 L483.2,964.0 L484.2,963.3 L485.2,962.5 L486.2,961.6 L487.2,960.7 L488.2,959.7 L489.2,958.7 L490.2,957.7 L491.2,956.6 L492.2,955.5 L493.2,954.4 L494.2,953.1 L495.2,951.8 L496.2,950.5 L497.2,949.0 L498.2,947.4 L499.2,945.8 L500.2,943.9 L501.2,941.7 L502.2,939.4 L503.2,937.0 L504.2,934.4 L505.2,931.6 L506.2,928.8 L507.1,925.8 L508.1,922.8 L509.1,919.8 L510.1,916.7 L511.1,913.6 L512.1,910.5 L513.1,907.3 L514.1,903.9 L515.1,900.5 L516.1,896.8 L517.1,892.9 L518.1,888.7 L519.1,884.2 L520.1,879.4 L521.1,873.8 L522.1,867.2 L523.1,860.0 L524.1,852.3 L525.1,844.5 L526.1,836.8 L527.1,828.9 L528.1,820.4 L529.1,811.7 L530.1,803.2 L531.1,795.4 L532.1,788.7 L533.1,782.9 L534.1,777.7 L535.1,773.4 L536.1,770.1 L537.1,766.9 L538.1,764.3 L539.1,763.0 L540.1,763.4 L541.1,765.3 L542.1,768.1 L543.1,771.3 L544.1,774.9 L545.1,779.5 L546.1,784.9 L547.1,791.4 L548.1,799.8 L549.1,809.7 L550.1,820.6 L551.1,831.9 L552.1,842.8 L553.1,853.1 L554.1,863.7 L555.1,874.6 L556.1,885.3 L557.1,895.3 L558.1,904.2 L559.1,911.7 L560.1,918.9 L561.1,925.7 L562.1,932.1 L563.0,937.8 L564.0,942.8 L565.0,946.9 L566.0,950.0 L567.0,952.6 L568.0,955.0 L569.0,957.2 L570.0,959.2 L571.0,961.0 L572.0,962.6 L573.0,963.9 L574.0,965.0 L575.0,965.8 L576.0,966.4 L577.0,966.9 L578.0,967.3 L579.0,967.7 L580.0,968.1 L581.0,968.4 L582.0,968.7 L583.0,969.0 L584.0,969.2 L585.0,969.5 L586.0,969.7 L587.0,969.9 L588.0,970.2 L589.0,970.4 L590.0,970.7 L591.0,971.0" fill="none" stroke="#34b834" stroke-width="2.3" stroke-linejoin="round" stroke-linecap="round" stroke-opacity="0.8"/><path d="M308.5,948.0 L309.5,948.0 L310.5,948.0 L311.5,948.0 L312.5,948.0 L313.5,948.0 L314.5,948.0 L315.5,948.0 L316.5,948.0 L317.5,948.0 L318.5,948.0 L319.4,948.0 L320.4,948.0 L321.4,948.0 L322.4,948.0 L323.4,948.0 L324.4,948.0 L325.4,948.0 L326.4,948.0 L327.4,948.0 L328.4,948.0 L329.4,948.0 L330.4,947.9 L331.4,947.9 L332.4,947.9 L333.4,947.8 L334.4,947.7 L335.4,947.6 L336.4,947.5 L337.4,947.3 L338.4,947.1 L339.4,946.7 L340.4,946.3 L341.3,945.7 L342.3,945.0 L343.3,944.1 L344.3,943.0 L345.3,941.6 L346.3,939.9 L347.3,937.9 L348.3,935.4 L349.3,932.6 L350.3,929.3 L351.3,925.5 L352.3,921.2 L353.3,916.4 L354.3,911.1 L355.3,905.3 L356.3,899.2 L357.3,892.7 L358.3,886.0 L359.3,879.1 L360.3,872.3 L361.3,865.6 L362.2,859.3 L363.2,853.4 L364.2,848.2 L365.2,843.7 L366.2,840.2 L367.2,837.7 L368.2,836.3 L369.2,836.0 L370.2,836.9 L371.2,838.6 L372.2,841.3 L373.2,844.8 L374.2,849.0 L375.2,853.9 L376.2,859.4 L377.2,865.3 L378.2,871.6 L379.2,878.2 L380.2,884.8 L381.2,891.5 L382.2,898.1 L383.2,904.6 L384.1,910.8 L385.1,916.7 L386.1,922.3 L387.1,927.4 L388.1,932.2 L389.1,936.5 L390.1,940.4 L391.1,943.9 L392.1,946.9 L393.1,949.6 L394.1,951.9 L395.1,953.9 L396.1,955.6 L397.1,957.0 L398.1,958.2 L399.1,959.2 L400.1,960.0 L401.1,960.6 L402.1,961.2 L403.1,961.6 L404.1,961.9 L405.1,962.2 L406.0,962.4 L407.0,962.5 L408.0,962.7 L409.0,962.7 L410.0,962.8 L411.0,962.9 L412.0,962.9 L413.0,962.9 L414.0,963.0 L415.0,963.0 L416.0,963.0" fill="none" stroke="#ea2424" stroke-width="2.4" stroke-linejoin="round" stroke-linecap="round" /><path d="M479.2,967.0 L480.2,967.0 L481.2,967.0 L482.2,967.0 L483.2,967.0 L484.2,967.0 L485.2,967.0 L486.2,967.0 L487.2,967.0 L488.2,967.0 L489.2,967.0 L490.2,967.0 L491.2,967.0 L492.2,967.0 L493.2,967.0 L494.2,967.0 L495.2,967.0 L496.2,966.9 L497.2,966.9 L498.2,966.9 L499.2,966.8 L500.2,966.8 L501.2,966.7 L502.2,966.6 L503.2,966.4 L504.2,966.2 L505.2,966.0 L506.2,965.6 L507.1,965.2 L508.1,964.7 L509.1,964.1 L510.1,963.2 L511.1,962.2 L512.1,961.0 L513.1,959.6 L514.1,957.8 L515.1,955.7 L516.1,953.3 L517.1,950.4 L518.1,947.1 L519.1,943.3 L520.1,938.9 L521.1,934.1 L522.1,928.7 L523.1,922.7 L524.1,916.2 L525.1,909.2 L526.1,901.7 L527.1,893.7 L528.1,885.5 L529.1,877.0 L530.1,868.3 L531.1,859.6 L532.1,851.1 L533.1,842.8 L534.1,834.9 L535.1,827.6 L536.1,821.0 L537.1,815.2 L538.1,810.4 L539.1,806.7 L540.1,804.1 L541.1,802.7 L542.1,802.6 L543.1,803.7 L544.1,806.0 L545.1,809.5 L546.1,814.0 L547.1,819.6 L548.1,826.0 L549.1,833.2 L550.1,840.9 L551.1,849.2 L552.1,857.7 L553.1,866.5 L554.1,875.2 L555.1,883.9 L556.1,892.4 L557.1,900.5 L558.1,908.3 L559.1,915.7 L560.1,922.5 L561.1,928.8 L562.1,934.6 L563.0,939.8 L564.0,944.4 L565.0,948.6 L566.0,952.2 L567.0,955.3 L568.0,958.1 L569.0,960.4 L570.0,962.4 L571.0,964.0 L572.0,965.4 L573.0,966.5 L574.0,967.5 L575.0,968.2 L576.0,968.9 L577.0,969.3 L578.0,969.7 L579.0,970.0 L580.0,970.3 L581.0,970.4 L582.0,970.6 L583.0,970.7 L584.0,970.8 L585.0,970.8 L586.0,970.9 L587.0,970.9 L588.0,970.9 L589.0,971.0 L590.0,971.0 L591.0,971.0" fill="none" stroke="#ea2424" stroke-width="2.4" stroke-linejoin="round" stroke-linecap="round" /><path d="M308.5,949.5 L309.5,949.3 L310.5,949.0 L311.5,948.6 L312.5,948.2 L313.5,947.8 L314.5,947.3 L315.5,946.7 L316.5,946.1 L317.5,945.4 L318.5,944.6 L319.4,943.8 L320.4,942.9 L321.4,941.8 L322.4,940.7 L323.4,939.5 L324.4,938.2 L325.4,936.9 L326.4,935.4 L327.4,933.9 L328.4,932.3 L329.4,930.6 L330.4,928.9 L331.4,927.1 L332.4,925.2 L333.4,923.3 L334.4,921.5 L335.4,919.6 L336.4,917.7 L337.4,915.9 L338.4,914.1 L339.4,912.3 L340.4,910.7 L341.3,909.1 L342.3,907.7 L343.3,906.4 L344.3,905.3 L345.3,904.3 L346.3,903.6 L347.3,903.0 L348.3,902.6 L349.3,902.4 L350.3,902.4 L351.3,902.6 L352.3,903.1 L353.3,903.9 L354.3,904.9 L355.3,906.2 L356.3,907.8 L357.3,909.5 L358.3,911.5 L359.3,913.6 L360.3,915.9 L361.3,918.3 L362.2,920.8 L363.2,923.3 L364.2,925.9 L365.2,928.5 L366.2,931.1 L367.2,933.6 L368.2,936.1 L369.2,938.5 L370.2,940.7 L371.2,942.9 L372.2,945.0 L373.2,946.9 L374.2,948.7 L375.2,950.4 L376.2,951.9 L377.2,953.3 L378.2,954.5 L379.2,955.7 L380.2,956.7 L381.2,957.6 L382.2,958.4 L383.2,959.1 L384.1,959.7 L385.1,960.2 L386.1,960.7 L387.1,961.1 L388.1,961.4 L389.1,961.7 L390.1,961.9 L391.1,962.1 L392.1,962.3 L393.1,962.4 L394.1,962.5 L395.1,962.6 L396.1,962.7 L397.1,962.8 L398.1,962.8 L399.1,962.9 L400.1,962.9 L401.1,962.9 L402.1,962.9 L403.1,963.0 L404.1,963.0 L405.1,963.0 L406.0,963.0 L407.0,963.0 L408.0,963.0 L409.0,963.0 L410.0,963.0 L411.0,963.0 L412.0,963.0 L413.0,963.0 L414.0,963.0 L415.0,963.0 L416.0,963.0" fill="none" stroke="#1e1ed2" stroke-width="2.4" stroke-linejoin="round" stroke-linecap="round" /><path d="M479.2,967.2 L480.2,967.1 L481.2,966.9 L482.2,966.6 L483.2,966.4 L484.2,966.0 L485.2,965.7 L486.2,965.2 L487.2,964.7 L488.2,964.1 L489.2,963.5 L490.2,962.7 L491.2,961.9 L492.2,960.9 L493.2,959.8 L494.2,958.6 L495.2,957.3 L496.2,955.9 L497.2,954.3 L498.2,952.6 L499.2,950.7 L500.2,948.7 L501.2,946.5 L502.2,944.2 L503.2,941.8 L504.2,939.3 L505.2,936.7 L506.2,934.0 L507.1,931.2 L508.1,928.4 L509.1,925.5 L510.1,922.7 L511.1,919.8 L512.1,917.0 L513.1,914.3 L514.1,911.7 L515.1,909.3 L516.1,907.0 L517.1,904.9 L518.1,903.0 L519.1,901.4 L520.1,900.0 L521.1,898.9 L522.1,898.2 L523.1,897.7 L524.1,897.6 L525.1,897.8 L526.1,898.3 L527.1,899.1 L528.1,900.2 L529.1,901.6 L530.1,903.3 L531.1,905.3 L532.1,907.5 L533.1,909.9 L534.1,912.5 L535.1,915.2 L536.1,918.0 L537.1,921.0 L538.1,924.0 L539.1,927.0 L540.1,930.1 L541.1,933.1 L542.1,936.1 L543.1,939.0 L544.1,941.8 L545.1,944.5 L546.1,947.1 L547.1,949.6 L548.1,951.9 L549.1,954.1 L550.1,956.2 L551.1,958.1 L552.1,959.8 L553.1,961.4 L554.1,962.9 L555.1,964.2 L556.1,965.4 L557.1,966.5 L558.1,967.4 L559.1,968.3 L560.1,969.0 L561.1,969.7 L562.1,970.3 L563.0,970.8 L564.0,971.2 L565.0,971.6 L566.0,971.9 L567.0,972.2 L568.0,972.4 L569.0,972.6 L570.0,972.8 L571.0,972.9 L572.0,973.0 L573.0,973.1 L574.0,973.2 L575.0,973.2 L576.0,973.3 L577.0,973.3 L578.0,973.4 L579.0,973.4 L580.0,973.4 L581.0,973.4 L582.0,973.5 L583.0,973.5 L584.0,973.5 L585.0,973.5 L586.0,973.5 L587.0,973.5 L588.0,973.5 L589.0,973.5 L590.0,973.5 L591.0,973.5" fill="none" stroke="#1e1ed2" stroke-width="2.4" stroke-linejoin="round" stroke-linecap="round" /><path d="M354.0,1001.0 L354.0,902.6" stroke="#1a1a1a" stroke-width="2.2" stroke-dasharray="2.3,2.3" fill="none"/><path d="M523.7,1001.0 L523.9,897.6" stroke="#1a1a1a" stroke-width="2.2" stroke-dasharray="2.3,2.3" fill="none"/><path d="M370.7,927.6 L415.1,886.3" stroke="#444" stroke-width="2.0" fill="none"/><path d="M422.4,879.5 L417.7,892.1 L409.5,883.3 Z" fill="#000" stroke="#000" stroke-width="0.8" stroke-linejoin="round"/><path d="M502.1,912.0 L475.9,888.6" stroke="#444" stroke-width="2.0" fill="none"/><path d="M468.4,881.9 L481.3,885.4 L473.4,894.4 Z" fill="#000" stroke="#000" stroke-width="0.8" stroke-linejoin="round"/><text x="417.9" y="864.7" font-size="29.2" fill="#000">In<tspan font-size="19.3" dy="5.5">2</tspan><tspan dy="-5.5">O</tspan><tspan font-size="19.3" dy="5.5">3</tspan></text>
<path d="M695.5,1001.4 L695.5,997.9" stroke="#555" stroke-width="1.4"/><path d="M739.5,1001.4 L739.5,997.9" stroke="#555" stroke-width="1.4"/><path d="M783.2,1001.4 L783.2,997.9" stroke="#555" stroke-width="1.4"/><path d="M827.5,1001.4 L827.5,997.9" stroke="#555" stroke-width="1.4"/><path d="M871.8,1001.4 L871.8,997.9" stroke="#555" stroke-width="1.4"/><path d="M915.8,1001.4 L915.8,997.9" stroke="#555" stroke-width="1.4"/><path d="M663.6,962.0 L664.6,962.1 L665.6,962.1 L666.6,961.6 L667.6,960.5 L668.6,959.7 L669.6,959.9 L670.6,960.9 L671.6,961.8 L672.6,961.2 L673.6,959.4 L674.6,957.7 L675.6,957.3 L676.6,957.9 L677.6,958.5 L678.6,958.4 L679.6,957.7 L680.6,957.1 L681.6,957.2 L682.6,957.9 L683.6,958.4 L684.6,957.8 L685.6,956.4 L686.6,955.1 L687.6,954.6 L688.6,954.6 L689.6,954.7 L690.6,954.6 L691.6,954.3 L692.6,954.0 L693.6,953.6 L694.6,953.2 L695.6,952.8 L696.7,952.1 L697.7,951.3 L698.7,950.7 L699.7,950.6 L700.7,950.9 L701.7,951.2 L702.7,950.7 L703.7,949.5 L704.7,948.5 L705.7,948.3 L706.7,948.7 L707.7,948.9 L708.7,948.2 L709.7,946.7 L710.7,945.2 L711.7,944.5 L712.7,944.2 L713.7,944.0 L714.7,943.5 L715.7,942.8 L716.7,942.2 L717.7,941.9 L718.7,941.9 L719.7,941.5 L720.7,940.1 L721.7,937.8 L722.7,935.5 L723.7,934.0 L724.7,932.9 L725.7,932.0 L726.7,931.5 L727.7,931.4 L728.7,930.9 L729.7,929.1 L730.7,926.2 L731.7,923.6 L732.7,922.5 L733.7,922.4 L734.7,922.0 L735.7,920.4 L736.7,918.0 L737.7,915.4 L738.7,912.9 L739.7,910.2 L740.7,907.7 L741.7,905.7 L742.7,904.3 L743.7,902.6 L744.7,900.3 L745.7,897.5 L746.7,894.5 L747.7,891.1 L748.7,887.3 L749.7,883.6 L750.7,880.8 L751.7,878.5 L752.7,876.0 L753.7,872.7 L754.7,868.8 L755.7,865.3 L756.7,862.9 L757.7,861.1 L758.7,859.5 L759.7,857.4 L760.7,852.4 L761.7,851.4 L762.8,850.1 L763.8,848.7 L764.8,847.3 L765.8,846.0 L766.8,844.5 L767.8,842.9 L768.8,841.5 L769.8,840.5 L770.8,840.2 L771.8,840.9 L772.8,842.1 L773.8,843.2 L774.8,843.5 L775.8,842.4 L776.8,840.0 L777.8,837.3 L778.8,835.3 L779.8,835.0 L780.8,835.9 L781.8,837.4 L782.8,839.0 L783.8,840.0 L784.8,840.0 L785.8,838.8 L786.8,836.9 L787.8,834.7 L788.8,832.9 L789.8,830.7 L790.8,828.6 L791.8,826.7 L792.8,825.6 L793.8,826.0 L794.8,827.7 L795.8,828.9 L796.8,827.9 L797.8,823.8 L798.8,818.2 L799.8,813.2 L800.8,810.9 L801.8,810.4 L802.8,810.5 L803.8,810.9 L804.8,811.1 L805.8,810.7 L806.8,809.3 L807.8,807.4 L808.8,805.2 L809.8,802.9 L810.8,800.5 L811.8,797.4 L812.8,794.1 L813.8,790.8 L814.8,787.6 L815.8,784.2 L816.8,781.0 L817.8,778.3 L818.8,777.0 L819.8,776.1 L820.8,775.5 L821.8,775.0 L822.8,774.6 L823.8,774.4 L824.8,774.2 L825.8,774.1 L826.8,774.1 L827.9,774.6 L828.9,775.3 L829.9,776.5 L830.9,778.5 L831.9,780.6 L832.9,782.2 L833.9,782.9 L834.9,783.1 L835.9,783.1 L836.9,782.8 L837.9,782.5 L838.9,781.5 L839.9,780.2 L840.9,779.1 L841.9,778.8 L842.9,780.3 L843.9,782.1 L844.9,781.9 L845.9,780.0 L846.9,776.9 L847.9,773.5 L848.9,770.4 L849.9,768.5 L850.9,768.2 L851.9,769.5 L852.9,771.5 L853.9,773.3 L854.9,774.4 L855.9,775.7 L856.9,777.1 L857.9,778.5 L858.9,779.9 L859.9,781.6 L860.9,783.5 L861.9,785.4 L862.9,787.6 L863.9,792.3 L864.9,798.7 L865.9,807.2 L866.9,816.3 L867.9,822.0 L868.9,827.4 L869.9,832.2 L870.9,836.2 L871.9,840.0 L872.9,844.1 L873.9,848.6 L874.9,853.1 L875.9,856.7 L876.9,867.9 L877.9,874.7 L878.9,880.9 L879.9,886.4 L880.9,891.7 L881.9,897.0 L882.9,902.6 L883.9,908.3 L884.9,913.8 L885.9,918.8 L886.9,923.4 L887.9,927.7 L888.9,931.9 L889.9,936.0 L890.9,939.9 L891.9,943.8 L892.9,947.8 L894.0,951.5 L895.0,954.5 L896.0,956.9 L897.0,959.2 L898.0,961.6 L899.0,963.8 L900.0,965.6 L901.0,966.8 L902.0,967.6 L903.0,968.3 L904.0,968.8 L905.0,969.3 L906.0,970.1 L907.0,972.0 L908.0,974.3 L909.0,976.0 L910.0,976.2 L911.0,975.8 L912.0,975.7 L913.0,976.7 L914.0,978.2 L915.0,979.4 L916.0,980.1 L917.0,980.5 L918.0,980.7 L919.0,980.7 L920.0,980.6 L921.0,980.4 L922.0,980.0 L923.0,979.4 L924.0,979.2 L925.0,979.5 L926.0,980.1" fill="none" stroke="#151515" stroke-width="2.2" stroke-linejoin="round" stroke-linecap="round" /><path d="M759.6,857.3 L760.6,855.3 L761.6,853.5 L762.6,851.7 L763.6,850.1 L764.6,848.6 L765.6,847.4 L766.6,846.4 L767.6,845.6 L768.6,844.9 L769.6,844.3 L770.6,843.7 L771.6,843.1 L772.6,842.4 L773.6,841.7 L774.6,840.9 L775.6,840.1 L776.6,839.3 L777.6,838.5 L778.6,837.7 L779.6,836.9 L780.7,836.0 L781.7,835.0 L782.7,834.0 L783.7,833.0 L784.7,832.1 L785.7,831.3 L786.7,830.6 L787.7,830.0 L788.7,829.5 L789.7,829.0 L790.7,828.5 L791.7,827.8 L792.7,826.9 L793.7,825.6 L794.7,824.0 L795.7,822.0 L796.7,820.0 L797.7,818.0 L798.7,816.1 L799.7,814.4 L800.7,813.1 L801.7,811.9 L802.7,810.9 L803.7,809.8 L804.7,808.7 L805.7,807.5 L806.7,806.1 L807.7,804.3 L808.7,802.3 L809.7,800.1 L810.7,797.8 L811.7,795.6 L812.7,793.3 L813.7,790.8 L814.7,788.2 L815.7,785.8 L816.7,784.0 L817.7,782.9 L818.7,782.3 L819.7,781.7 L820.7,781.3 L821.7,780.9 L822.8,780.6 L823.8,780.3 L824.8,780.1 L825.8,779.8 L826.8,779.7 L827.8,779.5 L828.8,779.4 L829.8,779.3 L830.8,779.2 L831.8,779.0 L832.8,778.9 L833.8,778.7 L834.8,778.5 L835.8,778.2 L836.8,777.9 L837.8,777.6 L838.8,777.2 L839.8,776.9 L840.8,776.5 L841.8,776.1 L842.8,775.6 L843.8,775.1 L844.8,774.5 L845.8,773.8 L846.8,773.2 L847.8,772.6 L848.8,772.1 L849.8,771.8 L850.8,771.7 L851.8,772.0 L852.8,772.8 L853.8,773.9 L854.8,775.3 L855.8,776.8 L856.8,778.2 L857.8,780.0 L858.8,781.9 L859.8,784.1 L860.8,786.6 L861.8,789.3 L862.8,792.4 L863.9,796.4 L864.9,800.8 L865.9,805.3 L866.9,810.0 L867.9,815.0 L868.9,820.2 L869.9,825.7 L870.9,831.2 L871.9,837.1 L872.9,843.1 L873.9,849.2 L874.9,855.3 L875.9,861.4 L876.9,867.6 L877.9,873.7 L878.9,879.6 L879.9,885.3 L880.9,891.0 L881.9,896.7 L882.9,902.3 L883.9,907.7 L884.9,912.9 L885.9,917.9 L886.9,922.6 L887.9,927.0 L888.9,931.3 L889.9,935.3 L890.9,939.1 L891.9,942.7 L892.9,946.3 L893.9,949.8 L894.9,953.2 L895.9,956.4 L896.9,959.2 L897.9,961.5 L898.9,963.3 L899.9,964.9 L900.9,966.3 L901.9,967.6 L902.9,968.8 L903.9,969.9 L904.9,970.9 L906.0,972.0 L907.0,973.0 L908.0,974.0 L909.0,974.9 L910.0,975.7 L911.0,976.4 L912.0,977.0 L913.0,977.4 L914.0,977.8 L915.0,978.2 L916.0,978.5 L917.0,978.8 L918.0,979.0 L919.0,979.3 L920.0,979.5 L921.0,979.8 L922.0,980.0 L923.0,980.2 L924.0,980.5 L925.0,980.7 L926.0,981.0" fill="none" stroke="#34b834" stroke-width="2.3" stroke-linejoin="round" stroke-linecap="round" stroke-opacity="0.8"/><path d="M663.6,971.5 L664.6,971.5 L665.6,971.5 L666.6,971.5 L667.6,971.5 L668.6,971.5 L669.6,971.5 L670.6,971.5 L671.6,971.5 L672.6,971.5 L673.6,971.5 L674.6,971.5 L675.6,971.5 L676.6,971.5 L677.6,971.5 L678.6,971.5 L679.6,971.5 L680.6,971.5 L681.6,971.5 L682.6,971.5 L683.6,971.5 L684.6,971.5 L685.6,971.5 L686.6,971.5 L687.6,971.5 L688.6,971.5 L689.6,971.5 L690.6,971.5 L691.6,971.5 L692.6,971.5 L693.6,971.5 L694.6,971.5 L695.6,971.5 L696.7,971.5 L697.7,971.5 L698.7,971.5 L699.7,971.5 L700.7,971.5 L701.7,971.5 L702.7,971.5 L703.7,971.5 L704.7,971.5 L705.7,971.5 L706.7,971.5 L707.7,971.5 L708.7,971.5 L709.7,971.5 L710.7,971.5 L711.7,971.5 L712.7,971.4 L713.7,971.4 L714.7,971.4 L715.7,971.4 L716.7,971.4 L717.7,971.4 L718.7,971.4 L719.7,971.4 L720.7,971.3 L721.7,971.3 L722.7,971.3 L723.7,971.3 L724.7,971.2 L725.7,971.2 L726.7,971.1 L727.7,971.1 L728.7,971.0 L729.7,971.0 L730.7,970.9 L731.7,970.8 L732.7,970.7 L733.7,970.6 L734.7,970.5 L735.7,970.4 L736.7,970.3 L737.7,970.1 L738.7,969.9 L739.7,969.8 L740.7,969.6 L741.7,969.3 L742.7,969.1 L743.7,968.8 L744.7,968.5 L745.7,968.2 L746.7,967.8 L747.7,967.4 L748.7,967.0 L749.7,966.5 L750.7,966.0 L751.7,965.5 L752.7,964.9 L753.7,964.2 L754.7,963.6 L755.7,962.8 L756.7,962.0 L757.7,961.1 L758.7,960.2 L759.7,959.2 L760.7,958.1 L761.7,957.0 L762.8,955.8 L763.8,954.5 L764.8,953.1 L765.8,951.7 L766.8,950.2 L767.8,948.5 L768.8,946.8 L769.8,945.0 L770.8,943.1 L771.8,941.2 L772.8,939.1 L773.8,936.9 L774.8,934.7 L775.8,932.3 L776.8,929.8 L777.8,927.3 L778.8,924.7 L779.8,922.0 L780.8,919.2 L781.8,916.3 L782.8,913.3 L783.8,910.3 L784.8,907.2 L785.8,904.0 L786.8,900.8 L787.8,897.6 L788.8,894.3 L789.8,890.9 L790.8,887.6 L791.8,884.2 L792.8,880.8 L793.8,877.4 L794.8,874.0 L795.8,870.7 L796.8,867.3 L797.8,864.0 L798.8,860.8 L799.8,857.6 L800.8,854.6 L801.8,851.5 L802.8,848.6 L803.8,845.8 L804.8,843.2 L805.8,840.6 L806.8,838.2 L807.8,835.9 L808.8,833.8 L809.8,831.9 L810.8,830.1 L811.8,828.5 L812.8,827.1 L813.8,825.9 L814.8,824.9 L815.8,824.1 L816.8,823.5 L817.8,823.1 L818.8,822.9 L819.8,823.0 L820.8,823.3 L821.8,823.7 L822.8,824.4 L823.8,825.3 L824.8,826.4 L825.8,827.7 L826.8,829.2 L827.9,831.0 L828.9,832.8 L829.9,834.9 L830.9,837.1 L831.9,839.5 L832.9,842.1 L833.9,844.8 L834.9,847.6 L835.9,850.6 L836.9,853.6 L837.9,856.8 L838.9,860.1 L839.9,863.4 L840.9,866.8 L841.9,870.3 L842.9,873.8 L843.9,877.3 L844.9,880.9 L845.9,884.5 L846.9,888.1 L847.9,891.7 L848.9,895.2 L849.9,898.8 L850.9,902.3 L851.9,905.8 L852.9,909.2 L853.9,912.5 L854.9,915.9 L855.9,919.1 L856.9,922.3 L857.9,925.3 L858.9,928.3 L859.9,931.3 L860.9,934.1 L861.9,936.8 L862.9,939.5 L863.9,942.0 L864.9,944.4 L865.9,946.8 L866.9,949.0 L867.9,951.2 L868.9,953.3 L869.9,955.2 L870.9,957.1 L871.9,958.8 L872.9,960.5 L873.9,962.1 L874.9,963.6 L875.9,965.0 L876.9,966.3 L877.9,967.6 L878.9,968.8 L879.9,969.9 L880.9,970.9 L881.9,971.8 L882.9,972.7 L883.9,973.6 L884.9,974.3 L885.9,975.0 L886.9,975.7 L887.9,976.3 L888.9,976.9 L889.9,977.4 L890.9,977.9 L891.9,978.3 L892.9,978.7 L894.0,979.1 L895.0,979.4 L896.0,979.7 L897.0,980.0 L898.0,980.3 L899.0,980.5 L900.0,980.7 L901.0,980.9 L902.0,981.1 L903.0,981.2 L904.0,981.4 L905.0,981.5 L906.0,981.6 L907.0,981.7 L908.0,981.8 L909.0,981.9 L910.0,982.0 L911.0,982.0 L912.0,982.1 L913.0,982.1 L914.0,982.2 L915.0,982.2 L916.0,982.2 L917.0,982.3 L918.0,982.3 L919.0,982.3 L920.0,982.4 L921.0,982.4 L922.0,982.4 L923.0,982.4 L924.0,982.4 L925.0,982.4 L926.0,982.4" fill="none" stroke="#ea2424" stroke-width="2.4" stroke-linejoin="round" stroke-linecap="round" /><path d="M663.6,973.0 L664.6,973.0 L665.6,973.0 L666.6,973.0 L667.6,973.0 L668.6,973.0 L669.6,973.0 L670.6,973.0 L671.6,973.0 L672.6,973.0 L673.6,973.0 L674.6,973.0 L675.6,973.0 L676.6,973.0 L677.6,973.0 L678.6,973.0 L679.6,973.0 L680.6,973.0 L681.6,973.0 L682.6,973.0 L683.6,973.0 L684.6,973.0 L685.6,973.0 L686.6,973.0 L687.6,973.0 L688.6,973.0 L689.6,973.0 L690.6,973.0 L691.6,973.0 L692.6,973.0 L693.6,973.0 L694.6,973.0 L695.6,973.0 L696.7,973.0 L697.7,973.0 L698.7,973.0 L699.7,973.0 L700.7,973.0 L701.7,973.0 L702.7,973.0 L703.7,973.0 L704.7,973.0 L705.7,973.0 L706.7,973.0 L707.7,973.0 L708.7,973.0 L709.7,973.0 L710.7,973.0 L711.7,973.0 L712.7,973.0 L713.7,973.0 L714.7,973.0 L715.7,973.0 L716.7,973.0 L717.7,973.0 L718.7,973.0 L719.7,973.0 L720.7,973.0 L721.7,973.0 L722.7,973.0 L723.7,973.0 L724.7,973.0 L725.7,973.0 L726.7,973.0 L727.7,973.0 L728.7,973.0 L729.7,973.0 L730.7,973.0 L731.7,973.0 L732.7,973.0 L733.7,973.0 L734.7,973.0 L735.7,973.0 L736.7,973.0 L737.7,973.0 L738.7,973.0 L739.7,973.0 L740.7,973.0 L741.7,973.0 L742.7,973.0 L743.7,973.0 L744.7,973.0 L745.7,973.0 L746.7,973.0 L747.7,973.0 L748.7,973.0 L749.7,973.0 L750.7,973.0 L751.7,973.0 L752.7,973.0 L753.7,973.0 L754.7,973.0 L755.7,973.0 L756.7,973.0 L757.7,973.0 L758.7,973.0 L759.7,973.0 L760.7,973.0 L761.7,973.0 L762.8,973.0 L763.8,973.0 L764.8,973.0 L765.8,973.0 L766.8,973.0 L767.8,973.0 L768.8,973.0 L769.8,973.0 L770.8,973.0 L771.8,973.0 L772.8,973.0 L773.8,973.0 L774.8,973.0 L775.8,973.0 L776.8,973.0 L777.8,973.0 L778.8,973.0 L779.8,973.0 L780.8,973.0 L781.8,973.0 L782.8,973.0 L783.8,973.0 L784.8,972.9 L785.8,972.9 L786.8,972.9 L787.8,972.9 L788.8,972.9 L789.8,972.9 L790.8,972.8 L791.8,972.8 L792.8,972.7 L793.8,972.7 L794.8,972.6 L795.8,972.5 L796.8,972.4 L797.8,972.3 L798.8,972.2 L799.8,972.1 L800.8,971.9 L801.8,971.7 L802.8,971.4 L803.8,971.2 L804.8,970.9 L805.8,970.5 L806.8,970.1 L807.8,969.6 L808.8,969.1 L809.8,968.5 L810.8,967.8 L811.8,967.1 L812.8,966.2 L813.8,965.3 L814.8,964.2 L815.8,963.1 L816.8,961.7 L817.8,960.3 L818.8,958.7 L819.8,957.0 L820.8,955.1 L821.8,953.1 L822.8,950.8 L823.8,948.4 L824.8,945.8 L825.8,943.1 L826.8,940.1 L827.9,936.9 L828.9,933.6 L829.9,930.0 L830.9,926.3 L831.9,922.4 L832.9,918.3 L833.9,914.1 L834.9,909.7 L835.9,905.2 L836.9,900.6 L837.9,895.9 L838.9,891.1 L839.9,886.2 L840.9,881.3 L841.9,876.5 L842.9,871.6 L843.9,866.9 L844.9,862.2 L845.9,857.6 L846.9,853.2 L847.9,849.0 L848.9,845.0 L849.9,841.3 L850.9,837.8 L851.9,834.6 L852.9,831.8 L853.9,829.3 L854.9,827.3 L855.9,825.6 L856.9,824.3 L857.9,823.4 L858.9,823.0 L859.9,823.0 L860.9,823.5 L861.9,824.6 L862.9,826.1 L863.9,828.2 L864.9,830.8 L865.9,833.8 L866.9,837.2 L867.9,841.1 L868.9,845.3 L869.9,849.8 L870.9,854.7 L871.9,859.7 L872.9,865.0 L873.9,870.4 L874.9,875.9 L875.9,881.6 L876.9,887.2 L877.9,892.8 L878.9,898.4 L879.9,903.9 L880.9,909.2 L881.9,914.5 L882.9,919.5 L883.9,924.4 L884.9,929.1 L885.9,933.6 L886.9,937.8 L887.9,941.8 L888.9,945.6 L889.9,949.1 L890.9,952.4 L891.9,955.4 L892.9,958.2 L894.0,960.7 L895.0,963.1 L896.0,965.2 L897.0,967.2 L898.0,968.9 L899.0,970.5 L900.0,971.9 L901.0,973.2 L902.0,974.3 L903.0,975.3 L904.0,976.2 L905.0,976.9 L906.0,977.6 L907.0,978.2 L908.0,978.7 L909.0,979.1 L910.0,979.5 L911.0,979.8 L912.0,980.1 L913.0,980.3 L914.0,980.5 L915.0,980.7 L916.0,980.8 L917.0,981.0 L918.0,981.1 L919.0,981.1 L920.0,981.2 L921.0,981.3 L922.0,981.3 L923.0,981.3 L924.0,981.4 L925.0,981.4 L926.0,981.4" fill="none" stroke="#ea2424" stroke-width="2.4" stroke-linejoin="round" stroke-linecap="round" /><path d="M663.6,963.4 L664.6,962.9 L665.6,962.5 L666.6,962.1 L667.6,961.7 L668.6,961.3 L669.6,961.0 L670.6,960.6 L671.6,960.3 L672.6,960.0 L673.6,959.7 L674.6,959.4 L675.6,959.1 L676.6,958.8 L677.6,958.5 L678.6,958.3 L679.6,958.0 L680.6,957.7 L681.6,957.5 L682.6,957.2 L683.6,957.0 L684.6,956.7 L685.6,956.5 L686.6,956.2 L687.6,956.0 L688.6,955.7 L689.6,955.5 L690.6,955.2 L691.6,954.9 L692.6,954.6 L693.6,954.3 L694.6,954.0 L695.6,953.7 L696.7,953.4 L697.7,953.0 L698.7,952.7 L699.7,952.3 L700.7,951.9 L701.7,951.5 L702.7,951.1 L703.7,950.6 L704.7,950.2 L705.7,949.7 L706.7,949.2 L707.7,948.6 L708.7,948.1 L709.7,947.5 L710.7,946.8 L711.7,946.2 L712.7,945.5 L713.7,944.8 L714.7,944.1 L715.7,943.3 L716.7,942.5 L717.7,941.7 L718.7,940.8 L719.7,939.9 L720.7,938.9 L721.7,937.9 L722.7,936.9 L723.7,935.8 L724.7,934.7 L725.7,933.6 L726.7,932.4 L727.7,931.1 L728.7,929.8 L729.7,928.4 L730.7,927.0 L731.7,925.5 L732.7,923.9 L733.7,922.3 L734.7,920.6 L735.7,918.8 L736.7,916.9 L737.7,915.0 L738.7,912.9 L739.7,910.8 L740.7,908.6 L741.7,906.3 L742.7,903.9 L743.7,901.4 L744.7,898.8 L745.7,896.1 L746.7,893.3 L747.7,890.4 L748.7,887.3 L749.7,884.2 L750.7,881.1 L751.7,877.9 L752.7,874.9 L753.7,871.9 L754.7,869.0 L755.7,866.3 L756.7,863.9 L757.7,861.7 L758.7,859.8 L759.7,858.2 L760.7,856.8 L761.7,855.6 L762.8,854.7 L763.8,854.0 L764.8,853.5 L765.8,853.1 L766.8,853.0 L767.8,853.1 L768.8,853.3 L769.8,853.8 L770.8,854.4 L771.8,855.2 L772.8,856.2 L773.8,857.3 L774.8,858.7 L775.8,860.1 L776.8,861.8 L777.8,863.6 L778.8,865.5 L779.8,867.5 L780.8,869.7 L781.8,871.9 L782.8,874.2 L783.8,876.6 L784.8,879.0 L785.8,881.5 L786.8,884.0 L787.8,886.5 L788.8,889.0 L789.8,891.5 L790.8,894.0 L791.8,896.4 L792.8,898.8 L793.8,901.1 L794.8,903.4 L795.8,905.6 L796.8,907.8 L797.8,909.9 L798.8,912.0 L799.8,914.0 L800.8,916.0 L801.8,917.9 L802.8,919.8 L803.8,921.6 L804.8,923.4 L805.8,925.1 L806.8,926.8 L807.8,928.5 L808.8,930.1 L809.8,931.6 L810.8,933.2 L811.8,934.7 L812.8,936.1 L813.8,937.5 L814.8,938.9 L815.8,940.3 L816.8,941.6 L817.8,942.8 L818.8,944.1 L819.8,945.3 L820.8,946.4 L821.8,947.6 L822.8,948.7 L823.8,949.8 L824.8,950.8 L825.8,951.8 L826.8,952.8 L827.9,953.8 L828.9,954.7 L829.9,955.6 L830.9,956.5 L831.9,957.3 L832.9,958.2 L833.9,959.0 L834.9,959.7 L835.9,960.5 L836.9,961.2 L837.9,961.9 L838.9,962.6 L839.9,963.2 L840.9,963.8 L841.9,964.4 L842.9,965.0 L843.9,965.6 L844.9,966.1 L845.9,966.6 L846.9,967.1 L847.9,967.6 L848.9,968.1 L849.9,968.5 L850.9,968.9 L851.9,969.3 L852.9,969.7 L853.9,970.1 L854.9,970.4 L855.9,970.7 L856.9,971.0 L857.9,971.3 L858.9,971.6 L859.9,971.9 L860.9,972.1 L861.9,972.4 L862.9,972.6 L863.9,972.8 L864.9,973.0 L865.9,973.2 L866.9,973.4 L867.9,973.6 L868.9,973.7 L869.9,973.9 L870.9,974.0 L871.9,974.1 L872.9,974.2 L873.9,974.3 L874.9,974.4 L875.9,974.5 L876.9,974.6 L877.9,974.7 L878.9,974.8 L879.9,974.8 L880.9,974.9 L881.9,975.0 L882.9,975.0 L883.9,975.1 L884.9,975.1 L885.9,975.1 L886.9,975.2 L887.9,975.2 L888.9,975.2 L889.9,975.3 L890.9,975.3 L891.9,975.3 L892.9,975.4 L894.0,975.4 L895.0,975.4 L896.0,975.5 L897.0,975.5 L898.0,975.5 L899.0,975.6 L900.0,975.6 L901.0,975.6 L902.0,975.7 L903.0,975.7 L904.0,975.8 L905.0,975.9 L906.0,975.9 L907.0,976.0 L908.0,976.1 L909.0,976.2 L910.0,976.3 L911.0,976.4 L912.0,976.5 L913.0,976.6 L914.0,976.7 L915.0,976.9 L916.0,977.0 L917.0,977.2 L918.0,977.3 L919.0,977.5 L920.0,977.7 L921.0,977.9 L922.0,978.1 L923.0,978.4 L924.0,978.6 L925.0,978.9 L926.0,979.1" fill="none" stroke="#1e1ed2" stroke-width="2.4" stroke-linejoin="round" stroke-linecap="round" /><path d="M767.0,1001.0 L767.0,853.3" stroke="#1a1a1a" stroke-width="2.2" stroke-dasharray="2.3,2.3" fill="none"/><path d="M760.3,851.8 L720.3,814.9" stroke="#444" stroke-width="2.0" fill="none"/><path d="M712.9,808.1 L725.8,811.8 L717.7,820.6 Z" fill="#000" stroke="#000" stroke-width="0.8" stroke-linejoin="round"/><text x="671.2" y="790.8" font-size="29.2" fill="#000">Ga<tspan font-size="19.3" dy="5.5">2</tspan><tspan dy="-5.5">O</tspan><tspan font-size="19.3" dy="5.5">3</tspan></text>
<path d="M1026.9,1002.2 L1026.9,998.7" stroke="#555" stroke-width="1.4"/><path d="M1093.5,1002.2 L1093.5,998.7" stroke="#555" stroke-width="1.4"/><path d="M1160.8,1002.2 L1160.8,998.7" stroke="#555" stroke-width="1.4"/><path d="M1227.2,1002.2 L1227.2,998.7" stroke="#555" stroke-width="1.4"/><path d="M1004.2,987.0 L1005.2,988.9 L1006.2,988.4 L1007.2,985.3 L1008.2,981.0 L1009.2,977.0 L1010.2,974.8 L1011.2,974.7 L1012.2,975.9 L1013.2,977.2 L1014.2,977.5 L1015.2,977.4 L1016.2,977.1 L1017.2,976.7 L1018.2,976.4 L1019.2,976.2 L1020.2,976.2 L1021.2,976.1 L1022.2,976.1 L1023.2,976.1 L1024.2,976.2 L1025.2,976.2 L1026.2,976.2 L1027.2,976.4 L1028.2,976.8 L1029.2,977.2 L1030.2,977.5 L1031.2,977.5 L1032.2,977.1 L1033.2,976.3 L1034.2,975.2 L1035.2,973.8 L1036.2,972.1 L1037.2,970.4 L1038.2,968.8 L1039.2,967.3 L1040.2,966.1 L1041.2,965.0 L1042.2,963.9 L1043.2,962.9 L1044.2,962.0 L1045.2,961.2 L1046.2,960.6 L1047.2,960.1 L1048.2,959.8 L1049.2,959.9 L1050.2,960.2 L1051.2,960.7 L1052.2,961.1 L1053.2,961.6 L1054.2,962.7 L1055.2,963.7 L1056.2,964.1 L1057.2,963.2 L1058.2,960.2 L1059.2,955.0 L1060.2,948.6 L1061.2,942.3 L1062.2,937.4 L1063.2,934.8 L1064.2,934.0 L1065.2,934.2 L1066.2,934.5 L1067.2,934.2 L1068.2,933.0 L1069.1,931.6 L1070.1,929.9 L1071.1,928.1 L1072.1,926.2 L1073.1,924.3 L1074.1,922.6 L1075.1,921.0 L1076.1,919.3 L1077.1,917.6 L1078.1,916.0 L1079.1,914.6 L1080.1,913.4 L1081.1,912.6 L1082.1,912.3 L1083.1,912.6 L1084.1,913.3 L1085.1,913.9 L1086.1,914.3 L1087.1,914.0 L1088.1,912.9 L1089.1,910.9 L1090.1,908.4 L1091.1,905.6 L1092.1,903.0 L1093.1,900.9 L1094.1,899.3 L1095.1,898.1 L1096.1,897.8 L1097.1,898.4 L1098.1,899.2 L1099.1,900.2 L1100.1,901.4 L1101.1,902.9 L1102.1,904.4 L1103.1,906.0 L1104.1,907.5 L1105.1,909.0 L1106.1,911.1 L1107.1,913.3 L1108.1,915.4 L1109.1,917.4 L1110.1,919.0 L1111.1,919.9 L1112.1,920.2 L1113.1,921.1 L1114.1,923.8 L1115.1,928.8 L1116.1,934.8 L1117.1,939.9 L1118.1,942.2 L1119.1,943.0 L1120.1,943.3 L1121.1,943.4 L1122.1,943.6 L1123.1,944.2 L1124.1,946.7 L1125.1,953.4 L1126.1,959.5 L1127.1,961.1 L1128.1,961.5 L1129.1,961.5 L1130.1,961.6 L1131.1,962.1 L1132.1,963.0 L1133.1,964.2 L1134.1,965.5 L1135.1,966.8 L1136.1,968.2 L1137.1,970.1 L1138.1,972.2 L1139.1,974.0 L1140.1,975.0 L1141.1,975.0 L1142.1,974.3 L1143.1,973.5 L1144.1,972.7 L1145.1,972.5 L1146.1,973.3 L1147.1,974.6 L1148.1,976.0 L1149.1,975.5 L1150.1,974.8 L1151.1,974.1 L1152.1,973.1 L1153.1,971.7 L1154.1,970.1 L1155.1,968.5 L1156.1,967.3 L1157.1,966.2 L1158.1,964.8 L1159.1,963.1 L1160.1,961.2 L1161.1,958.9 L1162.1,956.3 L1163.1,953.4 L1164.1,950.3 L1165.1,947.1 L1166.1,943.8 L1167.1,939.8 L1168.1,935.2 L1169.1,930.2 L1170.1,925.2 L1171.1,920.6 L1172.1,916.1 L1173.1,911.4 L1174.1,906.4 L1175.1,901.0 L1176.1,895.3 L1177.1,889.0 L1178.1,881.9 L1179.1,874.6 L1180.1,867.9 L1181.1,862.0 L1182.1,856.2 L1183.1,850.3 L1184.1,844.6 L1185.1,839.6 L1186.1,835.4 L1187.1,831.6 L1188.1,827.8 L1189.1,823.5 L1190.1,819.2 L1191.1,815.1 L1192.1,811.7 L1193.1,808.7 L1194.1,805.8 L1195.1,802.8 L1196.1,799.6 L1197.1,796.6 L1198.1,793.8 L1199.0,791.1 L1200.0,789.1 L1201.0,788.2 L1202.0,787.9 L1203.0,787.5 L1204.0,786.3 L1205.0,784.7 L1206.0,783.4 L1207.0,782.4 L1208.0,781.5 L1209.0,780.6 L1210.0,780.0 L1211.0,779.9 L1212.0,781.5 L1213.0,785.6 L1214.0,790.0 L1215.0,794.6 L1216.0,800.4 L1217.0,806.9 L1218.0,813.3 L1219.0,819.4 L1220.0,825.1 L1221.0,830.9 L1222.0,837.0 L1223.0,843.3 L1224.0,849.9 L1225.0,857.0 L1226.0,864.3 L1227.0,871.1 L1228.0,876.9 L1229.0,882.1 L1230.0,887.8 L1231.0,894.7 L1232.0,902.1 L1233.0,908.8 L1234.0,914.1 L1235.0,918.9 L1236.0,924.1 L1237.0,930.3 L1238.0,937.0 L1239.0,943.5 L1240.0,949.6 L1241.0,955.2 L1242.0,960.1 L1243.0,964.4 L1244.0,968.0 L1245.0,971.5 L1246.0,974.7 L1247.0,977.7 L1248.0,980.2 L1249.0,982.2 L1250.0,983.8 L1251.0,985.0 L1252.0,985.8 L1253.0,986.4 L1254.0,986.9 L1255.0,987.6 L1256.0,988.2 L1257.0,988.7 L1258.0,989.2 L1259.0,989.6 L1260.0,990.0 L1261.0,990.3 L1262.0,990.7 L1263.0,990.9" fill="none" stroke="#151515" stroke-width="2.2" stroke-linejoin="round" stroke-linecap="round" /><path d="M1146.0,975.5 L1147.0,975.5 L1148.0,975.5 L1149.0,974.7 L1150.0,973.9 L1151.0,973.1 L1152.0,972.2 L1153.0,971.3 L1154.0,970.3 L1155.0,969.2 L1156.0,967.9 L1157.0,966.4 L1158.0,964.8 L1159.0,963.0 L1160.0,961.0 L1161.0,958.7 L1162.0,956.1 L1163.0,953.1 L1164.0,949.8 L1165.0,946.4 L1166.0,942.8 L1167.0,938.7 L1168.0,934.2 L1169.0,929.6 L1170.0,924.8 L1171.0,920.0 L1172.0,915.3 L1173.0,910.5 L1174.0,905.7 L1175.0,900.6 L1176.0,895.2 L1177.0,889.4 L1178.0,882.8 L1179.0,875.8 L1180.0,869.1 L1181.0,863.0 L1182.0,857.2 L1183.0,851.7 L1184.0,846.4 L1185.0,841.4 L1186.0,836.7 L1187.0,832.3 L1188.0,828.0 L1189.0,824.0 L1190.0,820.1 L1191.0,816.4 L1192.0,812.9 L1193.0,809.7 L1194.0,806.7 L1195.0,803.7 L1196.0,800.7 L1197.0,797.9 L1198.0,795.3 L1199.0,792.9 L1200.0,790.8 L1201.0,789.0 L1202.0,787.7 L1203.0,786.6 L1204.0,785.8 L1205.0,784.9 L1206.0,784.0 L1207.0,782.8 L1208.0,781.5 L1209.0,780.1 L1210.0,779.1 L1211.0,778.6 L1212.0,780.1 L1213.0,784.7 L1214.0,790.0 L1215.0,795.0 L1216.0,800.6 L1217.0,806.6 L1218.0,812.9 L1219.0,819.3 L1220.0,825.7 L1221.0,831.9 L1222.0,838.2 L1223.0,844.5 L1224.0,850.9 L1225.0,857.4 L1226.0,863.9 L1227.0,870.3 L1228.0,876.6 L1229.0,882.9 L1230.0,889.0 L1231.0,895.1 L1232.0,901.1 L1233.0,907.1 L1234.0,913.0 L1235.0,918.9 L1236.0,924.7 L1237.0,930.5 L1238.0,936.3 L1239.0,942.2 L1240.0,947.9 L1241.0,953.4 L1242.0,958.5 L1243.0,963.7 L1244.0,968.6 L1245.0,972.8 L1246.0,976.0 L1247.0,978.4 L1248.0,980.5 L1249.0,982.3 L1250.0,983.8 L1251.0,985.0 L1252.0,986.0 L1253.0,987.0 L1254.0,987.8 L1255.0,988.5 L1256.0,989.1 L1257.0,989.5 L1258.0,989.8 L1259.0,990.1 L1260.0,990.3 L1261.0,990.6 L1262.0,990.8 L1263.0,991.0" fill="none" stroke="#34b834" stroke-width="2.3" stroke-linejoin="round" stroke-linecap="round" stroke-opacity="0.8"/><path d="M1145.0,987.6 L1146.0,987.3 L1147.0,986.8 L1148.0,986.3 L1149.0,985.7 L1150.0,985.0 L1151.0,984.2 L1152.0,983.3 L1153.0,982.3 L1154.0,981.2 L1155.0,979.8 L1156.0,978.4 L1157.0,976.7 L1158.0,974.9 L1159.0,972.9 L1160.0,970.7 L1161.0,968.3 L1162.0,965.6 L1163.0,962.8 L1164.0,959.7 L1165.0,956.4 L1166.0,952.9 L1167.0,949.1 L1168.0,945.2 L1169.0,941.1 L1170.0,936.8 L1171.0,932.4 L1172.0,927.9 L1173.0,923.2 L1174.0,918.5 L1175.0,913.8 L1176.0,909.1 L1177.0,904.4 L1178.0,899.9 L1179.0,895.5 L1180.0,891.2 L1181.0,887.2 L1182.0,883.5 L1183.0,880.0 L1184.0,877.0 L1185.0,874.3 L1186.0,872.0 L1187.0,870.1 L1188.0,868.7 L1189.0,867.8 L1190.0,867.4 L1191.0,867.5 L1192.0,868.1 L1193.0,869.2 L1194.0,870.7 L1195.0,872.7 L1196.0,875.2 L1197.0,878.0 L1198.0,881.3 L1199.0,884.8 L1200.0,888.7 L1201.0,892.8 L1202.0,897.2 L1203.0,901.7 L1204.0,906.3 L1205.0,911.0 L1206.0,915.8 L1207.0,920.5 L1208.0,925.3 L1209.0,929.9 L1210.0,934.5 L1211.0,938.9 L1212.0,943.2 L1213.0,947.3 L1214.0,951.2 L1215.0,954.9 L1216.0,958.4 L1217.0,961.7 L1218.0,964.7 L1219.0,967.6 L1220.0,970.2 L1221.0,972.6 L1222.0,974.8 L1223.0,976.7 L1224.0,978.5 L1225.0,980.1 L1226.0,981.6 L1227.0,982.9 L1228.0,984.0 L1229.0,985.0 L1230.0,985.9 L1231.0,986.7 L1232.0,987.3 L1233.0,987.9 L1234.0,988.4 L1235.0,988.8 L1236.0,989.2 L1237.0,989.5 L1238.0,989.8 L1239.0,990.0 L1240.0,990.2 L1241.0,990.3 L1242.0,990.4 L1243.0,990.6 L1244.0,990.6 L1245.0,990.7 L1246.0,990.8 L1247.0,990.8 L1248.0,990.9 L1249.0,990.9 L1250.0,990.9 L1251.0,990.9 L1252.0,990.9 L1253.0,991.0 L1254.0,991.0 L1255.0,991.0 L1256.0,991.0 L1257.0,991.0 L1258.0,991.0 L1259.0,991.0 L1260.0,991.0 L1261.0,991.0 L1262.0,991.0 L1263.0,991.0" fill="none" stroke="#ea2424" stroke-width="2.4" stroke-linejoin="round" stroke-linecap="round" /><path d="M1145.0,989.5 L1146.0,989.5 L1147.0,989.5 L1148.0,989.5 L1149.0,989.5 L1150.0,989.5 L1151.0,989.5 L1152.0,989.5 L1153.0,989.5 L1154.0,989.5 L1155.0,989.5 L1156.0,989.5 L1157.0,989.5 L1158.0,989.5 L1159.0,989.4 L1160.0,989.4 L1161.0,989.4 L1162.0,989.4 L1163.0,989.3 L1164.0,989.3 L1165.0,989.2 L1166.0,989.1 L1167.0,989.0 L1168.0,988.9 L1169.0,988.8 L1170.0,988.6 L1171.0,988.3 L1172.0,988.0 L1173.0,987.7 L1174.0,987.3 L1175.0,986.8 L1176.0,986.2 L1177.0,985.5 L1178.0,984.6 L1179.0,983.7 L1180.0,982.5 L1181.0,981.2 L1182.0,979.7 L1183.0,978.0 L1184.0,976.0 L1185.0,973.7 L1186.0,971.2 L1187.0,968.4 L1188.0,965.3 L1189.0,961.8 L1190.0,958.0 L1191.0,953.9 L1192.0,949.4 L1193.0,944.6 L1194.0,939.4 L1195.0,934.0 L1196.0,928.2 L1197.0,922.2 L1198.0,916.0 L1199.0,909.5 L1200.0,903.0 L1201.0,896.4 L1202.0,889.7 L1203.0,883.1 L1204.0,876.7 L1205.0,870.4 L1206.0,864.5 L1207.0,858.8 L1208.0,853.6 L1209.0,848.9 L1210.0,844.8 L1211.0,841.2 L1212.0,838.4 L1213.0,836.2 L1214.0,834.8 L1215.0,834.1 L1216.0,834.3 L1217.0,835.2 L1218.0,836.8 L1219.0,839.2 L1220.0,842.3 L1221.0,846.0 L1222.0,850.4 L1223.0,855.2 L1224.0,860.6 L1225.0,866.4 L1226.0,872.5 L1227.0,878.8 L1228.0,885.4 L1229.0,892.0 L1230.0,898.7 L1231.0,905.4 L1232.0,912.0 L1233.0,918.4 L1234.0,924.6 L1235.0,930.6 L1236.0,936.4 L1237.0,941.8 L1238.0,946.9 L1239.0,951.7 L1240.0,956.1 L1241.0,960.2 L1242.0,963.9 L1243.0,967.3 L1244.0,970.4 L1245.0,973.2 L1246.0,975.7 L1247.0,977.9 L1248.0,979.8 L1249.0,981.5 L1250.0,983.0 L1251.0,984.3 L1252.0,985.4 L1253.0,986.3 L1254.0,987.1 L1255.0,987.8 L1256.0,988.4 L1257.0,988.9 L1258.0,989.3 L1259.0,989.6 L1260.0,989.9 L1261.0,990.1 L1262.0,990.3 L1263.0,990.4" fill="none" stroke="#ea2424" stroke-width="2.4" stroke-linejoin="round" stroke-linecap="round" /><path d="M1004.2,982.6 L1005.2,982.7 L1006.2,982.7 L1007.2,982.7 L1008.2,982.7 L1009.2,982.7 L1010.2,982.7 L1011.2,982.6 L1012.2,982.5 L1013.2,982.4 L1014.2,982.3 L1015.2,982.2 L1016.2,982.0 L1017.2,981.8 L1018.2,981.6 L1019.2,981.4 L1020.2,981.1 L1021.2,980.9 L1022.2,980.6 L1023.2,980.2 L1024.2,979.9 L1025.2,979.5 L1026.2,979.1 L1027.2,978.7 L1028.2,978.3 L1029.2,977.8 L1030.2,977.3 L1031.2,976.8 L1032.2,976.2 L1033.2,975.7 L1034.2,975.1 L1035.2,974.5 L1036.2,973.8 L1037.2,973.1 L1038.2,972.4 L1039.2,971.7 L1040.2,970.9 L1041.2,970.1 L1042.2,969.3 L1043.2,968.5 L1044.2,967.6 L1045.2,966.7 L1046.2,965.7 L1047.2,964.8 L1048.2,963.8 L1049.2,962.7 L1050.2,961.7 L1051.2,960.6 L1052.2,959.4 L1053.2,958.3 L1054.2,957.1 L1055.2,955.9 L1056.2,954.6 L1057.2,953.3 L1058.2,952.0 L1059.2,950.6 L1060.2,949.2 L1061.2,947.8 L1062.2,946.4 L1063.2,944.9 L1064.2,943.3 L1065.2,941.8 L1066.2,940.2 L1067.2,938.5 L1068.2,936.8 L1069.1,935.1 L1070.1,933.4 L1071.1,931.6 L1072.1,929.9 L1073.1,928.1 L1074.1,926.4 L1075.1,924.6 L1076.1,922.9 L1077.1,921.1 L1078.1,919.5 L1079.1,917.8 L1080.1,916.2 L1081.1,914.7 L1082.1,913.2 L1083.1,911.8 L1084.1,910.4 L1085.1,909.2 L1086.1,908.0 L1087.1,906.9 L1088.1,905.9 L1089.1,905.0 L1090.1,904.3 L1091.1,903.7 L1092.1,903.2 L1093.1,902.8 L1094.1,902.6 L1095.1,902.5 L1096.1,902.6 L1097.1,902.8 L1098.1,903.3 L1099.1,903.9 L1100.1,904.6 L1101.1,905.5 L1102.1,906.6 L1103.1,907.8 L1104.1,909.2 L1105.1,910.6 L1106.1,912.2 L1107.1,913.8 L1108.1,915.6 L1109.1,917.4 L1110.1,919.3 L1111.1,921.3 L1112.1,923.3 L1113.1,925.4 L1114.1,927.5 L1115.1,929.6 L1116.1,931.7 L1117.1,933.8 L1118.1,935.9 L1119.1,938.0 L1120.1,940.1 L1121.1,942.1 L1122.1,944.1 L1123.1,946.0 L1124.1,947.8 L1125.1,949.6 L1126.1,951.3 L1127.1,953.0 L1128.1,954.6 L1129.1,956.1 L1130.1,957.5 L1131.1,958.9 L1132.1,960.2 L1133.1,961.5 L1134.1,962.7 L1135.1,963.9 L1136.1,965.0 L1137.1,966.0 L1138.1,967.0 L1139.1,968.0 L1140.1,968.9 L1141.1,969.8 L1142.1,970.6 L1143.1,971.4 L1144.1,972.2 L1145.1,972.9 L1146.1,973.6 L1147.1,974.2 L1148.1,974.9 L1149.1,975.4 L1150.1,976.0 L1151.1,976.6 L1152.1,977.1 L1153.1,977.6 L1154.1,978.1 L1155.1,978.5 L1156.1,979.0 L1157.1,979.4 L1158.1,979.8 L1159.1,980.2 L1160.1,980.6 L1161.1,981.0 L1162.1,981.4 L1163.1,981.7 L1164.1,982.1 L1165.1,982.4 L1166.1,982.7 L1167.1,983.0 L1168.1,983.3 L1169.1,983.5 L1170.1,983.8 L1171.1,984.0 L1172.1,984.3 L1173.1,984.5 L1174.1,984.7 L1175.1,984.9 L1176.1,985.1 L1177.1,985.3 L1178.1,985.5 L1179.1,985.6 L1180.1,985.8 L1181.1,985.9 L1182.1,986.1 L1183.1,986.2 L1184.1,986.3 L1185.1,986.4 L1186.1,986.5 L1187.1,986.6 L1188.1,986.7 L1189.1,986.8 L1190.1,986.9 L1191.1,986.9 L1192.1,987.0 L1193.1,987.0 L1194.1,987.1 L1195.1,987.1 L1196.1,987.2 L1197.1,987.2 L1198.1,987.2 L1199.0,987.2 L1200.0,987.3 L1201.0,987.3 L1202.0,987.3 L1203.0,987.3 L1204.0,987.3 L1205.0,987.3 L1206.0,987.3 L1207.0,987.3 L1208.0,987.3 L1209.0,987.2 L1210.0,987.2 L1211.0,987.2 L1212.0,987.2 L1213.0,987.2 L1214.0,987.1 L1215.0,987.1 L1216.0,987.1 L1217.0,987.1 L1218.0,987.1 L1219.0,987.0 L1220.0,987.0 L1221.0,987.0 L1222.0,987.0 L1223.0,987.0 L1224.0,986.9 L1225.0,986.9 L1226.0,986.9 L1227.0,986.9 L1228.0,986.9 L1229.0,986.9 L1230.0,986.9 L1231.0,986.9 L1232.0,986.9 L1233.0,986.9 L1234.0,986.9 L1235.0,986.9 L1236.0,987.0 L1237.0,987.0 L1238.0,987.0 L1239.0,987.0 L1240.0,987.1 L1241.0,987.1 L1242.0,987.2 L1243.0,987.2 L1244.0,987.3 L1245.0,987.4 L1246.0,987.5 L1247.0,987.5 L1248.0,987.6 L1249.0,987.7 L1250.0,987.8 L1251.0,988.0 L1252.0,988.1 L1253.0,988.2 L1254.0,988.4 L1255.0,988.5 L1256.0,988.7 L1257.0,988.9 L1258.0,989.0 L1259.0,989.2 L1260.0,989.4 L1261.0,989.6 L1262.0,989.9 L1263.0,990.0" fill="none" stroke="#1e1ed2" stroke-width="2.4" stroke-linejoin="round" stroke-linecap="round" /><path d="M1092.0,1002.0 L1091.5,901.0" stroke="#1a1a1a" stroke-width="2.2" stroke-dasharray="2.3,2.3" fill="none"/><path d="M1081.0,895.2 L1052.3,860.4" stroke="#444" stroke-width="2.0" fill="none"/><path d="M1045.9,852.7 L1058.2,858.1 L1048.9,865.8 Z" fill="#000" stroke="#000" stroke-width="0.8" stroke-linejoin="round"/><text x="1015.4000000000001" y="842.5" font-size="29.2" fill="#000">As<tspan font-size="19.3" dy="5.5">2</tspan><tspan dy="-5.5">O</tspan><tspan font-size="19.3" dy="5.5">5</tspan></text>
<rect x="306.0" y="95.8" width="282.0" height="282.0" fill="none" stroke="#8a8a8a" stroke-width="2.2" stroke-linejoin="round"/>
<rect x="647.7" y="95.8" width="283.7" height="282.0" fill="none" stroke="#8a8a8a" stroke-width="2.2" stroke-linejoin="round"/>
<rect x="988.1" y="102.2" width="277.5" height="275.6" fill="none" stroke="#8a8a8a" stroke-width="2.2" stroke-linejoin="round"/>
<rect x="305.8" y="411.4" width="282.1" height="283.2" fill="none" stroke="#8a8a8a" stroke-width="2.2" stroke-linejoin="round"/>
<rect x="647.7" y="410.9" width="283.7" height="283.7" fill="none" stroke="#8a8a8a" stroke-width="2.2" stroke-linejoin="round"/>
<rect x="990.6" y="410.9" width="283.8" height="283.7" fill="none" stroke="#8a8a8a" stroke-width="2.2" stroke-linejoin="round"/>
<rect x="308.0" y="719.7" width="284.3" height="281.9" fill="none" stroke="#8a8a8a" stroke-width="2.2" stroke-linejoin="round"/>
<rect x="651.0" y="719.7" width="282.3" height="281.7" fill="none" stroke="#8a8a8a" stroke-width="2.2" stroke-linejoin="round"/>
<rect x="994.5" y="719.7" width="269.3" height="282.5" fill="none" stroke="#8a8a8a" stroke-width="2.2" stroke-linejoin="round"/>
<text x="319.5" y="1021" font-size="16.5" fill="#000" text-anchor="middle" stroke="#000" stroke-width="0.45">454</text>
<text x="364.5" y="1021" font-size="16.5" fill="#000" text-anchor="middle" stroke="#000" stroke-width="0.45">452</text>
<text x="410" y="1021" font-size="16.5" fill="#000" text-anchor="middle" stroke="#000" stroke-width="0.45">450</text>
<text x="455.75" y="1021" font-size="16.5" fill="#000" text-anchor="middle" stroke="#000" stroke-width="0.45">448</text>
<text x="500.75" y="1021" font-size="16.5" fill="#000" text-anchor="middle" stroke="#000" stroke-width="0.45">446</text>
<text x="547" y="1021" font-size="16.5" fill="#000" text-anchor="middle" stroke="#000" stroke-width="0.45">444</text>
<text x="592.5" y="1021" font-size="16.5" fill="#000" text-anchor="middle" stroke="#000" stroke-width="0.45">442</text>
<text x="651" y="1021" font-size="16.5" fill="#000" text-anchor="middle" stroke="#000" stroke-width="0.45">23</text>
<text x="694.5" y="1021" font-size="16.5" fill="#000" text-anchor="middle" stroke="#000" stroke-width="0.45">22</text>
<text x="738.75" y="1021" font-size="16.5" fill="#000" text-anchor="middle" stroke="#000" stroke-width="0.45">21</text>
<text x="783" y="1021" font-size="16.5" fill="#000" text-anchor="middle" stroke="#000" stroke-width="0.45">20</text>
<text x="827.5" y="1021" font-size="16.5" fill="#000" text-anchor="middle" stroke="#000" stroke-width="0.45">19</text>
<text x="872.5" y="1021" font-size="16.5" fill="#000" text-anchor="middle" stroke="#000" stroke-width="0.45">18</text>
<text x="915.75" y="1021" font-size="16.5" fill="#000" text-anchor="middle" stroke="#000" stroke-width="0.45">17</text>
<text x="1026.5" y="1021" font-size="16.5" fill="#000" text-anchor="middle" stroke="#000" stroke-width="0.45">46</text>
<text x="1093" y="1021" font-size="16.5" fill="#000" text-anchor="middle" stroke="#000" stroke-width="0.45">44</text>
<text x="1160" y="1021" font-size="16.5" fill="#000" text-anchor="middle" stroke="#000" stroke-width="0.45">42</text>
<text x="1227" y="1021" font-size="16.5" fill="#000" text-anchor="middle" stroke="#000" stroke-width="0.45">40</text>
<text x="430.8" y="23.1" font-size="27.4" fill="#2222e0" text-anchor="middle" >Indium</text>
<text x="771.5" y="23.1" font-size="27.4" fill="#2222e0" text-anchor="middle" >Gallium</text>
<text x="1134.7" y="23.1" font-size="28.2" fill="#2222e0" text-anchor="middle" >Arsenic</text>
<text x="387.5" y="55.6" font-size="27.4" fill="#2222e0">(In3d<tspan font-size="17.0" dy="6">5/2</tspan><tspan dy="-6">)</tspan></text>
<text x="722.5" y="55.6" font-size="27.4" fill="#2222e0">(Ga3d<tspan font-size="17.0" dy="6">5/2</tspan><tspan dy="-6">)</tspan></text>
<text x="1083.5" y="55.6" font-size="28" fill="#2222e0">(As3d<tspan font-size="17.4" dy="6">5/2</tspan><tspan dy="-6">)</tspan></text>
<text x="4" y="238" font-size="27.2" fill="#2222e0" text-anchor="start" >(a) Reference</text>
<text x="3.0" y="554" font-size="26.9" fill="#2222e0">(b) HCl &lt; H<tspan font-size="17.8" dy="6">2</tspan><tspan dy="-6">O</tspan><tspan font-size="17.8" dy="6">2</tspan></text>
<text x="46.5" y="588" font-size="27.2" fill="#2222e0" text-anchor="start" >treated</text>
<text x="28.8" y="861" font-size="26.8" fill="#2222e0">(c) HCl &gt; H<tspan font-size="17.7" dy="6">2</tspan><tspan dy="-6">O</tspan><tspan font-size="17.7" dy="6">2</tspan></text>
<text x="72" y="893.6" font-size="27.2" fill="#2222e0" text-anchor="start" >treated</text>
<text x="0" y="0" font-size="34.3" fill="#000" transform="translate(259,763.5) rotate(-90)">Normalized Intensity (a.u.)</text>
<text x="688.5" y="1071.3" font-size="29.3" fill="#000" text-anchor="start" >Binding Energy (eV)</text></g>
</svg>
</body></html>
